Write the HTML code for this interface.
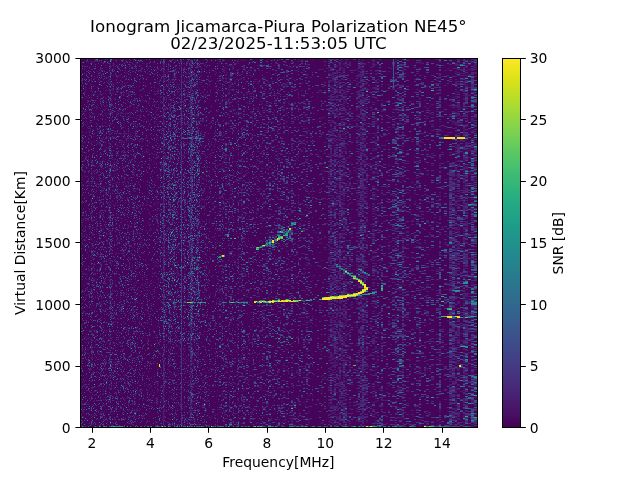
<!DOCTYPE html>
<html lang="en"><head><meta charset="utf-8"><title>Ionogram Jicamarca-Piura</title>
<style>html,body{margin:0;padding:0;background:#fff}body{width:640px;height:480px;overflow:hidden}svg{display:block}text{font-family:"DejaVu Sans","Liberation Sans",sans-serif;fill:#000}.t10{font-size:13.889px}.t12{font-size:16.667px}</style></head>
<body>
<svg width="640" height="480" viewBox="0 0 640 480">
<rect width="640" height="480" fill="#fff"/>
<g shape-rendering="crispEdges" fill="none" stroke-width="1">
<path d="M80 58h398v370h-398z" fill="#450457" stroke="none"/>
<path stroke="#481c6e" d="M123 59.5h1m37 0h1m15 0h1m13 0h1m26 0h1m19 0h1m35 0h1m3 0h2m32 0h1m17 0h2m2 0h2m2 0h1m2 0h2m2 0h4m23 0h3m20 0h2m39 0h3m18 0h3m3 0h2m6 0h6m-362 1h1m7 0h1m6 0h1m5 0h1m2 0h1m24 0h1m10 0h1m4 0h1m9 0h1m33 0h1m16 0h1m1 0h2m27 0h2m32 0h2m54 0h2m8 0h3m82 0h3m5 0h3m-377 1h1m7 0h1m8 0h1m2 0h1m4 0h1m16 0h1m34 0h1m6 0h1m12 0h1m1 0h1m8 0h1m22 0h1m15 0h1m52 0h2m5 0h1m31 0h2m9 0h2m2 0h2m25 0h3m2 0h2m16 0h2m42 0h2m27 0h3m3 0h3m-389 1h1m3 0h1m10 0h1m21 0h1m23 0h1m4 0h1m8 0h1m23 0h1m2 0h2m142 0h2m3 0h2m4 0h2m2 0h2m106 0h3m11 0h3m-364 1h1m53 0h1m8 0h1m9 0h2m6 0h1m30 0h1m11 0h3m1 0h1m36 0h2m55 0h2m9 0h2m4 0h2m13 0h2m6 0h3m46 0h3m2 0h3m26 0h2m8 0h3m6 0h3m-368 1h1m3 0h2m18 0h1m1 0h1m27 0h2m1 0h1m18 0h1m4 0h2m13 0h1m54 0h2m44 0h2m31 0h2m2 0h2m4 0h2m7 0h2m4 0h2m6 0h5m15 0h3m54 0h3m3 0h5m3 0h2m3 0h3m3 0h3m-372 1h1m4 0h1m1 0h1m24 0h1m1 0h2m6 0h1m15 0h1m17 0h1m12 0h1m22 0h1m12 0h3m24 0h3m5 0h1m8 0h1m2 0h1m7 0h1m8 0h2m2 0h1m25 0h2m10 0h2m1 0h2m4 0h2m25 0h3m4 0h2m11 0h3m9 0h2m30 0h3m16 0h5m5 0h3m6 0h3m-387 1h1m2 0h1m24 0h1m2 0h1m5 0h1m19 0h1m1 0h1m10 0h1m3 0h1m14 0h1m1 0h1m8 0h2m4 0h1m36 0h1m7 0h1m1 0h2m83 0h2m6 0h2m7 0h2m11 0h4m10 0h3m-269 1h1m17 0h1m38 0h1m24 0h1m9 0h1m1 0h1m5 0h1m17 0h1m18 0h2m8 0h1m14 0h1m22 0h2m37 0h2m7 0h4m17 0h4m24 0h2m5 0h2m5 0h2m2 0h3m54 0h5m-379 1h1m10 0h2m39 0h1m16 0h1m5 0h1m7 0h1m3 0h1m6 0h1m17 0h1m23 0h2m16 0h2m5 0h2m36 0h1m14 0h2m21 0h2m4 0h2m9 0h2m13 0h2m30 0h2m10 0h2m43 0h2m3 0h3m2 0h3m3 0h2m-373 1h1m1 0h1m15 0h1m2 0h1m39 0h1m9 0h1m3 0h1m5 0h1m14 0h1m1 0h1m7 0h1m24 0h1m8 0h1m65 0h1m23 0h2m6 0h2m2 0h2m3 0h4m13 0h2m2 0h4m96 0h3m5 0h6m-375 1h1m11 0h1m13 0h1m4 0h1m7 0h1m22 0h1m12 0h2m47 0h1m5 0h1m15 0h1m48 0h4m5 0h2m23 0h2m2 0h2m2 0h2m1 0h2m8 0h2m2 0h3m6 0h2m11 0h2m25 0h2m40 0h3m13 0h8m3 0h3m-388 1h1m2 0h1m7 0h1m11 0h1m8 0h1m16 0h1m17 0h1m12 0h1m9 0h1m4 0h1m8 0h1m24 0h1m6 0h2m30 0h2m80 0h2m5 0h2m13 0h4m2 0h2m9 0h2m11 0h2m12 0h2m51 0h2m-366 1h1m35 0h1m35 0h2m2 0h1m6 0h1m13 0h1m1 0h1m25 0h1m2 0h2m6 0h1m14 0h1m3 0h2m18 0h2m64 0h6m1 0h2m116 0h3m14 0h3m-377 1h1m24 0h1m2 0h1m18 0h1m7 0h1m20 0h1m4 0h1m9 0h2m41 0h2m6 0h1m32 0h2m51 0h2m2 0h2m2 0h2m3 0h2m19 0h4m50 0h3m20 0h2m19 0h3m8 0h6m-376 1h1m18 0h1m38 0h1m3 0h1m9 0h1m1 0h1m5 0h2m7 0h1m1 0h1m32 0h2m47 0h1m31 0h2m22 0h4m5 0h2m2 0h2m2 0h2m9 0h2m15 0h2m20 0h2m69 0h3m-379 1h1m4 0h1m15 0h1m5 0h1m10 0h1m29 0h1m14 0h1m16 0h1m1 0h2m1 0h1m3 0h1m17 0h2m1 0h1m2 0h2m19 0h2m1 0h3m54 0h2m22 0h2m2 0h4m1 0h2m15 0h4m79 0h2m16 0h14m-374 1h1m3 0h1m1 0h1m12 0h1m1 0h1m17 0h1m3 0h1m17 0h1m21 0h1m9 0h1m3 0h1m1 0h2m2 0h1m29 0h2m69 0h2m53 0h4m4 0h4m29 0h2m42 0h3m11 0h2m17 0h3m-380 1h1m65 0h1m9 0h1m2 0h1m14 0h1m36 0h1m4 0h1m29 0h2m6 0h1m6 0h2m3 0h2m6 0h2m17 0h2m16 0h4m30 0h2m38 0h2m61 0h3m-377 1h1m48 0h1m27 0h1m12 0h1m7 0h1m1 0h1m3 0h1m12 0h1m13 0h1m6 0h1m2 0h1m88 0h1m14 0h2m3 0h2m4 0h2m11 0h2m10 0h3m61 0h3m24 0h2m6 0h3m-365 1h1m27 0h1m17 0h1m4 0h1m2 0h2m4 0h1m6 0h1m1 0h1m10 0h1m4 0h1m3 0h1m22 0h1m14 0h2m1 0h2m2 0h2m9 0h3m5 0h1m25 0h1m4 0h1m38 0h2m7 0h4m15 0h2m2 0h2m11 0h2m13 0h3m19 0h2m33 0h3m3 0h2m3 0h3m-372 1h1m7 0h1m70 0h1m1 0h1m11 0h1m3 0h1m12 0h1m15 0h1m76 0h2m32 0h8m3 0h2m8 0h2m2 0h3m23 0h2m55 0h3m26 0h6m-385 1h1m15 0h1m3 0h1m14 0h1m17 0h1m17 0h1m7 0h1m16 0h1m7 0h1m25 0h1m1 0h1m4 0h1m10 0h2m18 0h2m1 0h2m12 0h1m5 0h1m50 0h4m4 0h3m17 0h2m2 0h2m13 0h2m78 0h5m3 0h2m-338 1h1m11 0h1m29 0h2m5 0h1m3 0h1m7 0h1m1 0h1m8 0h1m4 0h1m19 0h1m5 0h2m17 0h1m36 0h3m2 0h2m12 0h1m28 0h2m3 0h2m10 0h2m7 0h2m4 0h2m7 0h2m78 0h2m6 0h2m-354 1h2m2 0h1m9 0h1m31 0h1m10 0h1m14 0h1m6 0h1m1 0h1m12 0h1m13 0h2m4 0h2m30 0h2m6 0h1m35 0h2m31 0h2m20 0h2m6 0h4m29 0h2m35 0h7m14 0h5m-375 1h1m4 0h2m28 0h1m1 0h1m40 0h2m3 0h1m8 0h1m7 0h1m10 0h1m3 0h1m8 0h1m13 0h1m6 0h2m54 0h2m46 0h5m4 0h2m2 0h2m7 0h2m6 0h2m22 0h2m65 0h5m5 0h3m3 0h3m-380 1h1m17 0h1m9 0h1m31 0h1m4 0h1m8 0h1m9 0h1m14 0h1m15 0h1m6 0h1m61 0h2m5 0h1m46 0h2m7 0h4m11 0h2m2 0h2m13 0h2m20 0h2m45 0h3m-326 1h1m14 0h1m28 0h1m20 0h2m4 0h1m2 0h1m6 0h2m26 0h2m1 0h1m54 0h1m41 0h2m7 0h2m17 0h2m2 0h2m17 0h2m16 0h3m24 0h3m10 0h2m14 0h2m-352 1h1m10 0h1m4 0h1m3 0h1m4 0h1m1 0h1m31 0h1m3 0h1m21 0h1m3 0h1m12 0h1m11 0h2m38 0h1m31 0h2m1 0h2m34 0h4m2 0h2m9 0h4m13 0h2m6 0h5m15 0h3m62 0h3m8 0h3m-382 1h1m13 0h1m8 0h1m45 0h1m25 0h1m6 0h1m142 0h2m9 0h2m15 0h2m2 0h2m4 0h5m15 0h3m2 0h2m-280 1h1m12 0h1m1 0h1m25 0h1m4 0h1m8 0h1m6 0h1m2 0h1m2 0h1m2 0h2m2 0h1m21 0h1m6 0h1m1 0h2m3 0h2m6 0h1m30 0h2m6 0h1m13 0h2m15 0h2m18 0h2m6 0h2m1 0h4m6 0h2m9 0h2m2 0h6m5 0h2m15 0h3m4 0h3m14 0h3m36 0h2m6 0h5m-363 1h3m1 0h1m2 0h1m26 0h1m1 0h1m19 0h1m1 0h1m5 0h1m1 0h1m9 0h1m8 0h2m12 0h1m14 0h2m8 0h1m2 0h2m67 0h2m18 0h1m2 0h2m4 0h8m1 0h2m17 0h2m76 0h3m24 0h2m-380 1h1m6 0h1m1 0h1m2 0h1m46 0h1m4 0h1m8 0h1m4 0h1m3 0h1m11 0h1m49 0h1m48 0h2m48 0h4m7 0h2m4 0h2m9 0h4m15 0h2m78 0h2m-365 1h1m1 0h1m18 0h1m3 0h1m10 0h1m55 0h1m1 0h1m1 0h1m1 0h1m4 0h1m2 0h1m3 0h2m3 0h1m2 0h1m17 0h1m23 0h1m24 0h1m50 0h2m2 0h2m2 0h2m5 0h4m9 0h8m8 0h3m64 0h2m16 0h3m11 0h3m-390 1h1m18 0h1m8 0h1m15 0h1m4 0h1m20 0h1m8 0h1m7 0h1m5 0h1m13 0h1m36 0h1m20 0h1m18 0h1m37 0h2m16 0h2m8 0h2m2 0h1m2 0h4m13 0h2m44 0h2m33 0h2m-350 1h1m6 0h1m17 0h1m4 0h1m7 0h2m4 0h1m49 0h1m2 0h1m1 0h1m7 0h1m9 0h1m16 0h3m10 0h1m4 0h2m1 0h2m15 0h2m65 0h2m9 0h2m2 0h2m9 0h2m2 0h2m4 0h2m66 0h2m19 0h2m17 0h3m-393 1h1m6 0h1m9 0h1m38 0h1m7 0h1m26 0h1m28 0h1m38 0h2m18 0h2m7 0h2m1 0h2m53 0h2m4 0h3m19 0h2m6 0h2m95 0h8m-368 1h1m6 0h1m15 0h1m31 0h1m4 0h1m1 0h1m24 0h1m1 0h1m3 0h1m8 0h2m8 0h1m20 0h1m23 0h3m8 0h1m5 0h1m8 0h2m15 0h2m23 0h4m2 0h4m5 0h2m27 0h3m24 0h3m37 0h2m14 0h5m5 0h3m-387 1h1m26 0h1m33 0h1m25 0h1m5 0h1m2 0h1m24 0h2m37 0h1m11 0h1m8 0h1m2 0h1m44 0h2m18 0h4m2 0h3m10 0h2m7 0h2m2 0h2m8 0h3m24 0h3m50 0h3m-373 1h1m2 0h1m14 0h1m4 0h2m13 0h1m2 0h1m11 0h1m15 0h1m14 0h1m24 0h1m73 0h1m64 0h2m2 0h2m5 0h2m2 0h2m11 0h2m2 0h4m9 0h2m78 0h2m6 0h2m-347 1h1m9 0h1m8 0h1m4 0h1m25 0h2m14 0h2m4 0h1m5 0h1m12 0h1m8 0h1m6 0h2m1 0h1m20 0h1m25 0h2m8 0h1m44 0h2m2 0h2m2 0h1m2 0h4m11 0h2m2 0h2m101 0h2m-374 1h1m51 0h1m16 0h1m5 0h1m3 0h1m10 0h1m3 0h1m11 0h2m38 0h1m25 0h2m41 0h2m22 0h4m2 0h3m6 0h2m17 0h2m15 0h2m5 0h2m34 0h2m23 0h3m5 0h3m-355 1h1m5 0h1m16 0h1m15 0h1m10 0h1m18 0h1m8 0h1m6 0h1m8 0h1m22 0h1m9 0h1m27 0h2m13 0h2m11 0h1m16 0h1m4 0h2m31 0h2m17 0h2m2 0h2m97 0h3m-339 1h1m19 0h1m6 0h1m14 0h1m18 0h1m5 0h1m30 0h1m1 0h1m6 0h1m9 0h2m46 0h2m34 0h4m2 0h2m7 0h2m11 0h4m10 0h3m24 0h3m17 0h2m42 0h2m6 0h3m-336 1h1m22 0h1m19 0h1m7 0h2m36 0h1m22 0h2m10 0h1m3 0h2m26 0h2m9 0h1m26 0h4m7 0h2m17 0h2m17 0h2m9 0h3m21 0h3m38 0h3m-363 1h1m56 0h1m3 0h1m4 0h2m26 0h2m4 0h1m24 0h1m6 0h1m23 0h1m6 0h2m3 0h1m27 0h1m27 0h1m6 0h4m28 0h4m8 0h3m56 0h3m23 0h3m-365 1h1m5 0h1m5 0h1m2 0h1m77 0h1m1 0h3m39 0h1m50 0h2m11 0h2m30 0h4m11 0h2m13 0h2m4 0h2m89 0h5m3 0h2m-364 1h1m28 0h1m7 0h1m25 0h2m4 0h1m3 0h1m8 0h1m6 0h1m5 0h1m25 0h1m39 0h1m42 0h1m15 0h1m10 0h2m7 0h2m4 0h2m9 0h2m21 0h2m12 0h2m27 0h2m3 0h2m24 0h5m-377 1h1m4 0h1m31 0h1m13 0h1m28 0h1m20 0h1m20 0h1m51 0h2m24 0h2m45 0h2m2 0h2m3 0h2m15 0h2m4 0h2m2 0h2m34 0h2m53 0h3m-372 1h1m11 0h1m5 0h1m5 0h1m5 0h1m5 0h1m34 0h2m3 0h1m1 0h1m20 0h1m2 0h2m4 0h1m1 0h1m1 0h1m53 0h2m13 0h2m18 0h2m37 0h2m2 0h2m5 0h2m8 0h2m5 0h2m2 0h2m2 0h2m17 0h3m9 0h2m29 0h3m31 0h3m2 0h3m-363 1h1m16 0h1m10 0h1m8 0h1m1 0h1m19 0h1m2 0h1m2 0h1m16 0h2m45 0h2m5 0h1m1 0h2m12 0h2m22 0h4m43 0h2m4 0h2m7 0h2m4 0h2m5 0h2m2 0h2m10 0h3m17 0h3m4 0h3m34 0h3m18 0h3m-374 1h1m21 0h1m2 0h1m5 0h1m16 0h1m29 0h1m5 0h1m4 0h1m4 0h1m11 0h1m6 0h1m11 0h1m18 0h2m51 0h2m6 0h2m15 0h2m20 0h4m2 0h2m1 0h2m23 0h2m4 0h2m9 0h2m14 0h2m5 0h2m23 0h2m-350 1h1m3 0h1m23 0h3m3 0h1m3 0h1m3 0h1m13 0h2m17 0h1m6 0h1m6 0h1m2 0h1m16 0h1m1 0h1m1 0h1m34 0h1m20 0h2m10 0h1m35 0h1m33 0h2m2 0h3m6 0h2m2 0h2m9 0h2m19 0h2m53 0h3m13 0h3m2 0h3m14 0h3m-388 1h1m12 0h1m7 0h2m5 0h1m37 0h1m7 0h1m37 0h1m3 0h1m35 0h1m8 0h2m16 0h3m1 0h2m17 0h2m17 0h2m16 0h2m9 0h2m4 0h6m9 0h2m90 0h5m-373 1h1m31 0h1m5 0h2m6 0h1m21 0h1m10 0h1m27 0h1m16 0h1m19 0h1m3 0h1m8 0h1m35 0h1m2 0h1m5 0h2m25 0h2m21 0h2m5 0h2m27 0h5m94 0h3m-389 1h1m3 0h1m4 0h1m6 0h1m16 0h1m6 0h1m4 0h1m34 0h1m5 0h1m15 0h1m2 0h1m6 0h1m7 0h1m22 0h1m62 0h2m12 0h1m22 0h4m2 0h2m9 0h6m7 0h4m6 0h2m61 0h3m23 0h3m3 0h5m-359 1h1m6 0h1m40 0h1m4 0h1m15 0h1m3 0h1m33 0h1m12 0h1m44 0h1m2 0h1m8 0h2m40 0h2m6 0h2m18 0h2m6 0h2m15 0h2m23 0h3m7 0h3m38 0h3m5 0h3m-387 1h1m7 0h1m13 0h1m17 0h1m7 0h1m9 0h1m36 0h1m18 0h3m21 0h2m1 0h1m2 0h2m23 0h2m7 0h3m1 0h2m9 0h1m21 0h2m41 0h2m2 0h2m4 0h2m5 0h2m4 0h6m2 0h2m20 0h3m2 0h2m3 0h2m2 0h3m17 0h3m26 0h2m3 0h8m-379 1h1m37 0h1m2 0h1m1 0h1m1 0h1m19 0h1m8 0h2m25 0h1m1 0h2m4 0h1m39 0h1m17 0h1m9 0h2m6 0h1m35 0h2m10 0h2m6 0h2m6 0h1m2 0h2m15 0h6m2 0h2m106 0h3m-395 1h1m17 0h1m1 0h1m6 0h1m1 0h1m5 0h1m50 0h1m22 0h1m15 0h1m67 0h2m61 0h1m21 0h2m2 0h2m15 0h2m5 0h2m7 0h2m25 0h5m34 0h2m6 0h3m-330 1h1m18 0h1m5 0h1m10 0h1m5 0h1m93 0h1m13 0h2m47 0h2m4 0h2m5 0h2m4 0h4m6 0h3m96 0h3m-354 1h1m2 0h1m26 0h1m12 0h2m9 0h1m13 0h1m3 0h1m5 0h1m1 0h1m1 0h2m19 0h1m19 0h2m17 0h1m43 0h2m22 0h4m19 0h3m2 0h2m105 0h3m3 0h3m-365 1h1m38 0h1m6 0h1m7 0h1m15 0h2m3 0h1m5 0h3m7 0h1m1 0h2m2 0h1m9 0h1m5 0h1m6 0h3m21 0h1m15 0h2m15 0h2m18 0h2m24 0h2m7 0h2m6 0h2m24 0h2m15 0h3m36 0h3m5 0h2m30 0h3m-385 1h1m1 0h1m27 0h1m4 0h1m9 0h1m19 0h1m1 0h1m5 0h2m2 0h1m2 0h1m10 0h1m6 0h1m3 0h1m18 0h2m13 0h3m44 0h2m3 0h1m7 0h1m7 0h1m18 0h1m15 0h6m7 0h2m21 0h2m6 0h3m20 0h2m9 0h3m46 0h2m3 0h3m11 0h3m-390 1h1m14 0h1m5 0h1m3 0h1m7 0h1m1 0h1m10 0h1m20 0h1m4 0h1m3 0h1m6 0h1m16 0h1m9 0h1m14 0h2m38 0h1m50 0h2m29 0h4m5 0h4m9 0h2m2 0h2m4 0h2m4 0h5m75 0h5m17 0h3m-392 1h1m25 0h1m37 0h2m11 0h3m6 0h1m5 0h1m3 0h1m2 0h1m2 0h1m2 0h1m55 0h2m1 0h1m2 0h1m7 0h2m1 0h2m65 0h2m2 0h2m5 0h2m13 0h2m14 0h3m27 0h2m27 0h3m21 0h5m5 0h3m-344 1h1m17 0h1m25 0h1m4 0h1m16 0h1m1 0h1m3 0h1m35 0h1m10 0h2m1 0h2m88 0h3m4 0h2m17 0h2m8 0h3m2 0h2m13 0h3m-306 1h1m2 0h1m48 0h1m12 0h1m13 0h1m12 0h1m8 0h1m7 0h1m61 0h2m10 0h2m12 0h2m13 0h2m27 0h2m13 0h2m2 0h2m11 0h2m2 0h2m97 0h3m6 0h3m-390 1h1m33 0h1m11 0h1m2 0h1m31 0h1m8 0h1m4 0h1m2 0h1m1 0h1m27 0h1m32 0h1m19 0h1m8 0h3m18 0h1m44 0h2m11 0h2m2 0h4m28 0h3m60 0h2m6 0h2m-376 1h2m15 0h1m27 0h1m29 0h1m4 0h2m24 0h1m27 0h1m19 0h2m21 0h2m12 0h1m2 0h2m21 0h2m24 0h2m7 0h2m19 0h4m29 0h2m55 0h5m6 0h2m-373 1h1m5 0h1m37 0h1m11 0h1m8 0h1m2 0h1m3 0h1m12 0h1m70 0h1m81 0h2m2 0h4m5 0h4m11 0h4m37 0h3m-293 1h1m65 0h1m14 0h2m1 0h1m3 0h1m55 0h1m12 0h2m23 0h2m15 0h2m18 0h2m11 0h4m11 0h2m4 0h6m63 0h3m21 0h2m6 0h2m6 0h3m-385 1h1m20 0h1m47 0h1m2 0h1m7 0h1m4 0h1m6 0h1m8 0h2m6 0h1m16 0h1m13 0h1m41 0h1m34 0h2m22 0h6m9 0h2m11 0h2m64 0h2m15 0h3m11 0h2m6 0h2m6 0h6m-391 1h1m10 0h1m3 0h1m6 0h1m3 0h1m4 0h1m14 0h1m2 0h1m23 0h1m4 0h1m22 0h1m2 0h2m6 0h1m1 0h1m14 0h2m48 0h1m2 0h1m37 0h2m7 0h2m11 0h4m4 0h2m1 0h2m2 0h2m17 0h2m33 0h2m48 0h2m14 0h2m-384 1h1m9 0h1m36 0h1m14 0h1m24 0h1m6 0h1m12 0h1m1 0h1m10 0h1m48 0h2m8 0h2m12 0h1m2 0h1m2 0h1m2 0h2m3 0h1m17 0h2m14 0h2m34 0h2m2 0h4m2 0h2m2 0h5m44 0h3m12 0h3m18 0h3m3 0h2m-356 1h2m61 0h1m2 0h1m15 0h1m6 0h1m63 0h3m45 0h2m18 0h4m5 0h6m15 0h2m24 0h2m59 0h2m6 0h2m8 0h3m6 0h3m-379 1h1m2 0h1m2 0h1m27 0h1m3 0h2m18 0h1m23 0h1m9 0h1m4 0h1m8 0h1m16 0h1m1 0h2m69 0h2m7 0h2m5 0h2m20 0h2m5 0h2m8 0h2m7 0h4m13 0h2m2 0h2m2 0h3m11 0h2m48 0h2m-368 1h1m11 0h1m14 0h1m15 0h1m9 0h1m26 0h1m2 0h1m16 0h1m22 0h1m123 0h2m4 0h2m9 0h2m2 0h2m7 0h2m6 0h2m31 0h3m55 0h3m5 0h3m-357 1h1m11 0h1m1 0h1m37 0h1m4 0h1m2 0h1m2 0h1m31 0h1m35 0h1m25 0h1m6 0h2m33 0h2m27 0h2m15 0h2m8 0h2m29 0h2m56 0h2m8 0h3m-360 1h1m16 0h1m2 0h1m16 0h1m20 0h1m11 0h1m9 0h1m61 0h2m14 0h2m60 0h2m2 0h4m2 0h1m4 0h4m9 0h2m113 0h3m-392 1h1m6 0h1m14 0h1m27 0h1m6 0h1m18 0h1m1 0h1m2 0h1m3 0h1m11 0h1m41 0h1m14 0h1m31 0h1m5 0h1m53 0h2m9 0h2m8 0h2m9 0h2m2 0h2m4 0h2m5 0h2m18 0h2m22 0h3m2 0h3m36 0h3m3 0h6m-395 1h1m3 0h1m34 0h2m5 0h1m4 0h1m3 0h1m4 0h1m3 0h1m17 0h1m5 0h1m2 0h1m1 0h1m4 0h1m9 0h2m3 0h1m1 0h1m30 0h1m52 0h2m16 0h2m33 0h2m2 0h7m11 0h4m2 0h2m11 0h2m9 0h2m14 0h2m59 0h2m-377 1h1m8 0h1m6 0h1m17 0h1m9 0h1m28 0h1m1 0h2m1 0h1m23 0h1m58 0h1m4 0h2m1 0h2m24 0h2m16 0h2m3 0h2m22 0h2m2 0h2m11 0h2m7 0h2m6 0h2m45 0h3m5 0h2m18 0h2m16 0h3m3 0h2m6 0h3m-389 1h1m30 0h1m6 0h1m39 0h2m1 0h1m2 0h1m2 0h1m1 0h1m5 0h1m11 0h1m4 0h1m13 0h1m9 0h1m2 0h1m11 0h2m5 0h2m51 0h2m3 0h2m3 0h2m4 0h1m11 0h2m4 0h4m2 0h2m3 0h4m13 0h2m15 0h2m25 0h2m12 0h3m2 0h3m10 0h2m19 0h2m8 0h3m-386 1h1m7 0h2m16 0h2m11 0h1m41 0h1m27 0h1m8 0h1m27 0h1m16 0h1m8 0h2m6 0h1m28 0h2m8 0h2m25 0h2m2 0h2m131 0h3m6 0h3m-386 1h2m6 0h1m30 0h1m5 0h1m53 0h1m3 0h1m19 0h1m27 0h1m13 0h1m2 0h1m9 0h2m57 0h2m13 0h2m2 0h2m11 0h2m2 0h2m36 0h2m53 0h3m5 0h3m-377 1h1m12 0h1m18 0h1m5 0h1m5 0h1m39 0h1m14 0h1m14 0h1m13 0h2m17 0h1m6 0h1m19 0h1m44 0h2m22 0h2m2 0h7m11 0h2m4 0h2m11 0h2m4 0h5m33 0h2m8 0h2m24 0h5m-341 1h2m40 0h1m1 0h1m10 0h1m4 0h1m4 0h1m74 0h3m68 0h2m9 0h2m19 0h4m36 0h2m15 0h2m36 0h8m6 0h3m-389 1h1m14 0h1m7 0h1m14 0h2m10 0h1m18 0h1m16 0h1m5 0h1m12 0h1m30 0h2m2 0h2m10 0h1m10 0h1m7 0h1m46 0h2m29 0h2m2 0h1m6 0h2m15 0h2m13 0h2m78 0h3m-344 1h1m23 0h1m26 0h1m24 0h1m11 0h1m38 0h2m3 0h1m29 0h2m56 0h2m5 0h2m11 0h2m2 0h2m4 0h4m2 0h5m91 0h3m-383 1h1m11 0h1m32 0h1m22 0h1m4 0h1m18 0h1m2 0h1m13 0h1m13 0h1m2 0h1m8 0h1m4 0h2m36 0h2m7 0h2m53 0h2m4 0h2m3 0h2m2 0h2m13 0h6m89 0h5m3 0h5m-357 1h1m36 0h1m14 0h1m5 0h1m18 0h1m1 0h2m2 0h1m51 0h2m32 0h1m2 0h2m16 0h2m16 0h2m9 0h2m2 0h4m22 0h2m2 0h2m6 0h3m20 0h2m5 0h2m2 0h3m7 0h3m49 0h3m3 0h3m-395 1h1m22 0h1m4 0h2m9 0h2m8 0h1m31 0h1m13 0h1m6 0h1m7 0h1m4 0h1m3 0h1m55 0h2m18 0h1m23 0h2m27 0h2m9 0h6m11 0h2m2 0h2m2 0h2m48 0h3m46 0h3m-385 1h1m2 0h1m34 0h1m2 0h1m19 0h1m24 0h1m60 0h2m6 0h1m24 0h2m1 0h2m18 0h2m42 0h2m2 0h2m5 0h2m2 0h2m13 0h2m26 0h2m2 0h3m2 0h2m42 0h3m5 0h3m11 0h2m6 0h6m-392 1h1m8 0h1m17 0h1m22 0h1m6 0h1m8 0h2m11 0h1m6 0h2m1 0h2m1 0h1m6 0h1m10 0h1m27 0h1m14 0h1m35 0h1m3 0h3m49 0h2m7 0h4m6 0h2m7 0h4m69 0h3m18 0h3m2 0h3m3 0h2m-376 1h1m2 0h1m28 0h1m1 0h1m6 0h1m2 0h1m19 0h2m13 0h1m4 0h1m10 0h1m19 0h1m4 0h1m20 0h2m6 0h1m71 0h2m5 0h2m9 0h2m2 0h6m22 0h2m19 0h2m56 0h2m8 0h3m11 0h5m3 0h6m-351 1h1m1 0h1m14 0h1m12 0h1m6 0h1m7 0h1m10 0h1m8 0h1m31 0h4m11 0h1m11 0h2m56 0h2m20 0h6m3 0h6m4 0h2m11 0h4m13 0h2m50 0h3m15 0h3m13 0h3m3 0h3m-388 1h1m10 0h1m7 0h1m35 0h1m2 0h1m25 0h1m1 0h1m1 0h1m3 0h1m2 0h1m9 0h1m15 0h1m13 0h1m3 0h2m44 0h1m16 0h1m30 0h2m9 0h2m4 0h2m11 0h2m5 0h2m2 0h2m2 0h4m7 0h2m22 0h3m2 0h2m8 0h2m39 0h2m8 0h3m-344 1h1m40 0h1m1 0h1m3 0h1m1 0h2m15 0h1m5 0h1m2 0h1m6 0h2m2 0h1m10 0h1m66 0h1m39 0h4m7 0h2m2 0h2m2 0h2m17 0h2m4 0h5m18 0h2m60 0h3m3 0h2m3 0h3m-372 1h1m3 0h1m28 0h1m8 0h1m13 0h2m6 0h3m2 0h1m10 0h1m11 0h1m4 0h1m45 0h1m53 0h2m47 0h2m30 0h2m20 0h3m17 0h2m34 0h2m6 0h5m6 0h3m-392 1h1m2 0h1m16 0h1m6 0h2m3 0h1m33 0h1m12 0h1m7 0h1m4 0h1m13 0h1m32 0h1m13 0h1m17 0h1m24 0h2m5 0h1m16 0h1m30 0h2m3 0h2m13 0h4m4 0h2m97 0h5m6 0h3m-387 1h1m12 0h1m5 0h1m14 0h1m9 0h1m16 0h1m12 0h1m2 0h1m2 0h1m9 0h2m8 0h2m2 0h1m1 0h1m27 0h1m16 0h1m15 0h2m26 0h1m20 0h2m31 0h2m4 0h2m11 0h2m37 0h2m58 0h6m-347 1h1m17 0h1m35 0h1m1 0h1m4 0h1m3 0h1m1 0h1m4 0h1m7 0h1m8 0h1m17 0h1m10 0h2m3 0h2m33 0h1m68 0h4m11 0h2m2 0h4m9 0h4m27 0h3m5 0h2m8 0h2m29 0h5m3 0h2m-355 1h1m5 0h1m11 0h1m25 0h1m4 0h1m5 0h1m3 0h1m11 0h1m9 0h1m1 0h1m4 0h2m23 0h1m29 0h1m6 0h2m7 0h2m7 0h2m23 0h2m14 0h2m9 0h2m2 0h2m13 0h2m5 0h2m2 0h6m13 0h2m14 0h2m-287 1h1m2 0h1m54 0h1m6 0h1m15 0h1m4 0h1m9 0h2m21 0h1m26 0h1m5 0h1m5 0h1m25 0h2m7 0h2m17 0h2m6 0h2m4 0h2m3 0h2m2 0h2m19 0h4m34 0h5m30 0h2m-350 1h1m50 0h1m6 0h1m3 0h1m2 0h1m17 0h1m15 0h1m1 0h1m2 0h1m33 0h1m42 0h2m20 0h2m23 0h2m9 0h4m2 0h2m1 0h2m2 0h2m17 0h2m6 0h2m77 0h11m3 0h2m3 0h3m-387 1h1m14 0h1m5 0h1m22 0h1m3 0h1m30 0h1m26 0h3m5 0h1m37 0h2m16 0h2m27 0h2m23 0h4m16 0h2m9 0h2m2 0h2m13 0h2m4 0h2m22 0h2m7 0h2m32 0h3m23 0h3m3 0h2m9 0h3m-379 1h1m2 0h1m25 0h1m4 0h1m28 0h2m13 0h1m3 0h1m26 0h1m24 0h1m5 0h1m18 0h2m6 0h1m3 0h2m9 0h1m47 0h2m30 0h2m13 0h2m80 0h3m5 0h3m-352 1h1m32 0h1m11 0h1m2 0h1m24 0h1m8 0h1m70 0h2m39 0h2m20 0h2m11 0h2m6 0h3m4 0h2m13 0h2m86 0h5m6 0h3m-360 1h1m16 0h1m28 0h2m19 0h1m4 0h1m33 0h1m5 0h1m11 0h1m24 0h2m42 0h2m20 0h2m4 0h3m4 0h2m9 0h2m4 0h2m8 0h3m64 0h2m14 0h2m6 0h5m6 0h3m-395 1h1m18 0h1m7 0h1m13 0h1m40 0h1m4 0h1m4 0h1m15 0h1m7 0h1m7 0h1m11 0h3m36 0h2m12 0h3m32 0h2m31 0h2m2 0h2m13 0h4m13 0h2m2 0h2m11 0h3m24 0h2m28 0h3m3 0h2m-366 1h1m1 0h1m13 0h1m16 0h1m7 0h2m40 0h1m1 0h1m8 0h1m3 0h1m1 0h2m16 0h1m14 0h3m3 0h2m14 0h2m14 0h1m11 0h1m5 0h1m41 0h2m25 0h2m2 0h3m4 0h4m2 0h2m9 0h2m25 0h2m51 0h3m14 0h3m-395 1h1m1 0h1m8 0h1m19 0h1m5 0h1m24 0h1m15 0h2m9 0h1m18 0h2m9 0h1m7 0h1m17 0h1m13 0h1m3 0h1m19 0h1m32 0h1m6 0h1m32 0h1m2 0h2m6 0h2m9 0h2m2 0h2m6 0h3m44 0h2m42 0h2m-341 1h1m16 0h1m9 0h1m11 0h2m3 0h1m19 0h1m6 0h1m1 0h1m24 0h1m13 0h1m5 0h1m11 0h2m21 0h1m2 0h1m49 0h2m6 0h1m4 0h2m4 0h2m5 0h2m2 0h2m10 0h3m6 0h2m5 0h2m49 0h2m-345 1h1m9 0h1m2 0h2m59 0h1m3 0h1m6 0h1m5 0h1m14 0h2m32 0h1m9 0h2m30 0h2m14 0h2m36 0h6m5 0h4m15 0h2m2 0h2m4 0h3m20 0h2m5 0h2m12 0h3m30 0h6m2 0h3m8 0h3m-357 1h1m9 0h2m24 0h1m12 0h2m8 0h1m6 0h2m11 0h1m31 0h3m31 0h1m8 0h1m12 0h2m13 0h2m30 0h2m4 0h2m7 0h2m4 0h2m7 0h2m2 0h2m33 0h2m27 0h3m18 0h2m16 0h3m6 0h3m-396 1h1m2 0h1m13 0h1m2 0h1m8 0h1m15 0h1m7 0h1m2 0h1m25 0h2m12 0h1m3 0h1m14 0h1m32 0h1m3 0h1m11 0h1m53 0h2m29 0h2m2 0h2m5 0h4m15 0h4m4 0h2m18 0h2m62 0h8m-366 1h1m19 0h1m37 0h1m19 0h1m1 0h1m8 0h1m2 0h1m3 0h1m1 0h1m7 0h2m15 0h1m6 0h1m103 0h2m2 0h2m4 0h1m2 0h2m2 0h2m9 0h2m4 0h2m2 0h2m4 0h5m15 0h3m4 0h3m17 0h2m31 0h3m2 0h3m3 0h5m-353 1h1m9 0h1m7 0h1m32 0h2m7 0h1m5 0h1m2 0h2m35 0h1m10 0h1m15 0h1m5 0h2m27 0h2m9 0h2m42 0h1m27 0h2m13 0h2m33 0h3m38 0h6m-375 1h1m72 0h1m1 0h1m22 0h1m5 0h1m28 0h1m31 0h1m3 0h2m6 0h1m22 0h1m41 0h4m7 0h2m15 0h2m6 0h2m71 0h2m14 0h2m14 0h6m-395 1h1m9 0h1m36 0h1m12 0h1m14 0h1m6 0h1m6 0h1m6 0h1m12 0h1m12 0h1m12 0h1m19 0h1m24 0h1m14 0h1m25 0h2m23 0h2m4 0h2m7 0h2m4 0h2m9 0h4m2 0h2m4 0h3m2 0h2m7 0h2m9 0h2m40 0h2m3 0h3m18 0h3m-381 1h1m12 0h2m6 0h1m3 0h1m126 0h2m24 0h1m40 0h2m22 0h2m4 0h3m2 0h2m13 0h4m4 0h2m20 0h2m14 0h2m12 0h3m20 0h2m8 0h3m22 0h3m-387 1h1m36 0h1m15 0h1m20 0h1m4 0h1m7 0h1m19 0h1m36 0h3m5 0h1m10 0h1m20 0h1m28 0h2m3 0h2m14 0h2m21 0h2m13 0h2m28 0h3m57 0h3m10 0h3m-377 1h1m24 0h1m37 0h1m7 0h1m24 0h1m81 0h2m28 0h2m27 0h2m13 0h2m4 0h2m7 0h6m2 0h2m31 0h3m9 0h3m38 0h3m2 0h3m-372 1h1m6 0h1m1 0h1m10 0h1m6 0h1m9 0h1m2 0h1m34 0h1m6 0h1m20 0h1m9 0h1m23 0h2m56 0h2m43 0h2m4 0h4m1 0h2m15 0h2m4 0h2m52 0h3m17 0h3m10 0h3m3 0h2m8 0h3m3 0h3m-392 1h1m36 0h1m14 0h1m12 0h1m12 0h1m27 0h1m2 0h1m4 0h1m33 0h2m21 0h1m12 0h2m7 0h2m11 0h1m47 0h2m7 0h2m2 0h2m9 0h2m103 0h3m-386 1h1m5 0h2m9 0h1m9 0h1m2 0h2m9 0h1m4 0h2m2 0h1m1 0h1m19 0h1m21 0h1m3 0h2m1 0h1m2 0h1m1 0h1m4 0h1m1 0h1m4 0h1m14 0h1m9 0h2m16 0h2m87 0h2m4 0h5m2 0h6m7 0h2m4 0h2m20 0h2m64 0h3m8 0h2m-373 1h1m5 0h1m4 0h1m2 0h1m22 0h1m19 0h1m11 0h1m47 0h1m13 0h1m33 0h2m71 0h4m2 0h2m5 0h2m6 0h2m5 0h2m2 0h2m52 0h3m33 0h3m10 0h3m-367 1h1m8 0h1m5 0h1m34 0h1m2 0h1m4 0h1m3 0h1m16 0h1m9 0h1m1 0h1m16 0h1m11 0h1m8 0h3m19 0h1m18 0h1m14 0h2m68 0h2m2 0h4m2 0h2m18 0h2m28 0h3m30 0h3m11 0h2m-362 1h1m24 0h2m5 0h1m3 0h1m50 0h1m6 0h1m13 0h1m18 0h2m16 0h1m7 0h1m34 0h2m12 0h1m24 0h2m7 0h2m2 0h4m2 0h2m7 0h8m9 0h2m37 0h2m47 0h5m-374 1h1m38 0h1m2 0h1m1 0h1m18 0h1m2 0h1m2 0h1m2 0h1m3 0h1m28 0h1m41 0h1m1 0h2m1 0h2m12 0h2m9 0h1m8 0h1m25 0h2m11 0h2m18 0h2m21 0h6m4 0h5m29 0h3m-327 1h1m19 0h1m5 0h1m25 0h1m28 0h1m7 0h1m1 0h1m6 0h1m2 0h1m7 0h1m2 0h1m2 0h1m32 0h2m31 0h2m4 0h2m17 0h1m23 0h1m15 0h2m6 0h2m18 0h2m46 0h2m51 0h3m3 0h5m-377 1h1m4 0h1m5 0h1m25 0h1m4 0h1m14 0h1m6 0h1m7 0h1m2 0h1m1 0h1m14 0h1m73 0h2m24 0h2m4 0h4m35 0h2m4 0h2m5 0h6m13 0h2m4 0h2m84 0h8m3 0h2m-373 1h1m29 0h1m5 0h1m19 0h2m9 0h1m14 0h1m6 0h2m5 0h1m92 0h2m6 0h2m45 0h2m3 0h4m15 0h6m15 0h2m14 0h2m7 0h3m30 0h2m8 0h3m8 0h3m2 0h3m3 0h3m-358 1h1m8 0h1m47 0h1m18 0h1m4 0h1m3 0h3m6 0h1m13 0h1m56 0h2m25 0h2m18 0h2m13 0h4m9 0h2m2 0h2m4 0h2m29 0h2m15 0h2m36 0h3m2 0h3m3 0h2m-365 1h1m4 0h1m18 0h1m4 0h1m27 0h1m5 0h1m10 0h1m8 0h1m7 0h1m25 0h1m4 0h1m1 0h1m18 0h2m9 0h2m9 0h1m46 0h1m30 0h2m6 0h2m5 0h6m11 0h2m39 0h3m5 0h2m13 0h2m-360 1h1m2 0h1m4 0h1m57 0h1m1 0h1m4 0h1m8 0h1m9 0h1m2 0h1m10 0h1m4 0h1m5 0h1m15 0h1m30 0h1m7 0h1m15 0h2m3 0h3m51 0h6m4 0h3m2 0h2m27 0h3m17 0h3m26 0h3m2 0h3m45 0h3m-376 1h1m7 0h1m8 0h1m37 0h1m34 0h1m3 0h1m11 0h1m25 0h1m102 0h2m1 0h2m2 0h2m11 0h2m2 0h2m2 0h4m4 0h5m20 0h2m40 0h2m3 0h3m8 0h2m8 0h3m-382 1h1m5 0h1m12 0h1m4 0h1m13 0h1m21 0h1m7 0h1m11 0h1m1 0h1m16 0h1m4 0h2m38 0h2m54 0h2m25 0h2m21 0h2m1 0h2m8 0h2m11 0h4m94 0h3m2 0h3m-374 1h1m11 0h1m13 0h1m6 0h1m2 0h1m15 0h2m8 0h1m4 0h1m11 0h4m14 0h2m4 0h1m21 0h2m9 0h2m48 0h1m43 0h2m4 0h2m2 0h2m2 0h3m2 0h2m13 0h6m22 0h2m21 0h2m41 0h3m2 0h3m-369 1h1m5 0h1m1 0h1m61 0h1m63 0h2m32 0h1m18 0h3m2 0h2m3 0h1m23 0h1m4 0h4m5 0h2m6 0h2m3 0h4m17 0h2m10 0h5m86 0h2m6 0h3m-389 1h1m9 0h1m2 0h1m13 0h1m14 0h1m5 0h1m12 0h1m18 0h1m2 0h1m2 0h2m5 0h1m9 0h1m3 0h1m7 0h1m3 0h1m17 0h1m20 0h2m24 0h2m27 0h1m33 0h2m5 0h2m2 0h2m13 0h2m2 0h4m53 0h7m10 0h5m8 0h3m5 0h6m2 0h3m-383 1h1m15 0h1m7 0h1m2 0h1m7 0h1m28 0h1m6 0h1m6 0h2m17 0h1m27 0h1m10 0h1m15 0h1m18 0h1m2 0h1m14 0h1m10 0h1m29 0h2m17 0h2m2 0h1m17 0h4m2 0h2m28 0h3m19 0h2m15 0h3m15 0h3m5 0h3m3 0h2m-382 1h1m19 0h1m2 0h1m18 0h1m21 0h1m15 0h1m29 0h1m10 0h1m13 0h1m9 0h2m11 0h1m21 0h2m26 0h2m17 0h2m16 0h2m6 0h2m3 0h2m8 0h2m11 0h4m24 0h3m34 0h2m24 0h2m6 0h2m6 0h3m-392 1h1m16 0h1m57 0h1m4 0h1m1 0h1m3 0h1m17 0h1m34 0h1m10 0h1m26 0h1m33 0h1m42 0h2m1 0h6m4 0h2m9 0h4m2 0h2m4 0h3m6 0h2m31 0h2m33 0h8m17 0h3m-367 1h1m2 0h1m28 0h1m4 0h1m6 0h1m8 0h1m29 0h1m5 0h1m6 0h1m34 0h2m55 0h1m7 0h2m4 0h1m11 0h2m15 0h4m11 0h8m8 0h3m20 0h4m15 0h2m20 0h3m26 0h3m-376 1h1m1 0h1m13 0h1m1 0h1m31 0h2m12 0h1m6 0h1m9 0h1m74 0h1m44 0h1m9 0h2m1 0h4m18 0h4m15 0h2m9 0h2m21 0h2m16 0h3m7 0h2m5 0h3m30 0h3m11 0h5m-375 1h2m13 0h2m29 0h1m11 0h1m1 0h1m12 0h1m7 0h1m18 0h1m6 0h1m15 0h1m13 0h3m12 0h1m17 0h2m65 0h6m5 0h2m17 0h2m10 0h3m74 0h3m5 0h3m-363 1h1m7 0h1m16 0h1m43 0h1m23 0h1m23 0h2m6 0h3m27 0h1m30 0h2m21 0h2m20 0h2m11 0h2m15 0h2m8 0h2m61 0h3m15 0h6m8 0h2m-377 1h1m45 0h1m1 0h1m27 0h1m8 0h1m10 0h1m3 0h1m1 0h1m9 0h1m3 0h2m6 0h2m48 0h1m15 0h2m9 0h2m17 0h2m20 0h2m4 0h2m1 0h2m2 0h2m13 0h2m2 0h4m6 0h3m6 0h2m7 0h2m65 0h3m3 0h5m3 0h3m-383 1h1m3 0h1m30 0h1m6 0h1m26 0h1m2 0h2m5 0h1m21 0h1m30 0h1m26 0h2m4 0h3m3 0h1m6 0h2m28 0h2m29 0h2m19 0h2m7 0h2m10 0h3m2 0h2m37 0h3m46 0h3m3 0h3m-392 1h1m8 0h1m13 0h1m4 0h1m10 0h1m11 0h2m4 0h1m16 0h2m17 0h1m5 0h1m8 0h2m9 0h1m34 0h1m1 0h1m14 0h1m21 0h2m16 0h1m27 0h1m12 0h2m3 0h2m2 0h2m11 0h2m2 0h4m11 0h2m67 0h3m-358 1h1m10 0h1m8 0h1m39 0h1m11 0h1m2 0h1m7 0h1m4 0h1m10 0h1m33 0h1m19 0h1m48 0h3m16 0h2m16 0h2m2 0h2m7 0h4m13 0h2m12 0h3m22 0h2m20 0h2m8 0h2m21 0h5m14 0h6m-392 1h1m6 0h1m6 0h2m22 0h1m7 0h1m31 0h1m6 0h1m1 0h1m51 0h1m37 0h1m38 0h2m25 0h2m28 0h2m4 0h4m87 0h2m8 0h3m-382 1h1m61 0h1m29 0h1m3 0h2m5 0h2m13 0h1m41 0h2m15 0h2m71 0h2m11 0h2m7 0h6m8 0h3m74 0h3m3 0h2m8 0h3m-376 1h1m6 0h1m8 0h1m3 0h2m4 0h1m7 0h1m2 0h1m6 0h1m19 0h1m6 0h2m4 0h1m5 0h1m1 0h1m6 0h2m18 0h1m14 0h2m20 0h1m47 0h2m8 0h6m19 0h2m6 0h2m4 0h1m4 0h2m30 0h2m39 0h3m-328 1h1m17 0h1m2 0h1m3 0h1m3 0h1m29 0h1m16 0h1m7 0h1m14 0h3m3 0h1m1 0h2m9 0h1m32 0h1m37 0h1m77 0h2m84 0h3m10 0h3m11 0h3m-383 1h1m4 0h1m30 0h1m5 0h1m20 0h1m8 0h1m5 0h1m7 0h1m50 0h1m8 0h1m1 0h3m17 0h1m81 0h2m15 0h4m10 0h3m41 0h3m20 0h2m16 0h3m-375 1h1m38 0h1m32 0h1m5 0h1m5 0h1m11 0h1m2 0h1m14 0h1m30 0h2m6 0h1m13 0h1m7 0h2m21 0h2m43 0h2m13 0h2m4 0h2m15 0h2m7 0h2m18 0h2m37 0h2m29 0h3m-381 1h1m67 0h1m25 0h1m32 0h1m14 0h1m11 0h2m78 0h1m8 0h2m2 0h2m3 0h2m23 0h2m83 0h3m11 0h5m-380 1h1m5 0h1m1 0h1m12 0h2m28 0h1m20 0h1m3 0h1m3 0h1m17 0h1m14 0h1m4 0h1m2 0h1m8 0h1m17 0h1m9 0h4m91 0h2m6 0h2m21 0h3m64 0h2m-359 1h1m5 0h1m4 0h1m9 0h1m11 0h1m6 0h1m12 0h1m36 0h1m18 0h1m14 0h1m58 0h1m28 0h2m5 0h2m25 0h4m24 0h2m8 0h2m27 0h2m14 0h3m12 0h3m28 0h3m-368 1h1m3 0h2m5 0h1m1 0h1m9 0h1m25 0h1m1 0h1m12 0h1m7 0h1m1 0h1m5 0h1m16 0h1m1 0h1m2 0h1m7 0h2m24 0h1m21 0h2m31 0h2m4 0h2m52 0h4m15 0h2m2 0h2m9 0h2m4 0h3m13 0h3m9 0h3m12 0h3m26 0h2m6 0h5m-386 1h1m38 0h1m39 0h1m1 0h1m4 0h1m9 0h1m12 0h2m15 0h1m45 0h2m83 0h2m2 0h2m13 0h2m4 0h2m60 0h3m7 0h3m26 0h3m-369 1h1m9 0h1m22 0h1m24 0h1m7 0h1m3 0h2m10 0h1m6 0h2m4 0h1m2 0h1m2 0h1m16 0h1m35 0h1m11 0h1m33 0h2m25 0h2m2 0h2m4 0h2m3 0h2m15 0h4m2 0h2m6 0h5m27 0h2m43 0h3m11 0h5m-377 1h1m1 0h1m22 0h1m10 0h1m35 0h1m22 0h1m1 0h1m41 0h2m6 0h1m6 0h1m37 0h2m14 0h2m2 0h2m25 0h2m4 0h2m32 0h2m39 0h3m2 0h3m36 0h2m8 0h3m-311 1h1m13 0h1m25 0h1m1 0h1m1 0h1m10 0h2m15 0h1m41 0h1m29 0h2m25 0h2m2 0h2m9 0h2m13 0h4m4 0h2m24 0h3m41 0h3m18 0h3m3 0h2m-377 1h1m8 0h1m2 0h1m11 0h1m15 0h1m2 0h1m5 0h1m25 0h2m3 0h1m15 0h1m5 0h1m1 0h1m1 0h1m37 0h1m97 0h4m38 0h3m74 0h3m22 0h3m-392 1h1m7 0h1m37 0h1m7 0h1m30 0h1m4 0h1m17 0h1m31 0h2m1 0h1m10 0h2m12 0h3m21 0h1m13 0h2m50 0h6m2 0h2m5 0h2m2 0h2m33 0h2m42 0h3m8 0h8m3 0h5m-385 1h1m8 0h1m3 0h1m3 0h2m1 0h1m5 0h1m53 0h1m4 0h2m18 0h1m1 0h1m8 0h1m5 0h1m12 0h1m9 0h1m17 0h2m2 0h2m84 0h5m2 0h2m13 0h2m2 0h2m2 0h2m18 0h2m4 0h3m9 0h2m15 0h3m7 0h3m21 0h2m6 0h5m-383 1h1m5 0h1m4 0h1m6 0h1m47 0h1m5 0h1m16 0h2m14 0h2m8 0h2m4 0h1m27 0h2m44 0h3m18 0h2m2 0h1m39 0h2m25 0h3m13 0h4m47 0h2m14 0h2m6 0h2m9 0h3m-358 1h2m6 0h1m18 0h1m16 0h1m3 0h1m1 0h1m7 0h1m47 0h2m21 0h1m22 0h1m56 0h2m42 0h3m8 0h3m63 0h3m22 0h3m-394 1h1m6 0h1m7 0h1m9 0h1m2 0h1m22 0h1m1 0h1m5 0h1m14 0h1m17 0h1m1 0h1m13 0h1m5 0h1m7 0h1m43 0h1m4 0h2m35 0h2m10 0h2m25 0h2m2 0h2m24 0h2m4 0h2m4 0h3m31 0h3m7 0h3m33 0h3m2 0h3m3 0h2m-376 1h1m13 0h1m43 0h1m5 0h2m5 0h2m1 0h1m16 0h1m8 0h2m6 0h1m31 0h1m23 0h1m61 0h2m21 0h1m6 0h2m9 0h2m6 0h2m13 0h2m21 0h2m2 0h3m20 0h2m26 0h3m-378 1h1m16 0h1m9 0h1m19 0h1m11 0h1m22 0h2m25 0h2m13 0h1m21 0h1m10 0h2m19 0h2m16 0h2m9 0h2m5 0h2m8 0h2m26 0h2m3 0h2m2 0h2m11 0h2m46 0h2m13 0h2m42 0h2m-372 1h1m13 0h1m3 0h1m20 0h1m28 0h1m13 0h1m6 0h1m1 0h1m4 0h1m7 0h2m30 0h1m45 0h2m55 0h2m4 0h1m4 0h2m4 0h2m15 0h2m4 0h3m34 0h2m33 0h3m8 0h2m6 0h2m6 0h3m-387 1h1m16 0h1m7 0h1m11 0h1m39 0h1m12 0h1m41 0h2m4 0h2m42 0h2m1 0h3m55 0h2m7 0h4m19 0h2m2 0h2m31 0h3m47 0h6m10 0h6m3 0h3m-393 1h1m38 0h2m3 0h1m21 0h1m3 0h1m9 0h2m2 0h1m4 0h1m3 0h1m7 0h1m5 0h1m8 0h1m3 0h1m1 0h1m30 0h2m33 0h2m11 0h1m38 0h2m2 0h2m9 0h4m15 0h2m6 0h2m20 0h2m12 0h2m43 0h2m8 0h3m-356 1h1m5 0h1m6 0h1m22 0h1m22 0h1m12 0h1m14 0h1m20 0h2m28 0h3m29 0h3m22 0h4m14 0h2m5 0h2m15 0h2m27 0h2m23 0h2m9 0h3m25 0h2m-345 1h1m5 0h1m22 0h2m7 0h1m31 0h1m7 0h1m4 0h1m5 0h1m4 0h1m62 0h1m7 0h1m12 0h2m4 0h2m22 0h2m27 0h2m9 0h2m17 0h4m109 0h3m-383 1h1m14 0h1m9 0h2m2 0h1m10 0h1m6 0h1m18 0h1m2 0h1m3 0h1m7 0h1m8 0h1m2 0h1m13 0h2m42 0h1m22 0h1m28 0h2m23 0h2m7 0h2m2 0h6m24 0h2m22 0h2m61 0h3m11 0h2m-383 1h1m2 0h1m8 0h1m21 0h1m2 0h1m3 0h1m17 0h1m31 0h1m8 0h1m2 0h1m12 0h1m18 0h1m11 0h1m18 0h1m10 0h3m9 0h1m58 0h2m7 0h2m4 0h4m7 0h2m4 0h4m6 0h3m17 0h3m54 0h3m3 0h2m6 0h2m-361 1h1m29 0h1m21 0h1m19 0h1m13 0h2m5 0h1m43 0h1m6 0h1m79 0h2m6 0h5m17 0h4m4 0h2m4 0h3m15 0h2m19 0h3m49 0h2m-384 1h1m12 0h1m2 0h1m3 0h1m12 0h1m26 0h1m22 0h1m15 0h1m1 0h1m2 0h1m2 0h1m1 0h3m24 0h1m1 0h2m12 0h1m7 0h1m3 0h1m31 0h1m10 0h1m2 0h2m28 0h1m10 0h2m5 0h2m8 0h2m21 0h3m13 0h2m5 0h2m19 0h3m5 0h2m18 0h3m10 0h3m3 0h5m3 0h6m-370 1h1m9 0h1m8 0h2m63 0h1m2 0h1m42 0h1m24 0h1m2 0h1m17 0h2m27 0h1m6 0h2m9 0h2m7 0h2m17 0h6m93 0h3m5 0h3m-386 1h1m2 0h1m10 0h1m15 0h1m3 0h2m25 0h1m11 0h1m7 0h2m3 0h1m10 0h1m16 0h1m14 0h1m3 0h1m5 0h1m20 0h1m6 0h1m58 0h2m16 0h2m15 0h2m4 0h2m13 0h4m34 0h2m2 0h3m35 0h8m3 0h2m-373 1h2m44 0h2m2 0h1m7 0h1m5 0h1m11 0h1m2 0h1m26 0h1m2 0h1m4 0h1m8 0h1m35 0h2m38 0h2m43 0h2m9 0h2m4 0h2m11 0h2m37 0h2m53 0h3m8 0h2m-373 1h1m38 0h1m32 0h1m34 0h1m5 0h1m13 0h2m33 0h2m24 0h1m47 0h2m8 0h5m17 0h4m2 0h2m20 0h2m2 0h3m21 0h3m38 0h3m-376 1h1m17 0h1m21 0h1m7 0h1m1 0h1m20 0h1m14 0h1m2 0h1m4 0h1m2 0h1m8 0h2m7 0h1m42 0h1m19 0h1m42 0h3m22 0h2m13 0h2m11 0h2m71 0h3m5 0h2m16 0h3m-369 1h1m14 0h1m15 0h1m3 0h1m37 0h1m9 0h1m9 0h1m20 0h1m36 0h1m16 0h1m8 0h1m61 0h4m28 0h2m13 0h2m9 0h2m12 0h2m51 0h2m3 0h3m-353 1h1m27 0h1m24 0h1m5 0h2m6 0h1m13 0h1m46 0h1m26 0h1m11 0h1m46 0h2m2 0h2m30 0h2m19 0h2m9 0h3m7 0h2m25 0h2m24 0h2m8 0h3m6 0h3m-386 1h1m13 0h1m4 0h1m13 0h1m6 0h2m39 0h1m12 0h1m6 0h1m26 0h2m111 0h4m7 0h2m52 0h2m56 0h2m6 0h2m-370 1h1m8 0h1m16 0h1m17 0h1m12 0h1m13 0h1m1 0h1m1 0h1m5 0h1m17 0h1m14 0h1m11 0h1m7 0h3m33 0h1m20 0h2m8 0h2m38 0h2m3 0h2m2 0h4m7 0h2m4 0h2m4 0h2m2 0h3m17 0h3m-286 1h1m14 0h1m4 0h1m37 0h3m3 0h1m30 0h1m66 0h1m8 0h1m38 0h2m13 0h4m3 0h2m21 0h2m36 0h2m48 0h3m2 0h3m3 0h2m-368 1h1m12 0h1m10 0h2m4 0h1m2 0h1m4 0h1m18 0h1m27 0h1m8 0h1m2 0h1m2 0h1m7 0h1m35 0h1m7 0h1m19 0h2m17 0h1m12 0h4m23 0h4m2 0h2m32 0h2m29 0h3m47 0h3m13 0h3m-386 1h1m32 0h1m16 0h1m6 0h1m20 0h1m3 0h1m7 0h1m18 0h2m13 0h1m4 0h1m27 0h2m28 0h2m61 0h2m2 0h2m1 0h4m2 0h2m55 0h4m20 0h3m23 0h3m2 0h3m-372 1h1m2 0h1m8 0h1m37 0h1m35 0h1m52 0h1m1 0h1m4 0h2m2 0h1m121 0h2m21 0h3m53 0h5m11 0h2m6 0h5m-367 1h1m57 0h2m2 0h2m1 0h1m3 0h2m19 0h2m2 0h1m1 0h1m6 0h1m4 0h1m49 0h1m14 0h1m14 0h2m52 0h2m13 0h2m4 0h2m6 0h3m27 0h2m15 0h2m23 0h3m2 0h3m19 0h3m-386 1h1m11 0h2m50 0h1m9 0h1m1 0h1m19 0h1m5 0h2m18 0h1m90 0h2m36 0h2m4 0h2m9 0h2m2 0h2m10 0h3m27 0h2m51 0h2m8 0h3m-377 1h1m37 0h1m4 0h1m29 0h1m3 0h1m3 0h1m2 0h1m17 0h1m3 0h1m3 0h1m47 0h1m53 0h2m23 0h2m6 0h2m5 0h4m2 0h2m9 0h4m8 0h3m17 0h3m7 0h2m20 0h2m26 0h8m3 0h2m6 0h6m-395 1h1m16 0h1m6 0h1m14 0h1m11 0h1m22 0h1m41 0h1m11 0h1m3 0h1m28 0h2m17 0h3m12 0h1m30 0h2m18 0h2m6 0h2m1 0h2m8 0h2m30 0h2m9 0h3m54 0h3m13 0h3m-378 1h1m69 0h1m2 0h1m27 0h1m2 0h1m53 0h1m17 0h2m40 0h2m18 0h4m2 0h2m13 0h2m5 0h2m2 0h6m6 0h3m41 0h3m44 0h2m-349 1h1m11 0h1m35 0h1m12 0h1m12 0h1m4 0h3m6 0h1m17 0h2m6 0h2m2 0h2m2 0h1m9 0h1m3 0h1m13 0h2m7 0h2m8 0h1m53 0h4m2 0h2m13 0h2m4 0h2m36 0h2m46 0h3m2 0h3m3 0h2m-348 1h2m57 0h2m10 0h1m1 0h3m7 0h1m36 0h2m6 0h1m2 0h2m6 0h1m31 0h1m17 0h2m20 0h4m7 0h2m4 0h2m11 0h2m2 0h6m11 0h2m7 0h2m49 0h2m-347 1h1m3 0h1m1 0h1m5 0h1m22 0h1m5 0h1m21 0h1m5 0h2m8 0h1m16 0h1m5 0h1m1 0h1m38 0h1m34 0h2m56 0h2m6 0h1m2 0h4m19 0h2m6 0h5m18 0h2m5 0h2m51 0h5m-335 1h1m3 0h1m4 0h1m27 0h1m3 0h1m3 0h2m27 0h1m34 0h2m69 0h1m2 0h2m28 0h3m4 0h2m9 0h2m2 0h2m2 0h2m83 0h3m5 0h3m5 0h3m-384 1h1m60 0h1m17 0h1m5 0h1m17 0h1m9 0h1m8 0h1m12 0h2m39 0h2m6 0h1m30 0h2m5 0h2m2 0h2m18 0h2m13 0h2m2 0h2m7 0h4m2 0h4m27 0h4m3 0h2m59 0h2m-358 1h1m9 0h1m45 0h1m28 0h1m13 0h1m16 0h1m5 0h1m8 0h1m54 0h1m38 0h2m9 0h4m9 0h2m4 0h2m24 0h2m26 0h3m30 0h3m3 0h2m6 0h5m-377 1h1m1 0h1m6 0h1m5 0h1m9 0h1m1 0h1m9 0h1m13 0h1m17 0h1m1 0h1m12 0h1m1 0h1m12 0h1m8 0h1m24 0h1m118 0h2m17 0h6m24 0h3m31 0h3m-321 1h1m6 0h1m19 0h1m17 0h1m28 0h1m10 0h1m28 0h1m29 0h1m25 0h2m11 0h2m15 0h2m18 0h2m19 0h2m5 0h2m2 0h2m10 0h3m36 0h3m35 0h3m11 0h5m-385 1h1m8 0h1m30 0h1m40 0h1m5 0h1m5 0h1m13 0h1m42 0h1m31 0h1m3 0h2m34 0h1m22 0h2m9 0h2m34 0h2m15 0h3m41 0h3m24 0h2m-377 1h1m42 0h2m14 0h1m15 0h2m4 0h1m2 0h1m1 0h1m2 0h1m13 0h1m37 0h1m26 0h1m6 0h2m82 0h2m82 0h3m18 0h3m2 0h3m-378 1h1m14 0h1m66 0h1m15 0h1m3 0h1m9 0h1m2 0h1m2 0h1m8 0h1m8 0h1m3 0h1m15 0h1m9 0h1m11 0h2m66 0h2m4 0h2m2 0h3m17 0h4m10 0h5m44 0h3m28 0h5m-345 1h1m24 0h1m16 0h2m11 0h1m6 0h1m1 0h2m12 0h1m6 0h1m20 0h1m86 0h1m24 0h2m7 0h2m17 0h2m12 0h3m80 0h2m3 0h3m8 0h3m-379 1h1m16 0h1m51 0h2m4 0h1m13 0h1m23 0h1m29 0h1m4 0h2m21 0h2m1 0h2m34 0h1m33 0h4m19 0h2m8 0h3m17 0h3m60 0h2m14 0h3m-391 1h1m3 0h1m12 0h1m9 0h2m6 0h1m8 0h1m9 0h1m16 0h1m8 0h1m7 0h2m1 0h1m17 0h1m52 0h1m2 0h1m3 0h1m28 0h2m5 0h1m14 0h2m34 0h2m2 0h6m15 0h2m15 0h2m31 0h2m33 0h8m8 0h3m-366 1h1m20 0h1m2 0h1m15 0h1m20 0h1m4 0h1m3 0h1m5 0h1m10 0h2m8 0h1m4 0h1m7 0h2m48 0h1m31 0h2m17 0h2m4 0h2m15 0h2m5 0h2m15 0h4m2 0h2m24 0h3m9 0h2m49 0h2m11 0h6m-388 1h1m4 0h1m9 0h1m35 0h1m6 0h1m19 0h1m9 0h1m17 0h1m11 0h1m17 0h1m22 0h1m11 0h2m27 0h2m11 0h2m27 0h6m5 0h6m13 0h2m2 0h6m27 0h2m22 0h2m44 0h3m-362 1h1m21 0h1m4 0h1m11 0h1m17 0h1m20 0h1m5 0h1m15 0h1m79 0h2m8 0h2m14 0h1m15 0h2m2 0h4m24 0h2m13 0h2m54 0h3m29 0h2m6 0h3m-386 1h1m4 0h1m25 0h1m2 0h2m4 0h1m1 0h1m32 0h1m32 0h1m25 0h1m29 0h1m1 0h2m38 0h2m34 0h4m2 0h2m5 0h2m13 0h2m37 0h2m50 0h8m17 0h3m-391 1h1m21 0h1m25 0h1m22 0h1m2 0h1m25 0h1m5 0h1m5 0h1m18 0h1m34 0h1m13 0h3m2 0h1m14 0h2m44 0h4m5 0h2m2 0h2m17 0h4m4 0h5m80 0h3m5 0h3m6 0h3m-372 1h1m9 0h1m10 0h1m33 0h1m3 0h1m18 0h1m6 0h2m3 0h1m2 0h1m2 0h1m5 0h1m104 0h1m17 0h2m2 0h2m83 0h2m8 0h2m34 0h3m-379 1h1m19 0h1m8 0h1m26 0h1m12 0h1m4 0h1m2 0h1m23 0h1m1 0h1m15 0h1m9 0h1m5 0h1m2 0h1m10 0h1m15 0h2m70 0h2m4 0h7m4 0h4m9 0h2m4 0h4m89 0h8m-363 1h2m9 0h1m1 0h1m20 0h1m18 0h1m9 0h1m9 0h1m3 0h1m8 0h1m3 0h4m12 0h1m67 0h1m3 0h2m3 0h2m6 0h2m3 0h2m32 0h8m1 0h2m2 0h4m17 0h2m6 0h3m17 0h3m4 0h5m45 0h6m16 0h3m-368 1h1m14 0h1m1 0h1m18 0h1m7 0h1m7 0h1m5 0h1m8 0h1m8 0h2m9 0h2m3 0h2m5 0h1m18 0h1m68 0h1m34 0h6m2 0h2m1 0h4m15 0h2m12 0h3m74 0h3m3 0h5m-371 1h1m4 0h1m14 0h1m1 0h1m3 0h1m30 0h1m10 0h1m6 0h1m3 0h2m1 0h1m18 0h1m3 0h1m2 0h1m6 0h1m60 0h1m23 0h2m41 0h2m7 0h2m2 0h2m2 0h2m5 0h2m2 0h2m40 0h2m10 0h2m10 0h3m20 0h3m19 0h3m-390 1h1m17 0h1m5 0h1m1 0h1m1 0h1m3 0h1m8 0h1m7 0h1m10 0h1m34 0h2m3 0h1m8 0h1m10 0h1m14 0h2m51 0h3m57 0h2m2 0h2m20 0h2m12 0h3m15 0h2m7 0h3m2 0h2m-284 1h1m2 0h1m31 0h1m2 0h1m2 0h2m24 0h1m1 0h1m27 0h2m94 0h2m11 0h2m4 0h2m3 0h2m17 0h2m37 0h5m7 0h2m15 0h3m28 0h3m-358 1h2m7 0h1m26 0h1m8 0h1m1 0h1m13 0h1m18 0h1m6 0h1m40 0h2m11 0h2m17 0h3m12 0h1m58 0h3m2 0h2m6 0h2m101 0h3m8 0h5m3 0h3m-388 1h1m4 0h1m40 0h1m4 0h1m5 0h1m33 0h1m5 0h1m4 0h1m5 0h1m10 0h2m11 0h1m8 0h1m9 0h2m32 0h1m11 0h2m6 0h2m28 0h1m8 0h2m4 0h2m7 0h2m77 0h2m23 0h3m5 0h3m-370 1h2m20 0h1m20 0h1m18 0h1m11 0h1m5 0h1m17 0h1m3 0h1m24 0h1m4 0h1m2 0h2m16 0h2m3 0h1m5 0h2m4 0h2m9 0h1m36 0h2m18 0h2m9 0h2m2 0h2m2 0h2m48 0h2m22 0h5m5 0h3m10 0h8m13 0h3m6 0h3m-365 1h1m1 0h1m1 0h1m3 0h1m28 0h1m17 0h1m12 0h1m2 0h1m7 0h1m4 0h1m30 0h1m1 0h1m71 0h4m25 0h2m2 0h2m7 0h2m15 0h2m37 0h3m34 0h3m24 0h2m-382 1h2m7 0h1m20 0h1m25 0h1m28 0h1m1 0h1m6 0h1m7 0h1m4 0h1m8 0h1m6 0h1m8 0h1m22 0h1m6 0h1m2 0h1m4 0h1m20 0h1m5 0h1m24 0h1m26 0h2m5 0h2m4 0h2m4 0h2m61 0h2m10 0h3m45 0h3m-383 1h1m12 0h1m13 0h1m28 0h1m5 0h1m12 0h1m20 0h3m5 0h1m5 0h1m13 0h3m27 0h2m82 0h7m6 0h4m15 0h2m36 0h2m15 0h2m18 0h2m8 0h3m3 0h2m-373 1h1m13 0h1m6 0h1m4 0h1m12 0h1m6 0h1m14 0h1m8 0h1m8 0h1m6 0h1m1 0h1m3 0h1m6 0h1m8 0h1m29 0h2m13 0h1m5 0h2m12 0h2m29 0h1m41 0h4m7 0h2m2 0h2m2 0h2m13 0h4m34 0h2m32 0h3m29 0h3m-378 1h1m9 0h1m8 0h1m4 0h1m6 0h1m12 0h1m5 0h1m19 0h1m10 0h1m4 0h1m8 0h1m26 0h1m6 0h1m9 0h1m13 0h2m21 0h2m6 0h1m52 0h4m9 0h2m15 0h2m10 0h3m15 0h2m7 0h3m63 0h3m-376 1h1m18 0h1m22 0h1m28 0h1m24 0h1m6 0h1m1 0h1m6 0h1m3 0h1m25 0h2m72 0h2m18 0h2m6 0h2m34 0h3m27 0h2m2 0h3m2 0h3m12 0h3m10 0h2m22 0h5m-386 1h1m12 0h1m31 0h1m7 0h1m7 0h1m9 0h1m11 0h1m26 0h1m5 0h1m6 0h1m40 0h2m8 0h3m12 0h1m5 0h1m50 0h2m28 0h2m2 0h2m15 0h2m74 0h2m6 0h8m-386 1h1m9 0h1m12 0h1m11 0h1m10 0h1m3 0h1m1 0h1m18 0h1m22 0h1m4 0h2m4 0h2m3 0h1m9 0h1m15 0h2m2 0h2m45 0h2m17 0h2m67 0h2m2 0h2m11 0h2m18 0h2m12 0h3m7 0h3m31 0h2m6 0h2m6 0h3m-373 1h1m7 0h2m5 0h1m14 0h1m14 0h1m26 0h1m17 0h1m9 0h1m6 0h1m9 0h1m49 0h1m29 0h1m14 0h2m30 0h2m11 0h4m4 0h2m58 0h3m2 0h3m2 0h3m13 0h3m10 0h3m3 0h3m-392 1h2m8 0h1m27 0h1m8 0h2m26 0h1m5 0h1m8 0h1m8 0h2m2 0h1m3 0h2m5 0h1m22 0h2m9 0h2m7 0h3m38 0h1m51 0h2m5 0h2m21 0h6m24 0h3m76 0h3m-390 1h1m26 0h1m14 0h1m13 0h1m19 0h1m8 0h1m1 0h1m13 0h1m4 0h1m25 0h1m16 0h1m16 0h2m87 0h4m2 0h2m13 0h2m10 0h5m37 0h2m8 0h2m26 0h3m8 0h2m9 0h3m-393 1h1m35 0h2m41 0h1m6 0h3m12 0h1m4 0h2m41 0h1m12 0h2m69 0h2m9 0h2m4 0h4m1 0h4m2 0h2m9 0h2m2 0h2m54 0h3m38 0h3m8 0h3m-380 1h1m21 0h1m20 0h1m26 0h1m21 0h1m72 0h1m64 0h1m14 0h2m1 0h4m23 0h2m7 0h2m34 0h3m15 0h2m26 0h3m-360 1h1m2 0h1m5 0h1m2 0h1m17 0h1m4 0h1m3 0h1m7 0h1m14 0h1m12 0h1m7 0h1m13 0h1m21 0h2m31 0h1m13 0h2m1 0h2m7 0h2m3 0h2m36 0h1m6 0h4m7 0h2m15 0h2m12 0h7m37 0h2m28 0h3m10 0h3m3 0h2m-369 1h2m17 0h1m2 0h1m3 0h2m39 0h1m3 0h2m4 0h1m9 0h1m6 0h1m2 0h1m8 0h2m12 0h1m17 0h2m2 0h1m4 0h2m29 0h1m8 0h2m27 0h1m15 0h4m11 0h2m6 0h2m9 0h6m7 0h2m20 0h2m7 0h3m40 0h3m11 0h5m-379 1h1m17 0h1m15 0h1m4 0h1m6 0h1m27 0h2m14 0h2m9 0h1m9 0h1m33 0h2m2 0h1m21 0h2m36 0h1m31 0h2m4 0h3m10 0h2m11 0h2m28 0h3m21 0h3m33 0h3m19 0h3m-386 1h1m7 0h1m10 0h1m2 0h1m3 0h1m15 0h1m15 0h1m14 0h1m58 0h1m53 0h1m3 0h2m56 0h2m2 0h4m13 0h2m2 0h2m6 0h3m2 0h2m23 0h2m10 0h2m55 0h3m-393 1h1m38 0h1m47 0h1m2 0h1m3 0h1m35 0h1m26 0h1m49 0h1m30 0h2m7 0h2m4 0h2m9 0h2m9 0h10m50 0h3m33 0h3m16 0h6m-395 1h1m9 0h1m2 0h1m3 0h1m6 0h1m3 0h1m2 0h1m46 0h1m27 0h1m9 0h1m30 0h1m35 0h1m20 0h2m15 0h3m22 0h2m6 0h2m5 0h2m15 0h2m35 0h2m72 0h3m-372 1h1m5 0h1m3 0h1m3 0h1m5 0h1m22 0h2m3 0h1m5 0h1m12 0h2m2 0h1m11 0h1m1 0h1m6 0h1m30 0h2m59 0h2m31 0h2m11 0h4m3 0h2m2 0h4m11 0h4m19 0h2m16 0h3m53 0h2m-334 1h1m4 0h1m4 0h1m1 0h1m27 0h1m26 0h1m30 0h1m19 0h1m20 0h1m20 0h2m1 0h2m40 0h2m4 0h2m3 0h2m2 0h2m21 0h2m34 0h2m45 0h3m-369 1h2m25 0h1m37 0h1m15 0h1m7 0h1m2 0h1m14 0h1m24 0h1m5 0h1m6 0h1m13 0h1m40 0h2m47 0h2m4 0h1m4 0h2m15 0h2m10 0h3m6 0h2m66 0h6m10 0h3m-374 1h1m16 0h1m17 0h1m38 0h1m1 0h1m9 0h1m9 0h1m1 0h1m31 0h1m4 0h1m8 0h1m11 0h2m10 0h1m42 0h1m24 0h2m7 0h2m17 0h2m49 0h2m13 0h2m39 0h6m-371 1h1m27 0h1m8 0h1m1 0h1m20 0h1m3 0h1m8 0h1m1 0h3m12 0h1m2 0h1m52 0h2m15 0h2m12 0h1m2 0h1m5 0h2m13 0h2m5 0h2m18 0h8m3 0h2m4 0h2m25 0h3m31 0h3m7 0h3m7 0h3m34 0h2m-314 1h1m12 0h1m5 0h1m10 0h1m2 0h1m5 0h1m6 0h1m19 0h1m1 0h2m7 0h1m10 0h2m22 0h2m10 0h2m51 0h2m6 0h2m3 0h2m15 0h4m2 0h2m13 0h2m14 0h4m5 0h2m62 0h6m-389 1h1m36 0h1m12 0h1m13 0h1m8 0h1m6 0h1m40 0h1m15 0h1m9 0h1m8 0h1m90 0h2m2 0h2m5 0h2m4 0h2m11 0h2m11 0h2m72 0h3m8 0h3m5 0h3m-361 1h2m20 0h1m30 0h1m74 0h1m10 0h1m43 0h1m12 0h4m12 0h2m4 0h2m2 0h2m2 0h2m1 0h2m2 0h4m11 0h2m4 0h4m18 0h2m11 0h3m61 0h2m-364 1h1m22 0h1m3 0h1m32 0h1m1 0h1m7 0h1m12 0h1m2 0h1m3 0h1m22 0h1m4 0h2m6 0h1m2 0h2m1 0h1m4 0h1m17 0h1m3 0h2m37 0h6m25 0h2m4 0h2m5 0h4m13 0h4m15 0h2m9 0h2m3 0h2m58 0h2m-353 1h1m7 0h1m1 0h1m12 0h1m11 0h1m1 0h1m21 0h1m6 0h1m4 0h1m3 0h1m11 0h1m18 0h1m7 0h1m113 0h2m5 0h4m2 0h2m11 0h4m35 0h2m30 0h2m24 0h5m3 0h2m-383 1h1m9 0h1m22 0h1m33 0h1m13 0h1m51 0h1m21 0h1m12 0h2m39 0h2m22 0h2m19 0h2m5 0h2m13 0h2m32 0h3m7 0h2m2 0h3m22 0h3m15 0h3m5 0h3m3 0h2m6 0h3m-383 1h1m2 0h1m6 0h1m30 0h1m30 0h2m3 0h1m21 0h1m31 0h1m2 0h2m11 0h1m20 0h1m9 0h2m9 0h1m24 0h1m24 0h6m2 0h3m4 0h4m13 0h6m7 0h2m18 0h2m50 0h2m8 0h3m-374 1h1m5 0h1m17 0h1m4 0h1m74 0h1m24 0h1m92 0h2m20 0h2m2 0h2m2 0h1m19 0h6m85 0h3m3 0h2m-372 1h1m26 0h1m27 0h1m2 0h1m2 0h1m1 0h1m9 0h1m7 0h1m24 0h1m38 0h2m7 0h2m11 0h1m57 0h2m20 0h6m7 0h2m6 0h3m2 0h2m2 0h4m58 0h2m26 0h3m10 0h3m-348 1h1m3 0h1m16 0h1m3 0h1m1 0h1m10 0h1m21 0h1m3 0h1m11 0h1m3 0h1m9 0h1m4 0h1m13 0h1m12 0h1m16 0h1m31 0h2m46 0h6m71 0h3m-318 1h1m7 0h1m60 0h1m2 0h1m7 0h1m9 0h2m14 0h1m7 0h1m3 0h2m12 0h1m35 0h2m35 0h2m22 0h4m11 0h2m2 0h2m17 0h2m22 0h3m60 0h2m-357 1h1m2 0h1m13 0h1m22 0h1m17 0h1m3 0h1m1 0h1m3 0h1m21 0h2m50 0h1m11 0h2m12 0h3m44 0h2m11 0h2m13 0h4m2 0h2m5 0h2m6 0h2m4 0h2m30 0h2m12 0h3m30 0h3m11 0h5m-383 1h1m37 0h1m7 0h1m10 0h2m26 0h1m8 0h3m47 0h1m18 0h1m3 0h1m15 0h1m41 0h2m22 0h2m7 0h2m15 0h4m31 0h2m19 0h3m44 0h5m-376 1h1m8 0h1m25 0h1m19 0h1m42 0h1m2 0h1m43 0h1m30 0h1m63 0h2m9 0h2m11 0h2m12 0h2m9 0h2m77 0h3m2 0h3m-359 1h1m2 0h1m22 0h2m26 0h1m22 0h1m9 0h1m11 0h1m6 0h1m16 0h1m5 0h1m23 0h1m67 0h6m3 0h2m2 0h2m38 0h3m4 0h2m24 0h3m30 0h6m2 0h3m5 0h3m6 0h3m-367 1h1m13 0h1m13 0h2m23 0h1m10 0h1m2 0h1m44 0h1m20 0h2m40 0h1m20 0h2m20 0h2m2 0h2m24 0h6m11 0h2m42 0h2m31 0h3m2 0h3m5 0h3m-382 1h1m2 0h1m9 0h1m83 0h1m57 0h1m20 0h1m5 0h1m17 0h2m17 0h3m20 0h2m9 0h2m8 0h2m9 0h2m13 0h2m22 0h3m17 0h2m36 0h3m14 0h3m-386 1h1m9 0h1m21 0h1m17 0h1m11 0h1m9 0h1m16 0h1m11 0h1m52 0h1m45 0h2m37 0h2m4 0h2m1 0h2m4 0h2m11 0h2m46 0h3m30 0h2m8 0h3m3 0h5m5 0h3m6 0h3m-382 1h1m10 0h1m13 0h1m13 0h1m3 0h1m24 0h2m56 0h1m19 0h1m88 0h4m26 0h6m2 0h2m9 0h4m19 0h2m43 0h2m8 0h3m3 0h2m-373 1h1m22 0h1m20 0h1m52 0h2m6 0h1m32 0h2m11 0h2m8 0h1m11 0h1m23 0h2m43 0h7m6 0h2m15 0h2m4 0h2m5 0h2m35 0h2m41 0h6m-377 1h1m16 0h1m12 0h1m17 0h1m1 0h1m26 0h1m20 0h1m6 0h1m5 0h1m4 0h2m2 0h1m12 0h2m16 0h1m19 0h2m10 0h2m57 0h2m2 0h4m2 0h3m4 0h4m50 0h3m2 0h2m13 0h2m23 0h3m10 0h3m-368 1h1m7 0h1m9 0h1m28 0h1m6 0h1m18 0h1m122 0h1m45 0h2m2 0h1m2 0h2m2 0h2m13 0h2m4 0h2m4 0h3m20 0h2m29 0h3m26 0h2m6 0h2m-382 1h1m2 0h1m9 0h1m13 0h1m19 0h1m29 0h1m9 0h1m33 0h1m32 0h1m42 0h1m17 0h1m29 0h2m13 0h2m13 0h2m4 0h4m4 0h3m64 0h5m8 0h3m16 0h3m-389 1h1m3 0h1m1 0h1m1 0h1m15 0h1m2 0h1m4 0h1m37 0h1m19 0h2m6 0h1m6 0h1m3 0h1m12 0h1m4 0h2m5 0h2m3 0h1m43 0h1m61 0h2m7 0h2m4 0h2m11 0h4m15 0h2m30 0h2m8 0h2m36 0h3m-373 1h1m15 0h1m2 0h1m40 0h1m15 0h1m10 0h1m2 0h1m12 0h1m4 0h1m1 0h1m9 0h1m7 0h1m22 0h1m13 0h2m51 0h1m32 0h5m2 0h2m11 0h2m4 0h2m6 0h3m6 0h2m14 0h2m3 0h2m15 0h2m15 0h3m32 0h3m-384 1h2m5 0h1m30 0h1m8 0h1m2 0h1m7 0h1m38 0h1m4 0h1m11 0h1m4 0h1m27 0h1m14 0h1m55 0h2m18 0h2m2 0h2m5 0h2m2 0h2m21 0h2m4 0h3m74 0h3m5 0h3m5 0h3m-386 1h1m27 0h2m20 0h1m31 0h1m25 0h1m4 0h1m33 0h1m11 0h1m86 0h2m9 0h2m4 0h2m13 0h2m40 0h2m10 0h2m25 0h3m11 0h10m-377 1h1m5 0h1m5 0h1m2 0h1m43 0h1m23 0h1m2 0h1m6 0h1m8 0h1m7 0h1m30 0h1m104 0h4m3 0h4m17 0h4m6 0h3m77 0h3m2 0h3m5 0h3m-364 1h1m9 0h1m13 0h1m6 0h1m1 0h1m21 0h1m19 0h1m7 0h1m19 0h1m11 0h2m17 0h1m44 0h2m45 0h2m2 0h4m1 0h2m2 0h2m15 0h2m4 0h2m4 0h3m31 0h3m7 0h3m15 0h2m19 0h2m-351 1h1m3 0h1m2 0h2m5 0h1m54 0h1m14 0h1m6 0h2m23 0h1m31 0h2m24 0h1m10 0h2m15 0h2m22 0h4m2 0h1m4 0h2m11 0h2m6 0h2m53 0h2m36 0h3m3 0h5m-373 1h1m14 0h1m6 0h2m12 0h1m31 0h1m2 0h1m5 0h1m3 0h1m15 0h1m5 0h1m133 0h4m7 0h2m45 0h2m44 0h3m5 0h3m18 0h3m-373 1h1m5 0h1m19 0h1m8 0h2m2 0h2m21 0h1m6 0h1m25 0h2m4 0h1m28 0h2m7 0h2m17 0h1m12 0h3m2 0h1m5 0h1m50 0h2m4 0h2m7 0h2m2 0h2m7 0h4m2 0h2m17 0h2m21 0h2m18 0h2m26 0h3m2 0h3m-368 1h1m16 0h1m20 0h1m6 0h1m26 0h1m9 0h1m13 0h1m79 0h1m14 0h2m18 0h2m31 0h3m2 0h2m6 0h2m9 0h2m4 0h2m7 0h2m37 0h2m36 0h3m-364 1h1m5 0h1m3 0h1m5 0h1m2 0h1m4 0h1m26 0h1m5 0h1m17 0h1m22 0h2m1 0h1m2 0h1m69 0h1m3 0h3m8 0h1m51 0h2m2 0h2m37 0h2m22 0h3m14 0h3m20 0h5m8 0h5m-351 1h1m5 0h1m11 0h1m5 0h1m25 0h1m7 0h1m15 0h2m2 0h1m7 0h1m7 0h1m55 0h1m28 0h1m48 0h2m5 0h2m17 0h2m2 0h4m7 0h2m2 0h2m68 0h3m11 0h2m6 0h3m-392 1h1m4 0h2m33 0h1m9 0h1m1 0h1m4 0h1m7 0h1m15 0h1m19 0h1m1 0h1m7 0h1m3 0h1m45 0h2m23 0h1m17 0h2m46 0h2m2 0h1m4 0h6m11 0h4m2 0h2m4 0h3m11 0h2m2 0h5m49 0h3m10 0h3m3 0h5m-384 1h1m6 0h1m9 0h1m7 0h1m88 0h1m22 0h2m2 0h2m9 0h1m23 0h2m15 0h1m30 0h2m18 0h2m6 0h2m13 0h2m13 0h2m97 0h3m-384 1h1m79 0h1m3 0h1m1 0h1m9 0h1m17 0h1m22 0h1m14 0h1m32 0h2m35 0h2m18 0h4m4 0h5m21 0h2m2 0h4m27 0h2m7 0h2m33 0h2m-357 1h1m31 0h1m17 0h1m23 0h1m5 0h1m25 0h1m2 0h1m12 0h1m7 0h1m2 0h1m19 0h1m30 0h1m59 0h4m9 0h4m11 0h2m23 0h2m7 0h2m29 0h3m33 0h3m3 0h2m3 0h3m-383 1h1m23 0h2m16 0h1m5 0h1m23 0h1m2 0h1m16 0h1m10 0h1m4 0h1m9 0h1m21 0h1m39 0h1m61 0h2m9 0h2m32 0h2m67 0h3m16 0h2m-367 1h1m10 0h1m50 0h1m3 0h1m16 0h1m8 0h1m6 0h1m32 0h2m25 0h2m46 0h3m4 0h1m17 0h4m4 0h1m6 0h2m23 0h2m9 0h2m9 0h3m7 0h2m35 0h2m8 0h11m-354 1h1m10 0h1m28 0h1m11 0h1m21 0h1m9 0h1m41 0h1m97 0h2m9 0h2m19 0h2m4 0h2m2 0h3m20 0h2m-302 1h1m9 0h1m4 0h1m52 0h1m9 0h1m4 0h1m11 0h1m50 0h1m26 0h3m4 0h2m47 0h2m4 0h4m4 0h3m2 0h2m19 0h4m29 0h2m3 0h2m48 0h3m-364 1h1m8 0h1m2 0h1m1 0h1m17 0h1m10 0h1m1 0h1m5 0h1m17 0h1m2 0h1m7 0h1m19 0h1m25 0h1m4 0h1m40 0h2m21 0h2m1 0h4m35 0h4m2 0h2m5 0h2m2 0h2m11 0h2m2 0h2m35 0h5m32 0h3m5 0h3m8 0h2m-342 1h1m15 0h1m9 0h1m9 0h1m16 0h1m16 0h1m26 0h2m7 0h1m79 0h2m29 0h6m1 0h4m17 0h6m15 0h2m12 0h2m27 0h2m37 0h2m-365 1h1m4 0h1m6 0h1m51 0h1m5 0h1m9 0h1m7 0h1m2 0h1m8 0h1m27 0h1m9 0h1m38 0h1m8 0h2m31 0h2m9 0h4m2 0h2m5 0h2m6 0h2m3 0h2m8 0h2m4 0h3m22 0h2m37 0h3m10 0h8m6 0h2m6 0h3m-392 1h1m12 0h1m5 0h1m7 0h1m11 0h1m42 0h1m8 0h1m1 0h1m10 0h1m4 0h1m2 0h1m44 0h2m15 0h1m6 0h2m3 0h1m24 0h1m34 0h4m2 0h2m2 0h1m6 0h4m4 0h3m2 0h4m15 0h2m18 0h2m10 0h2m8 0h2m5 0h3m20 0h3m-364 1h1m2 0h1m17 0h1m25 0h1m1 0h1m2 0h1m12 0h1m16 0h1m17 0h2m2 0h1m4 0h1m8 0h1m27 0h2m9 0h3m5 0h1m14 0h1m43 0h1m32 0h2m2 0h2m5 0h2m6 0h2m15 0h2m33 0h3m36 0h5m-368 1h1m17 0h1m3 0h1m46 0h1m34 0h1m37 0h2m32 0h1m2 0h1m58 0h4m2 0h2m5 0h4m9 0h2m2 0h2m13 0h2m25 0h2m35 0h2m14 0h2m8 0h3m-352 1h1m11 0h1m2 0h1m13 0h1m1 0h1m1 0h1m1 0h1m4 0h1m6 0h1m7 0h1m9 0h3m6 0h1m55 0h2m5 0h3m27 0h2m45 0h4m9 0h2m17 0h2m2 0h2m89 0h3m11 0h3m-361 1h1m11 0h1m11 0h1m29 0h1m2 0h1m16 0h1m2 0h1m21 0h2m38 0h1m16 0h2m4 0h2m57 0h4m1 0h6m11 0h2m2 0h2m64 0h3m12 0h3m19 0h5m-383 1h1m6 0h1m22 0h1m17 0h1m23 0h1m6 0h1m6 0h1m15 0h1m2 0h2m1 0h1m4 0h1m2 0h1m15 0h1m12 0h2m5 0h1m37 0h2m28 0h1m2 0h2m22 0h6m7 0h6m9 0h2m2 0h4m63 0h3m15 0h3m5 0h6m-380 1h1m8 0h1m29 0h2m7 0h1m17 0h1m14 0h1m7 0h1m11 0h1m15 0h1m22 0h4m33 0h2m24 0h2m24 0h1m19 0h4m5 0h4m13 0h12m85 0h2m-338 1h1m7 0h1m8 0h1m2 0h1m47 0h1m5 0h1m13 0h1m13 0h1m26 0h1m49 0h1m6 0h1m24 0h2m2 0h2m2 0h1m10 0h2m7 0h2m12 0h5m18 0h2m5 0h4m38 0h3m2 0h6m2 0h3m5 0h3m-386 1h1m32 0h1m8 0h1m8 0h1m8 0h1m15 0h1m4 0h1m26 0h1m13 0h1m11 0h1m52 0h2m12 0h2m13 0h1m39 0h3m2 0h2m17 0h2m2 0h2m46 0h2m8 0h5m26 0h5m-370 1h2m7 0h1m8 0h1m17 0h1m36 0h2m2 0h2m6 0h1m8 0h1m31 0h1m21 0h1m95 0h2m3 0h2m34 0h2m18 0h2m17 0h2m33 0h6m2 0h3m3 0h2m6 0h6m-376 1h1m8 0h1m23 0h1m28 0h1m5 0h1m21 0h1m40 0h1m19 0h1m15 0h1m5 0h1m16 0h2m3 0h2m34 0h2m7 0h2m2 0h2m13 0h4m6 0h5m44 0h2m3 0h2m3 0h2m8 0h2m16 0h3m3 0h2m-372 1h1m3 0h1m59 0h1m5 0h1m6 0h1m19 0h1m8 0h1m25 0h2m18 0h1m19 0h1m70 0h2m3 0h2m21 0h2m36 0h2m61 0h3m3 0h3m-364 1h1m2 0h1m8 0h1m6 0h1m14 0h1m16 0h1m43 0h1m3 0h1m29 0h2m37 0h2m52 0h4m3 0h2m17 0h2m64 0h2m23 0h3m5 0h3m11 0h3m-373 1h1m14 0h2m13 0h1m7 0h1m20 0h1m16 0h1m11 0h2m117 0h2m20 0h2m13 0h2m4 0h2m3 0h4m15 0h2m22 0h3m7 0h2m5 0h5m42 0h5m-376 1h1m12 0h1m4 0h1m13 0h1m29 0h1m2 0h1m6 0h1m5 0h1m2 0h1m16 0h2m45 0h1m19 0h2m24 0h2m28 0h2m15 0h2m2 0h2m7 0h2m13 0h2m10 0h2m3 0h2m25 0h2m25 0h2m18 0h3m3 0h2m8 0h3m3 0h3m-384 1h1m16 0h1m1 0h1m9 0h2m2 0h1m1 0h1m16 0h1m4 0h1m16 0h1m7 0h1m17 0h1m3 0h1m4 0h1m22 0h1m6 0h1m6 0h2m33 0h1m2 0h1m31 0h2m14 0h2m4 0h2m8 0h1m4 0h4m17 0h2m9 0h2m29 0h3m-312 1h1m31 0h1m33 0h1m5 0h1m20 0h1m51 0h1m9 0h1m15 0h1m25 0h2m40 0h2m1 0h2m4 0h2m48 0h2m55 0h3m2 0h3m-374 1h1m9 0h1m24 0h1m2 0h1m35 0h1m7 0h1m3 0h1m6 0h1m1 0h1m7 0h1m17 0h1m17 0h2m11 0h1m3 0h1m16 0h1m14 0h1m57 0h2m2 0h2m1 0h2m2 0h2m11 0h2m2 0h2m2 0h2m31 0h2m32 0h3m-333 1h1m8 0h1m12 0h1m18 0h1m19 0h1m22 0h1m4 0h1m3 0h1m3 0h1m61 0h2m29 0h2m5 0h1m33 0h2m2 0h2m5 0h2m8 0h3m4 0h2m69 0h3m15 0h3m3 0h2m6 0h2m6 0h3m-371 1h1m11 0h1m16 0h1m1 0h1m4 0h1m7 0h1m6 0h1m10 0h2m7 0h1m4 0h1m11 0h1m12 0h1m4 0h1m23 0h1m12 0h2m4 0h1m15 0h1m69 0h3m19 0h2m2 0h2m15 0h2m48 0h3m10 0h3m2 0h3m3 0h2m6 0h5m-383 1h1m2 0h1m9 0h1m4 0h1m20 0h2m9 0h1m35 0h1m12 0h1m7 0h1m39 0h1m48 0h2m15 0h1m44 0h2m15 0h2m93 0h2m6 0h2m6 0h3m-392 1h1m26 0h1m42 0h1m5 0h1m68 0h1m11 0h2m89 0h2m7 0h2m2 0h4m13 0h2m4 0h2m9 0h2m18 0h2m50 0h8m8 0h6m3 0h3m-395 1h1m63 0h1m16 0h2m1 0h1m3 0h1m9 0h1m2 0h1m4 0h1m5 0h2m11 0h1m30 0h1m20 0h1m2 0h1m43 0h2m26 0h2m3 0h2m2 0h2m4 0h2m5 0h2m30 0h2m62 0h3m10 0h3m-379 1h1m35 0h1m8 0h2m5 0h1m8 0h1m12 0h1m17 0h1m10 0h1m3 0h1m37 0h2m10 0h2m58 0h2m31 0h2m31 0h3m11 0h2m51 0h2m14 0h2m6 0h2m-376 1h1m21 0h1m9 0h1m24 0h1m1 0h1m27 0h1m13 0h1m1 0h1m19 0h2m3 0h1m14 0h1m32 0h1m25 0h2m43 0h2m1 0h2m8 0h4m9 0h2m85 0h6m2 0h3m14 0h3m-379 1h1m10 0h1m1 0h1m11 0h1m1 0h1m24 0h1m39 0h2m68 0h2m36 0h1m29 0h2m6 0h2m1 0h2m2 0h2m21 0h2m9 0h2m9 0h2m7 0h2m3 0h2m12 0h3m30 0h3m5 0h3m3 0h5m6 0h3m-316 1h1m2 0h1m25 0h1m21 0h2m77 0h2m19 0h1m9 0h2m15 0h4m19 0h2m107 0h3m-392 1h1m8 0h1m1 0h1m1 0h1m2 0h1m9 0h2m4 0h1m2 0h1m37 0h1m7 0h1m4 0h1m21 0h1m2 0h1m7 0h1m21 0h1m12 0h1m22 0h3m16 0h2m25 0h1m24 0h2m2 0h4m3 0h2m2 0h2m11 0h2m6 0h2m87 0h2m-375 1h1m9 0h1m12 0h2m2 0h1m10 0h1m10 0h1m17 0h1m7 0h1m5 0h1m26 0h2m5 0h1m24 0h1m10 0h1m3 0h1m5 0h2m27 0h2m3 0h1m52 0h2m2 0h2m2 0h1m17 0h2m14 0h3m11 0h2m9 0h2m53 0h3m8 0h5m-351 1h1m8 0h1m39 0h1m20 0h1m3 0h1m68 0h2m66 0h4m28 0h2m37 0h5m35 0h2m8 0h3m3 0h5m-373 1h2m5 0h1m37 0h1m4 0h1m4 0h1m21 0h1m6 0h1m2 0h1m6 0h1m1 0h1m21 0h1m11 0h1m10 0h1m14 0h2m18 0h2m47 0h1m15 0h2m4 0h2m2 0h3m4 0h4m15 0h2m9 0h2m2 0h2m25 0h3m15 0h2m18 0h3m16 0h5m-374 1h2m1 0h1m5 0h1m2 0h1m50 0h1m5 0h1m38 0h2m3 0h1m16 0h1m13 0h1m2 0h1m29 0h1m11 0h2m4 0h2m8 0h2m31 0h4m5 0h4m13 0h2m39 0h3m4 0h3m20 0h2m5 0h3m16 0h2m3 0h3m-347 1h1m20 0h1m32 0h2m2 0h1m3 0h1m54 0h1m102 0h2m7 0h2m13 0h2m2 0h4m18 0h2m64 0h5m-354 1h1m6 0h1m10 0h1m5 0h1m8 0h1m3 0h1m10 0h1m24 0h1m13 0h1m38 0h1m94 0h2m13 0h2m4 0h2m15 0h4m6 0h3m6 0h2m16 0h3m61 0h2m-370 1h1m4 0h1m2 0h1m4 0h1m10 0h1m43 0h2m12 0h1m17 0h1m45 0h1m17 0h1m6 0h2m73 0h2m2 0h2m15 0h2m2 0h2m20 0h2m12 0h2m45 0h3m-353 1h1m16 0h1m32 0h1m2 0h1m7 0h1m2 0h2m3 0h1m5 0h1m15 0h1m4 0h1m45 0h2m19 0h1m17 0h1m7 0h1m19 0h2m29 0h2m17 0h2m2 0h2m28 0h3m54 0h6m-364 1h1m24 0h2m61 0h1m10 0h1m25 0h1m2 0h2m2 0h2m25 0h2m13 0h1m35 0h2m9 0h1m17 0h2m13 0h2m25 0h3m27 0h2m22 0h3m20 0h3m-346 1h1m10 0h1m46 0h1m4 0h1m2 0h1m1 0h1m5 0h2m9 0h1m76 0h1m32 0h2m27 0h2m11 0h2m6 0h2m96 0h3m13 0h3m6 0h3m-392 1h1m40 0h1m13 0h1m14 0h1m7 0h2m5 0h1m19 0h2m33 0h2m3 0h2m21 0h1m2 0h1m41 0h1m35 0h2m3 0h2m2 0h2m11 0h2m4 0h2m11 0h2m18 0h2m12 0h2m44 0h2m6 0h2m-374 1h1m8 0h1m2 0h1m3 0h1m2 0h1m12 0h2m20 0h1m3 0h1m10 0h1m7 0h1m5 0h1m15 0h1m31 0h1m39 0h1m15 0h2m26 0h4m18 0h2m2 0h2m2 0h2m86 0h2m18 0h3m16 0h2m-371 1h1m2 0h1m1 0h1m9 0h2m31 0h1m20 0h2m8 0h1m3 0h1m17 0h1m27 0h1m5 0h1m87 0h2m9 0h2m6 0h2m1 0h8m30 0h2m2 0h7m14 0h2m51 0h2m6 0h2m6 0h3m-369 1h1m29 0h1m24 0h1m2 0h1m26 0h1m1 0h1m4 0h1m9 0h1m1 0h1m8 0h1m10 0h1m51 0h2m56 0h4m17 0h2m13 0h2m42 0h2m18 0h2m14 0h2m6 0h2m6 0h3m-386 1h1m12 0h1m6 0h1m20 0h1m20 0h1m2 0h2m17 0h1m7 0h2m33 0h1m21 0h1m60 0h1m4 0h2m34 0h4m13 0h2m2 0h6m6 0h3m77 0h5m14 0h3m-393 1h2m1 0h1m39 0h1m9 0h1m27 0h1m5 0h1m6 0h2m4 0h1m8 0h3m2 0h1m33 0h1m4 0h2m5 0h1m20 0h1m30 0h1m27 0h1m6 0h4m4 0h2m20 0h6m38 0h2m2 0h3m10 0h2m28 0h3m3 0h2m-369 1h1m2 0h1m12 0h1m11 0h1m15 0h1m5 0h1m52 0h1m2 0h1m1 0h1m5 0h2m70 0h1m13 0h1m16 0h1m30 0h7m114 0h3m5 0h3m-358 1h1m1 0h1m34 0h1m16 0h1m11 0h1m2 0h1m4 0h1m34 0h2m7 0h1m99 0h2m2 0h2m4 0h1m2 0h2m6 0h2m39 0h2m10 0h2m51 0h2m6 0h5m6 0h3m-391 1h1m17 0h1m20 0h1m71 0h1m3 0h1m44 0h2m9 0h2m35 0h2m12 0h2m20 0h6m5 0h2m2 0h2m11 0h2m10 0h2m7 0h4m9 0h3m21 0h3m-337 1h1m11 0h1m21 0h1m11 0h1m27 0h1m11 0h1m15 0h1m8 0h1m1 0h1m8 0h1m4 0h1m7 0h1m30 0h1m13 0h3m67 0h2m2 0h2m1 0h2m2 0h4m19 0h2m29 0h2m58 0h3m-378 1h1m32 0h1m4 0h1m16 0h1m1 0h1m18 0h1m11 0h1m6 0h1m12 0h1m4 0h1m45 0h1m8 0h2m78 0h11m2 0h2m4 0h2m5 0h2m2 0h2m2 0h2m33 0h3m50 0h8m11 0h6m-362 1h1m13 0h1m4 0h1m28 0h2m15 0h2m2 0h1m5 0h1m3 0h1m3 0h1m6 0h2m10 0h1m1 0h2m44 0h1m77 0h2m27 0h3m27 0h2m12 0h3m33 0h3m-373 1h1m6 0h1m4 0h1m2 0h1m13 0h1m16 0h2m33 0h2m26 0h2m3 0h1m41 0h1m9 0h1m3 0h1m12 0h1m32 0h1m31 0h2m2 0h5m23 0h4m6 0h3m13 0h2m21 0h3m51 0h3m-386 1h1m9 0h1m8 0h2m1 0h1m5 0h1m1 0h1m5 0h1m5 0h2m37 0h1m27 0h1m2 0h1m10 0h1m33 0h2m5 0h2m35 0h2m6 0h2m15 0h2m33 0h4m9 0h2m30 0h2m7 0h5m24 0h3m18 0h2m3 0h3m10 0h3m-358 1h1m31 0h1m20 0h1m27 0h1m13 0h1m13 0h2m70 0h2m12 0h1m26 0h4m9 0h2m15 0h2m11 0h2m25 0h2m20 0h2m13 0h2m14 0h5m-377 1h1m11 0h1m5 0h2m7 0h1m2 0h1m29 0h1m3 0h1m21 0h1m11 0h1m19 0h1m31 0h3m96 0h2m7 0h2m2 0h6m9 0h4m11 0h2m49 0h3m23 0h3m13 0h3m-390 1h1m4 0h1m4 0h1m3 0h1m68 0h1m4 0h1m4 0h1m9 0h1m29 0h1m10 0h2m23 0h2m34 0h2m40 0h4m2 0h4m3 0h2m21 0h2m6 0h3m20 0h4m3 0h2m2 0h3m2 0h3m35 0h11m14 0h3m-396 1h1m6 0h1m32 0h1m7 0h1m5 0h1m6 0h2m30 0h1m8 0h1m6 0h2m12 0h1m16 0h1m16 0h1m24 0h2m18 0h2m43 0h2m9 0h2m2 0h2m17 0h2m13 0h2m23 0h2m48 0h3m2 0h3m3 0h8m-388 1h1m25 0h1m24 0h1m2 0h1m5 0h1m5 0h1m14 0h2m11 0h1m28 0h1m4 0h1m17 0h1m41 0h1m9 0h2m11 0h2m34 0h2m4 0h2m7 0h4m11 0h6m48 0h2m10 0h3m10 0h2m16 0h3m3 0h2m-382 1h1m18 0h1m14 0h1m10 0h1m12 0h1m21 0h2m16 0h1m2 0h1m1 0h1m98 0h1m17 0h2m23 0h2m6 0h2m7 0h2m9 0h2m4 0h2m2 0h2m7 0h2m22 0h3m47 0h3m3 0h2m6 0h2m3 0h3m-385 1h1m3 0h1m19 0h1m1 0h1m23 0h1m36 0h2m12 0h1m30 0h1m35 0h2m15 0h1m17 0h4m13 0h2m28 0h2m7 0h2m13 0h2m40 0h2m45 0h3m5 0h3m5 0h3m-382 1h1m11 0h1m10 0h1m20 0h1m39 0h1m3 0h1m9 0h1m5 0h2m32 0h1m18 0h2m5 0h2m19 0h1m6 0h2m23 0h2m25 0h2m4 0h2m1 0h2m19 0h2m2 0h2m24 0h2m27 0h2m31 0h3m2 0h3m3 0h2m-362 1h1m38 0h1m39 0h1m4 0h1m2 0h3m29 0h1m60 0h2m6 0h2m13 0h2m22 0h6m5 0h2m13 0h4m6 0h2m7 0h2m2 0h2m55 0h3m-347 1h1m8 0h1m59 0h1m1 0h1m31 0h1m19 0h1m16 0h1m58 0h2m35 0h2m8 0h1m23 0h2m2 0h2m13 0h2m48 0h3m-332 1h1m4 0h1m4 0h1m3 0h1m55 0h1m25 0h1m29 0h1m4 0h1m3 0h1m19 0h2m22 0h2m25 0h2m12 0h2m14 0h1m23 0h2m11 0h2m47 0h2m13 0h2m16 0h3m3 0h2m9 0h3m-374 1h1m9 0h1m14 0h1m61 0h1m42 0h1m7 0h1m27 0h2m61 0h2m4 0h1m10 0h2m11 0h2m11 0h2m9 0h2m14 0h2m2 0h3m-317 1h1m4 0h1m35 0h1m16 0h1m25 0h2m19 0h1m11 0h1m55 0h1m33 0h2m35 0h2m5 0h2m15 0h2m33 0h2m14 0h3m5 0h2m5 0h3m23 0h3m2 0h3m3 0h2m6 0h3m-385 1h1m13 0h1m7 0h1m18 0h1m2 0h1m22 0h1m6 0h1m25 0h3m12 0h1m27 0h1m23 0h1m2 0h1m31 0h3m51 0h2m2 0h2m11 0h4m33 0h3m34 0h3m10 0h3m-366 1h1m36 0h1m36 0h1m2 0h1m11 0h1m134 0h2m10 0h2m17 0h2m21 0h2m53 0h2m50 0h3"/>
<path stroke="#472c7a" d="M105 59.5h1m67 0h1m7 0h1m35 0h1m5 0h1m36 0h2m32 0h2m2 0h1m29 0h2m2 0h2m19 0h3m2 0h2m19 0h2m21 0h2m35 0h2m-346 1h1m65 0h1m7 0h1m1 0h1m9 0h1m9 0h2m29 0h1m51 0h1m26 0h2m36 0h2m56 0h2m7 0h3m-312 1h1m52 0h1m29 0h1m6 0h1m8 0h1m22 0h2m41 0h1m22 0h1m15 0h2m21 0h2m2 0h2m28 0h2m-278 1h1m46 0h1m6 0h1m13 0h1m2 0h1m24 0h1m2 0h1m4 0h1m98 0h1m52 0h1m21 0h2m6 0h2m32 0h2m12 0h5m-331 1h1m12 0h1m5 0h1m27 0h1m4 0h1m4 0h1m1 0h1m18 0h1m17 0h1m6 0h1m2 0h1m5 0h2m13 0h1m53 0h1m67 0h2m4 0h2m13 0h2m30 0h3m-274 1h1m3 0h1m20 0h1m34 0h1m4 0h1m61 0h1m29 0h2m28 0h2m37 0h2m11 0h2m37 0h5m32 0h3m-357 1h1m30 0h1m2 0h1m13 0h1m4 0h1m39 0h1m51 0h1m1 0h1m32 0h1m71 0h2m13 0h2m7 0h2m2 0h2m38 0h2m37 0h3m-359 1h1m29 0h1m13 0h1m4 0h1m4 0h1m17 0h1m5 0h1m28 0h1m13 0h1m64 0h1m6 0h2m16 0h2m3 0h2m3 0h2m89 0h2m66 0h3m-379 1h1m20 0h1m20 0h1m3 0h1m5 0h1m42 0h1m4 0h1m6 0h2m80 0h2m48 0h2m4 0h2m22 0h2m10 0h2m42 0h2m58 0h3m-375 1h1m10 0h1m5 0h1m9 0h1m4 0h1m26 0h1m1 0h1m15 0h1m1 0h1m2 0h1m5 0h1m31 0h1m6 0h1m39 0h2m37 0h2m20 0h2m7 0h2m78 0h2m34 0h2m14 0h3m-390 1h1m6 0h1m49 0h1m5 0h1m7 0h1m2 0h1m32 0h1m9 0h1m36 0h1m15 0h2m63 0h2m136 0h3m14 0h3m-375 1h1m19 0h1m16 0h1m16 0h1m3 0h1m2 0h1m8 0h1m15 0h1m59 0h1m1 0h2m78 0h2m6 0h1m4 0h2m6 0h2m17 0h2m-285 1h1m25 0h1m18 0h2m10 0h1m23 0h2m3 0h2m71 0h2m35 0h2m4 0h2m33 0h2m55 0h2m33 0h3m-320 1h1m18 0h1m26 0h1m35 0h1m10 0h2m4 0h2m1 0h1m22 0h1m5 0h2m6 0h1m10 0h1m36 0h2m13 0h2m35 0h1m12 0h2m7 0h4m38 0h2m61 0h3m3 0h3m-375 1h1m3 0h1m71 0h1m12 0h1m145 0h2m30 0h2m9 0h2m25 0h2m30 0h3m16 0h2m6 0h2m-344 1h1m8 0h1m18 0h1m7 0h1m6 0h2m19 0h1m5 0h1m2 0h1m37 0h1m5 0h1m2 0h1m46 0h1m23 0h1m15 0h2m32 0h2m17 0h2m56 0h2m30 0h3m-393 1h1m42 0h1m14 0h1m17 0h1m5 0h1m17 0h1m8 0h1m30 0h1m10 0h1m6 0h2m71 0h1m28 0h4m2 0h2m13 0h2m35 0h5m15 0h2m10 0h3m13 0h2m-355 1h1m22 0h1m8 0h1m26 0h1m10 0h1m9 0h1m11 0h1m4 0h1m3 0h1m12 0h1m1 0h1m75 0h2m44 0h2m2 0h3m2 0h2m38 0h2m19 0h4m46 0h3m-349 1h1m1 0h1m8 0h1m19 0h1m9 0h1m20 0h1m5 0h2m5 0h1m13 0h1m110 0h2m26 0h2m7 0h4m19 0h2m24 0h3m41 0h3m-345 1h1m5 0h1m60 0h1m22 0h1m9 0h1m24 0h2m9 0h2m45 0h1m54 0h2m22 0h2m58 0h3m5 0h2m-323 1h1m12 0h1m8 0h2m7 0h1m8 0h1m37 0h1m9 0h1m5 0h1m31 0h1m35 0h1m15 0h2m53 0h2m24 0h2m99 0h2m6 0h3m-392 1h1m25 0h1m7 0h1m3 0h1m42 0h1m2 0h1m41 0h1m2 0h1m10 0h1m36 0h1m100 0h4m11 0h2m-255 1h1m40 0h1m17 0h1m2 0h1m1 0h1m38 0h2m2 0h1m33 0h2m7 0h2m60 0h2m26 0h4m29 0h2m34 0h3m31 0h3m-386 1h1m24 0h1m1 0h1m12 0h1m11 0h1m8 0h1m19 0h1m22 0h1m4 0h2m35 0h2m8 0h1m29 0h1m55 0h2m2 0h2m6 0h2m3 0h4m13 0h2m17 0h2m42 0h3m-342 1h1m4 0h1m15 0h1m4 0h1m15 0h1m69 0h1m50 0h1m4 0h2m25 0h1m13 0h2m52 0h2m2 0h2m70 0h3m23 0h2m11 0h3m-284 1h1m1 0h1m6 0h1m1 0h1m6 0h1m68 0h2m13 0h2m2 0h1m76 0h2m17 0h2m53 0h3m-358 1h1m1 0h1m22 0h1m4 0h1m15 0h1m43 0h1m9 0h1m42 0h1m4 0h1m7 0h1m22 0h2m19 0h2m56 0h2m21 0h2m4 0h2m7 0h2m20 0h3m12 0h2m55 0h3m-344 1h1m8 0h1m34 0h1m1 0h1m83 0h2m60 0h2m12 0h2m11 0h2m55 0h3m56 0h3m3 0h3m-389 1h1m11 0h1m56 0h1m8 0h1m14 0h1m2 0h1m15 0h1m85 0h2m75 0h2m26 0h2m34 0h2m3 0h2m3 0h7m24 0h3m3 0h6m-364 1h1m6 0h1m50 0h1m18 0h1m51 0h1m11 0h2m52 0h2m22 0h2m43 0h2m92 0h6m-392 1h1m25 0h1m5 0h1m3 0h1m41 0h2m3 0h1m11 0h1m7 0h1m10 0h1m18 0h1m9 0h1m3 0h1m3 0h1m15 0h1m19 0h2m22 0h2m64 0h2m40 0h2m33 0h2m-301 1h1m42 0h1m1 0h1m31 0h1m20 0h1m66 0h1m13 0h2m20 0h4m15 0h2m4 0h2m18 0h2m31 0h2m50 0h3m-348 1h1m2 0h1m1 0h1m22 0h1m5 0h1m27 0h1m1 0h1m5 0h1m10 0h1m30 0h1m21 0h2m21 0h2m49 0h4m34 0h3m88 0h5m-384 1h1m10 0h1m13 0h1m12 0h1m7 0h1m2 0h1m28 0h2m7 0h1m2 0h1m3 0h1m36 0h1m7 0h1m22 0h2m50 0h1m13 0h1m8 0h3m90 0h2m58 0h3m-372 1h1m20 0h1m29 0h1m13 0h1m3 0h1m12 0h1m29 0h1m32 0h2m10 0h1m2 0h1m12 0h2m82 0h2m99 0h5m-375 1h1m6 0h1m10 0h1m11 0h1m8 0h1m30 0h1m27 0h1m3 0h1m9 0h1m11 0h1m35 0h1m2 0h1m75 0h2m24 0h2m2 0h2m17 0h2m74 0h3m5 0h3m-347 1h1m1 0h1m5 0h1m49 0h1m2 0h1m25 0h1m92 0h2m36 0h4m17 0h2m19 0h2m12 0h2m-311 1h1m83 0h1m10 0h1m4 0h3m2 0h1m5 0h1m27 0h2m23 0h2m31 0h2m6 0h2m19 0h1m19 0h2m7 0h2m2 0h2m13 0h2m42 0h2m10 0h3m-328 1h1m11 0h1m5 0h2m9 0h1m7 0h1m20 0h1m10 0h1m2 0h2m1 0h1m2 0h1m8 0h1m2 0h1m9 0h1m8 0h1m20 0h1m8 0h2m22 0h2m18 0h1m81 0h2m17 0h2m62 0h2m16 0h3m-341 1h1m57 0h1m3 0h1m10 0h1m81 0h1m81 0h2m61 0h2m18 0h2m-350 1h1m8 0h1m10 0h1m13 0h1m5 0h1m2 0h1m14 0h1m13 0h2m1 0h1m33 0h1m21 0h1m10 0h1m18 0h1m79 0h2m2 0h2m1 0h2m4 0h2m17 0h2m2 0h2m27 0h2m3 0h2m40 0h3m18 0h3m-381 1h2m46 0h1m56 0h1m35 0h1m92 0h1m17 0h2m19 0h4m101 0h3m-378 1h1m18 0h1m22 0h1m28 0h1m1 0h1m17 0h2m6 0h1m5 0h1m29 0h2m47 0h1m3 0h2m23 0h2m53 0h4m2 0h2m2 0h2m32 0h2m5 0h2m8 0h2m31 0h3m-368 1h1m4 0h1m9 0h1m31 0h1m18 0h1m6 0h1m12 0h1m4 0h1m2 0h1m1 0h1m20 0h1m16 0h1m47 0h2m9 0h1m2 0h2m77 0h2m75 0h2m14 0h2m17 0h3m-368 1h1m1 0h1m36 0h1m14 0h1m4 0h1m1 0h1m4 0h1m1 0h1m13 0h1m27 0h2m50 0h1m3 0h2m6 0h2m3 0h1m75 0h2m99 0h3m-376 1h1m8 0h1m1 0h1m7 0h1m20 0h1m1 0h1m33 0h2m11 0h1m6 0h1m1 0h1m98 0h2m17 0h2m29 0h4m59 0h2m35 0h2m11 0h3m8 0h2m-359 1h1m2 0h1m5 0h1m21 0h1m11 0h1m4 0h1m15 0h1m1 0h1m21 0h1m71 0h2m9 0h1m58 0h2m43 0h2m53 0h3m10 0h3m-361 1h1m12 0h1m5 0h1m43 0h1m8 0h1m20 0h2m9 0h1m33 0h1m2 0h1m35 0h1m12 0h2m20 0h2m29 0h2m24 0h2m77 0h2m24 0h3m-371 1h1m64 0h1m18 0h1m16 0h1m7 0h1m74 0h2m20 0h2m3 0h2m3 0h2m28 0h2m13 0h2m37 0h2m7 0h3m30 0h2m11 0h3m-359 1h1m40 0h1m32 0h1m2 0h1m2 0h1m4 0h1m22 0h1m2 0h1m45 0h1m58 0h1m23 0h2m5 0h2m57 0h2m-321 1h1m19 0h1m48 0h1m4 0h1m11 0h1m5 0h1m5 0h1m51 0h1m14 0h2m18 0h1m30 0h2m44 0h2m15 0h2m2 0h2m76 0h3m-358 1h1m11 0h1m2 0h1m13 0h1m18 0h1m43 0h1m6 0h1m1 0h1m72 0h2m9 0h1m3 0h2m48 0h2m4 0h2m5 0h4m15 0h2m21 0h3m13 0h3m4 0h3m17 0h3m-345 1h1m58 0h1m5 0h1m11 0h1m10 0h1m8 0h1m9 0h1m18 0h1m6 0h1m50 0h1m2 0h1m58 0h2m89 0h3m15 0h5m19 0h8m-342 1h1m41 0h1m9 0h1m8 0h1m17 0h1m43 0h1m6 0h1m17 0h1m54 0h2m58 0h3m2 0h2m32 0h3m-341 1h1m11 0h1m2 0h2m1 0h1m6 0h1m1 0h1m4 0h1m2 0h1m35 0h1m3 0h1m11 0h1m7 0h3m1 0h1m6 0h2m33 0h2m96 0h4m3 0h4m17 0h6m63 0h2m24 0h5m-362 1h1m13 0h1m43 0h1m34 0h1m2 0h1m41 0h1m9 0h2m4 0h1m1 0h2m4 0h2m10 0h2m32 0h2m54 0h4m73 0h2m8 0h3m22 0h3m-393 1h1m5 0h1m15 0h1m30 0h1m42 0h1m2 0h1m7 0h2m4 0h1m95 0h1m40 0h2m26 0h2m38 0h2m15 0h2m3 0h2m29 0h2m6 0h2m9 0h3m-387 1h1m21 0h1m9 0h1m37 0h1m12 0h1m7 0h1m2 0h1m5 0h1m52 0h2m89 0h4m3 0h2m29 0h3m6 0h2m5 0h2m51 0h3m30 0h3m-365 1h1m1 0h1m40 0h1m1 0h1m4 0h1m11 0h1m30 0h1m75 0h2m5 0h1m9 0h1m2 0h2m3 0h2m64 0h3m15 0h2m14 0h3m22 0h3m-351 1h1m10 0h1m41 0h1m43 0h1m3 0h1m5 0h1m58 0h1m2 0h1m66 0h2m24 0h2m4 0h2m9 0h2m11 0h2m27 0h2m13 0h2m36 0h3m5 0h3m-374 1h1m2 0h1m7 0h1m17 0h1m4 0h1m39 0h1m12 0h1m20 0h2m108 0h1m28 0h2m2 0h2m34 0h2m56 0h2m-343 1h1m14 0h1m68 0h1m8 0h1m3 0h1m5 0h1m15 0h1m27 0h1m6 0h1m30 0h2m77 0h4m11 0h2m20 0h3m4 0h3m40 0h3m5 0h3m14 0h3m-391 1h1m56 0h1m10 0h1m4 0h1m1 0h1m37 0h1m11 0h1m40 0h1m25 0h2m11 0h2m8 0h2m69 0h3m77 0h3m2 0h3m5 0h3m-378 1h1m14 0h1m40 0h1m17 0h1m13 0h1m2 0h1m16 0h1m47 0h2m11 0h1m2 0h1m8 0h1m27 0h2m42 0h2m36 0h2m74 0h3m-364 1h1m38 0h1m13 0h1m31 0h1m4 0h1m3 0h1m5 0h1m12 0h1m23 0h1m4 0h1m24 0h3m25 0h2m6 0h2m7 0h2m14 0h2m36 0h2m35 0h3m2 0h2m8 0h2m-319 1h1m39 0h1m42 0h1m1 0h1m15 0h1m1 0h1m24 0h2m27 0h2m21 0h3m42 0h2m14 0h3m8 0h2m11 0h4m4 0h2m44 0h3m41 0h3m-380 1h1m20 0h1m30 0h1m27 0h1m17 0h1m7 0h1m48 0h1m15 0h2m12 0h1m61 0h2m7 0h4m13 0h2m66 0h2m15 0h3m13 0h3m3 0h5m-380 1h1m13 0h2m5 0h1m18 0h1m6 0h1m8 0h1m3 0h1m6 0h1m1 0h1m6 0h1m58 0h1m28 0h1m30 0h2m32 0h2m15 0h2m17 0h3m2 0h4m69 0h3m5 0h2m3 0h3m-325 1h1m31 0h1m26 0h1m8 0h1m5 0h1m37 0h2m47 0h2m9 0h2m28 0h2m8 0h2m52 0h2m29 0h2m-333 1h1m10 0h1m63 0h1m4 0h1m12 0h1m10 0h2m5 0h1m10 0h1m25 0h1m66 0h2m34 0h2m19 0h2m-204 1h1m2 0h1m1 0h1m17 0h1m8 0h2m49 0h1m30 0h2m14 0h1m9 0h1m84 0h3m48 0h2m3 0h2m16 0h3m5 0h3m6 0h3m-387 1h1m20 0h1m1 0h1m14 0h1m9 0h1m30 0h1m1 0h1m4 0h1m4 0h1m33 0h1m26 0h1m22 0h1m66 0h4m3 0h2m36 0h2m60 0h2m-359 1h1m15 0h1m10 0h1m25 0h1m18 0h1m37 0h1m4 0h1m3 0h1m31 0h1m3 0h1m3 0h1m41 0h2m3 0h1m14 0h2m14 0h2m7 0h2m9 0h2m95 0h3m-340 1h1m67 0h1m2 0h1m10 0h1m14 0h2m23 0h1m1 0h1m42 0h2m15 0h2m27 0h1m9 0h2m36 0h2m2 0h2m83 0h3m13 0h3m-374 1h1m14 0h1m13 0h1m2 0h1m8 0h1m27 0h1m33 0h1m10 0h1m40 0h1m28 0h2m52 0h2m11 0h2m36 0h3m2 0h2m29 0h2m8 0h2m34 0h3m6 0h3m-384 1h1m30 0h1m5 0h1m4 0h1m14 0h1m12 0h1m6 0h1m30 0h1m17 0h2m22 0h2m1 0h2m4 0h1m144 0h2m3 0h2m59 0h2m3 0h3m-389 1h1m6 0h2m44 0h1m17 0h1m3 0h1m15 0h1m3 0h1m3 0h1m34 0h1m26 0h2m7 0h1m1 0h2m7 0h3m35 0h2m96 0h3m53 0h5m3 0h2m-359 1h1m12 0h1m11 0h1m6 0h1m24 0h1m11 0h1m16 0h4m1 0h2m23 0h1m20 0h2m74 0h2m15 0h2m1 0h2m21 0h2m13 0h2m76 0h2m-347 1h1m46 0h1m67 0h2m2 0h1m6 0h1m34 0h1m88 0h2m10 0h3m-293 1h1m14 0h1m3 0h1m3 0h2m30 0h1m56 0h1m17 0h2m1 0h1m30 0h2m32 0h3m43 0h2m2 0h2m30 0h4m11 0h2m16 0h2m5 0h2m51 0h2m-355 1h1m14 0h1m38 0h1m24 0h1m32 0h1m4 0h2m54 0h2m53 0h4m2 0h2m24 0h2m47 0h3m46 0h3m-382 1h1m44 0h1m7 0h1m57 0h1m22 0h1m6 0h1m154 0h2m40 0h2m34 0h2m3 0h3m-372 1h1m2 0h1m7 0h2m8 0h1m29 0h1m4 0h1m8 0h1m11 0h1m6 0h1m5 0h1m9 0h1m3 0h1m3 0h1m37 0h1m34 0h2m4 0h2m19 0h2m9 0h2m16 0h2m13 0h2m27 0h3m20 0h2m-292 1h1m3 0h1m11 0h1m2 0h1m24 0h1m34 0h1m5 0h1m10 0h1m13 0h1m55 0h1m90 0h2m8 0h3m20 0h2m-300 1h1m12 0h1m4 0h1m12 0h1m41 0h1m21 0h1m4 0h1m55 0h1m49 0h2m34 0h2m2 0h4m13 0h4m2 0h2m7 0h2m39 0h3m41 0h3m5 0h3m-375 1h1m5 0h1m18 0h1m41 0h1m2 0h1m13 0h2m3 0h1m94 0h1m10 0h2m43 0h2m1 0h2m17 0h2m37 0h2m17 0h3m52 0h6m-360 1h1m9 0h2m4 0h1m21 0h2m2 0h1m3 0h1m7 0h1m8 0h2m1 0h1m10 0h1m11 0h1m18 0h2m109 0h2m61 0h3m63 0h9m-391 1h1m17 0h1m39 0h2m19 0h1m87 0h2m1 0h1m17 0h1m9 0h2m8 0h2m50 0h2m-182 1h1m4 0h1m22 0h1m12 0h1m12 0h1m10 0h1m30 0h1m76 0h2m26 0h2m13 0h2m74 0h2m6 0h2m6 0h3m-393 1h1m26 0h2m42 0h1m22 0h1m45 0h1m27 0h1m41 0h2m131 0h2m23 0h3m5 0h3m3 0h2m9 0h3m-376 1h1m3 0h1m40 0h1m16 0h1m17 0h1m37 0h2m15 0h1m68 0h1m28 0h2m3 0h2m17 0h2m15 0h2m6 0h3m9 0h2m-308 1h1m23 0h1m16 0h1m2 0h1m3 0h1m36 0h1m5 0h1m17 0h1m12 0h1m112 0h2m100 0h3m28 0h3m11 0h3m-386 1h1m8 0h1m5 0h1m20 0h1m2 0h1m26 0h1m7 0h1m8 0h1m27 0h1m19 0h2m54 0h2m4 0h2m23 0h2m26 0h2m3 0h2m15 0h2m97 0h8m11 0h3m-377 1h1m5 0h1m2 0h2m36 0h1m31 0h1m10 0h4m2 0h2m14 0h2m32 0h2m50 0h1m158 0h3m-367 1h1m6 0h1m33 0h1m2 0h1m25 0h1m1 0h1m14 0h2m4 0h1m3 0h1m11 0h2m6 0h1m13 0h1m16 0h1m21 0h2m21 0h2m1 0h2m19 0h2m12 0h2m19 0h2m108 0h2m-346 1h1m67 0h1m8 0h1m1 0h1m5 0h1m20 0h1m7 0h2m50 0h1m3 0h2m32 0h2m47 0h2m26 0h3m46 0h3m-334 1h1m7 0h1m5 0h1m2 0h1m13 0h1m41 0h1m21 0h1m5 0h1m63 0h2m59 0h2m22 0h2m30 0h3m39 0h2m3 0h2m16 0h3m-375 1h1m25 0h1m15 0h1m35 0h2m1 0h3m4 0h1m6 0h1m3 0h1m15 0h1m13 0h1m17 0h1m24 0h2m7 0h2m9 0h1m50 0h2m4 0h2m2 0h5m15 0h2m66 0h3m34 0h2m-379 1h1m55 0h1m13 0h2m4 0h1m35 0h1m6 0h1m16 0h2m136 0h2m-239 1h1m46 0h1m5 0h1m6 0h1m6 0h1m2 0h1m38 0h1m26 0h1m15 0h2m11 0h1m54 0h2m15 0h2m4 0h2m4 0h3m6 0h2m14 0h2m25 0h2m13 0h2m-355 1h1m28 0h1m11 0h1m3 0h2m59 0h1m48 0h1m64 0h2m26 0h2m30 0h2m29 0h2m-315 1h1m23 0h1m20 0h1m33 0h1m21 0h1m18 0h1m89 0h2m2 0h1m31 0h2m2 0h2m26 0h2m-281 1h1m8 0h1m11 0h1m37 0h1m18 0h1m1 0h1m29 0h1m20 0h1m17 0h1m26 0h3m68 0h2m2 0h2m59 0h2m19 0h3m28 0h2m-362 1h1m4 0h1m21 0h1m49 0h1m6 0h1m18 0h1m10 0h1m25 0h1m61 0h2m45 0h2m1 0h2m34 0h2m25 0h2m48 0h3m-311 1h1m15 0h1m2 0h1m9 0h1m7 0h1m1 0h1m8 0h1m19 0h4m6 0h1m13 0h1m22 0h1m26 0h2m36 0h2m34 0h2m15 0h2m18 0h2m17 0h3m12 0h3m7 0h3m8 0h3m-292 1h1m4 0h1m12 0h1m37 0h2m4 0h2m11 0h1m41 0h1m53 0h2m24 0h2m2 0h2m17 0h3m79 0h3m-385 1h1m10 0h1m6 0h1m9 0h1m10 0h1m18 0h1m26 0h1m3 0h1m42 0h1m64 0h1m49 0h2m9 0h2m25 0h2m2 0h3m2 0h2m60 0h2m8 0h6m-373 1h1m8 0h1m3 0h1m6 0h1m8 0h1m5 0h1m11 0h1m7 0h1m11 0h1m13 0h1m32 0h1m18 0h1m6 0h1m7 0h2m9 0h1m88 0h2m2 0h2m3 0h6m107 0h3m-373 1h1m28 0h1m13 0h1m21 0h1m27 0h2m25 0h2m1 0h1m1 0h1m20 0h1m8 0h1m8 0h2m5 0h1m37 0h2m31 0h2m17 0h2m25 0h2m67 0h5m11 0h2m-376 1h1m4 0h1m16 0h1m5 0h1m12 0h1m36 0h1m11 0h1m9 0h1m15 0h1m40 0h1m23 0h1m43 0h2m20 0h2m28 0h4m-246 1h1m9 0h1m36 0h1m27 0h1m7 0h1m5 0h1m6 0h2m28 0h1m25 0h1m101 0h2m91 0h2m-382 1h1m11 0h1m9 0h1m57 0h1m11 0h1m19 0h1m79 0h2m53 0h2m6 0h3m17 0h2m4 0h2m40 0h3m17 0h3m2 0h3m15 0h3m-355 1h1m16 0h1m17 0h1m8 0h1m22 0h1m9 0h1m6 0h1m14 0h1m1 0h1m75 0h1m18 0h1m7 0h2m21 0h2m2 0h2m9 0h2m38 0h2m18 0h3m47 0h3m19 0h3m-390 1h1m3 0h1m2 0h1m5 0h1m35 0h2m19 0h1m35 0h2m56 0h1m79 0h2m9 0h2m23 0h2m9 0h2m25 0h2m48 0h3m10 0h3m-308 1h1m17 0h1m6 0h1m4 0h1m18 0h1m23 0h1m37 0h1m5 0h1m52 0h2m7 0h2m36 0h2m84 0h2m-374 1h1m16 0h1m1 0h1m21 0h1m3 0h2m5 0h1m14 0h1m25 0h1m6 0h1m5 0h1m6 0h1m40 0h1m60 0h2m13 0h1m17 0h2m6 0h2m17 0h2m13 0h2m16 0h3m47 0h6m2 0h3m-361 1h1m28 0h1m39 0h1m14 0h1m10 0h1m32 0h1m15 0h2m113 0h2m19 0h2m16 0h2m3 0h4m43 0h3m11 0h5m-383 1h1m1 0h1m34 0h1m14 0h1m31 0h1m11 0h1m99 0h2m47 0h2m7 0h2m-259 1h1m22 0h1m18 0h1m5 0h1m107 0h1m13 0h1m69 0h2m15 0h2m17 0h2m89 0h3m13 0h3m3 0h3m-378 1h1m24 0h1m6 0h1m55 0h1m17 0h2m18 0h1m19 0h1m25 0h1m6 0h3m3 0h2m51 0h2m2 0h1m21 0h4m8 0h5m29 0h3m54 0h2m-377 1h1m10 0h1m3 0h1m14 0h2m4 0h1m38 0h1m4 0h1m5 0h1m6 0h1m8 0h1m5 0h1m52 0h1m30 0h3m22 0h1m30 0h2m1 0h2m95 0h3m10 0h8m6 0h2m6 0h3m-382 1h1m48 0h1m28 0h1m10 0h1m9 0h1m2 0h1m4 0h1m29 0h1m7 0h1m5 0h2m12 0h2m7 0h2m15 0h2m1 0h2m51 0h2m19 0h4m13 0h2m11 0h2m79 0h3m-375 1h1m24 0h1m11 0h1m34 0h1m6 0h1m1 0h2m6 0h1m1 0h1m3 0h1m1 0h1m1 0h1m11 0h1m16 0h1m5 0h1m32 0h2m12 0h1m5 0h2m5 0h1m34 0h2m119 0h3m5 0h3m3 0h2m-384 1h1m28 0h1m6 0h1m1 0h1m3 0h1m4 0h1m9 0h1m90 0h1m16 0h3m13 0h1m69 0h4m3 0h4m73 0h3m44 0h2m-374 1h1m9 0h1m4 0h1m6 0h1m16 0h1m1 0h1m2 0h1m29 0h1m3 0h1m8 0h1m23 0h2m44 0h1m5 0h2m30 0h2m24 0h1m32 0h2m2 0h2m68 0h2m-325 1h1m26 0h1m15 0h1m12 0h1m15 0h1m12 0h1m24 0h1m22 0h1m22 0h1m55 0h2m11 0h1m17 0h2m21 0h2m31 0h2m17 0h2m33 0h8m17 0h3m-367 1h1m5 0h1m46 0h1m6 0h1m8 0h1m11 0h1m4 0h1m137 0h2m24 0h4m85 0h3m5 0h3m5 0h3m-382 1h1m26 0h1m11 0h1m2 0h1m34 0h1m5 0h1m11 0h1m6 0h1m2 0h1m13 0h1m71 0h1m30 0h2m24 0h2m3 0h2m19 0h2m10 0h3m6 0h5m33 0h2m20 0h3m11 0h5m-352 1h2m17 0h1m25 0h1m10 0h1m2 0h1m1 0h1m49 0h2m17 0h1m9 0h1m28 0h1m56 0h2m3 0h4m2 0h2m17 0h2m36 0h2m15 0h2m15 0h3m-337 1h1m5 0h1m38 0h1m16 0h1m3 0h1m25 0h1m14 0h1m29 0h2m4 0h1m22 0h1m29 0h1m13 0h1m8 0h1m73 0h2m52 0h3m-328 1h1m43 0h1m6 0h1m15 0h1m12 0h1m37 0h1m7 0h2m13 0h1m64 0h2m2 0h2m11 0h2m70 0h2m28 0h3m13 0h3m-372 1h1m4 0h1m10 0h2m81 0h1m23 0h2m111 0h2m9 0h2m13 0h2m21 0h2m26 0h2m49 0h3m-362 1h1m6 0h1m26 0h1m34 0h1m10 0h1m3 0h1m2 0h1m2 0h2m3 0h1m7 0h1m29 0h2m23 0h1m18 0h2m30 0h2m18 0h2m7 0h2m8 0h2m73 0h2m39 0h3m-383 1h1m2 0h1m6 0h1m9 0h2m53 0h1m2 0h1m13 0h1m13 0h1m10 0h2m5 0h1m31 0h2m113 0h2m14 0h3m59 0h2m27 0h2m3 0h3m-353 1h1m10 0h1m32 0h2m11 0h1m13 0h2m8 0h1m23 0h1m13 0h2m2 0h1m21 0h2m3 0h1m67 0h2m43 0h2m61 0h3m2 0h3m19 0h3m-383 1h1m38 0h1m46 0h1m19 0h1m32 0h2m6 0h1m21 0h2m1 0h2m107 0h3m8 0h3m4 0h2m60 0h3m-333 1h1m10 0h1m47 0h1m7 0h1m32 0h1m71 0h2m64 0h4m91 0h2m-341 1h2m37 0h1m1 0h1m4 0h2m2 0h1m14 0h1m8 0h1m30 0h2m15 0h1m2 0h1m20 0h1m75 0h1m63 0h2m53 0h3m14 0h3m-360 1h1m9 0h1m12 0h1m65 0h1m12 0h2m1 0h1m109 0h2m26 0h2m87 0h3m16 0h3m-357 1h1m2 0h1m45 0h1m5 0h1m10 0h1m20 0h1m14 0h1m46 0h2m21 0h2m10 0h1m73 0h3m99 0h3m-376 1h2m4 0h1m19 0h2m28 0h1m5 0h1m10 0h1m9 0h1m14 0h1m2 0h2m3 0h1m2 0h1m17 0h1m3 0h1m13 0h2m101 0h2m11 0h2m17 0h2m9 0h5m5 0h2m48 0h3m-355 1h1m21 0h1m2 0h1m37 0h1m2 0h1m14 0h1m7 0h1m1 0h1m47 0h2m16 0h2m71 0h2m15 0h2m32 0h2m-297 1h1m4 0h1m36 0h1m45 0h1m4 0h1m53 0h1m76 0h2m20 0h2m5 0h2m23 0h2m-285 1h1m3 0h1m15 0h1m6 0h1m1 0h1m6 0h1m40 0h1m13 0h1m4 0h1m6 0h1m2 0h1m3 0h2m16 0h1m122 0h2m5 0h2m47 0h2m12 0h2m27 0h3m15 0h3m-363 1h1m25 0h1m38 0h1m5 0h1m2 0h1m23 0h1m10 0h1m13 0h2m10 0h1m18 0h2m5 0h2m11 0h2m1 0h2m33 0h2m31 0h2m28 0h2m11 0h4m23 0h2m33 0h2m3 0h3m16 0h5m3 0h3m-383 1h1m17 0h1m10 0h1m11 0h1m4 0h1m24 0h1m5 0h1m8 0h1m12 0h1m3 0h1m139 0h4m1 0h2m25 0h2m31 0h3m29 0h3m5 0h2m16 0h3m-346 1h1m31 0h1m2 0h2m9 0h1m9 0h1m7 0h1m1 0h2m9 0h1m9 0h1m22 0h1m7 0h1m5 0h1m93 0h2m28 0h2m40 0h2m49 0h2m14 0h3m-360 1h1m53 0h1m9 0h1m20 0h1m2 0h2m76 0h1m5 0h2m40 0h2m9 0h2m21 0h2m2 0h2m9 0h2m23 0h2m15 0h2m15 0h3m24 0h5m-375 1h1m12 0h2m12 0h1m13 0h1m28 0h1m6 0h1m16 0h1m4 0h1m3 0h1m5 0h2m5 0h1m36 0h2m30 0h2m14 0h2m64 0h2m4 0h2m24 0h3m24 0h2m36 0h3m5 0h3m-385 1h1m7 0h1m45 0h1m19 0h1m11 0h1m4 0h1m16 0h1m27 0h2m27 0h1m11 0h2m79 0h2m2 0h2m13 0h2m87 0h6m19 0h3m-388 1h1m19 0h1m71 0h1m5 0h1m2 0h1m30 0h1m19 0h1m29 0h1m11 0h2m4 0h2m43 0h2m20 0h2m41 0h3m47 0h6m8 0h2m-373 1h1m7 0h2m2 0h1m11 0h2m1 0h1m39 0h1m13 0h1m10 0h1m11 0h1m2 0h1m4 0h1m52 0h2m32 0h2m35 0h2m17 0h2m46 0h2m2 0h5m35 0h2m22 0h2m-360 1h1m13 0h1m9 0h1m12 0h1m30 0h1m10 0h2m10 0h2m11 0h1m15 0h2m81 0h2m35 0h2m15 0h2m28 0h3m4 0h3m19 0h3m2 0h3m20 0h3m-370 1h1m78 0h1m26 0h1m1 0h1m41 0h1m10 0h2m96 0h4m64 0h2m38 0h6m-372 1h1m48 0h1m1 0h1m14 0h1m42 0h1m4 0h1m27 0h2m5 0h1m48 0h2m5 0h1m9 0h1m35 0h2m2 0h7m21 0h2m103 0h3m-392 1h1m3 0h1m16 0h1m66 0h1m27 0h1m70 0h2m3 0h1m31 0h2m33 0h2m17 0h2m28 0h2m19 0h3m7 0h3m25 0h3m-369 1h1m18 0h1m7 0h1m2 0h1m7 0h1m48 0h1m10 0h1m50 0h1m12 0h1m84 0h6m3 0h4m19 0h2m13 0h2m4 0h5m26 0h2m33 0h3m3 0h2m-364 1h1m9 0h1m27 0h1m32 0h1m19 0h2m4 0h1m58 0h1m33 0h3m12 0h1m35 0h2m45 0h2m14 0h2m3 0h2m15 0h2m44 0h3m3 0h3m-370 1h1m4 0h1m3 0h1m1 0h1m51 0h1m4 0h1m21 0h1m20 0h1m37 0h1m8 0h1m49 0h1m17 0h2m7 0h2m4 0h2m17 0h2m86 0h3m5 0h3m-378 1h2m20 0h1m9 0h1m15 0h2m21 0h1m4 0h3m4 0h1m15 0h1m5 0h1m3 0h1m2 0h1m17 0h1m27 0h2m30 0h2m19 0h2m10 0h2m9 0h2m81 0h2m10 0h2m5 0h3m15 0h2m11 0h5m14 0h3m-387 1h1m24 0h1m43 0h1m12 0h1m15 0h1m47 0h1m46 0h1m55 0h2m22 0h2m4 0h2m95 0h2m-384 1h1m3 0h1m26 0h1m3 0h1m68 0h1m4 0h1m31 0h1m39 0h1m5 0h1m11 0h1m60 0h2m2 0h2m13 0h2m85 0h2m-322 1h1m35 0h1m4 0h1m21 0h1m18 0h1m95 0h1m2 0h2m31 0h2m63 0h3m7 0h3m30 0h6m-359 1h1m8 0h1m14 0h1m13 0h1m13 0h1m8 0h1m14 0h1m3 0h1m3 0h2m12 0h1m4 0h1m28 0h1m67 0h2m32 0h2m4 0h2m7 0h2m6 0h3m-219 1h1m33 0h2m2 0h1m15 0h1m19 0h1m4 0h1m4 0h1m3 0h2m15 0h1m34 0h1m46 0h2m19 0h2m15 0h2m24 0h2m9 0h3m14 0h3m-322 1h1m11 0h1m14 0h1m9 0h1m15 0h1m26 0h1m6 0h1m12 0h1m31 0h1m27 0h2m46 0h1m18 0h2m8 0h2m9 0h2m15 0h2m8 0h3m15 0h2m57 0h6m2 0h3m3 0h2m-383 1h1m18 0h1m47 0h1m12 0h2m21 0h1m4 0h2m4 0h1m52 0h1m89 0h2m21 0h4m13 0h2m71 0h3m10 0h3m-383 1h1m10 0h1m33 0h1m27 0h1m32 0h1m4 0h1m5 0h2m19 0h1m38 0h1m2 0h1m12 0h2m6 0h2m72 0h2m19 0h2m9 0h3m49 0h3m13 0h3m-344 1h1m8 0h1m39 0h1m12 0h1m3 0h1m5 0h1m31 0h1m84 0h2m121 0h3m15 0h3m-339 1h1m1 0h1m11 0h1m39 0h1m7 0h1m9 0h1m8 0h1m12 0h1m1 0h1m65 0h2m40 0h2m11 0h2m13 0h2m6 0h3m4 0h2m35 0h2m53 0h3m16 0h3m-377 1h1m70 0h1m2 0h3m7 0h1m2 0h1m34 0h2m51 0h2m22 0h2m32 0h2m2 0h2m28 0h2m11 0h2m16 0h2m27 0h2m5 0h3m7 0h3m13 0h3m5 0h3m-358 1h1m22 0h1m3 0h1m28 0h1m14 0h1m8 0h1m2 0h1m22 0h1m1 0h3m8 0h1m47 0h1m8 0h2m13 0h2m10 0h2m6 0h1m19 0h4m15 0h2m2 0h2m26 0h3m76 0h3m-378 1h1m4 0h1m29 0h1m31 0h2m16 0h1m6 0h1m5 0h1m34 0h1m53 0h2m13 0h1m65 0h2m29 0h2m2 0h3m17 0h2m28 0h3m13 0h3m-368 1h1m32 0h1m3 0h1m26 0h1m9 0h1m47 0h1m46 0h2m18 0h2m41 0h2m24 0h6m35 0h3m12 0h2m33 0h3m19 0h3m-382 1h1m10 0h1m36 0h1m25 0h1m3 0h1m14 0h1m4 0h1m13 0h1m31 0h1m29 0h2m15 0h2m56 0h2m8 0h2m5 0h2m12 0h3m36 0h3m35 0h6m-369 1h1m2 0h1m2 0h1m1 0h1m68 0h1m12 0h1m1 0h1m4 0h1m6 0h1m13 0h2m35 0h1m36 0h2m28 0h2m26 0h2m1 0h2m4 0h2m13 0h2m19 0h2m46 0h2m8 0h2m8 0h3m5 0h3m14 0h3m-396 1h1m2 0h1m54 0h1m11 0h1m16 0h1m12 0h1m26 0h1m9 0h1m5 0h1m8 0h1m98 0h4m36 0h3m22 0h2m15 0h2m41 0h3m3 0h2m-362 1h1m6 0h1m24 0h1m27 0h1m32 0h1m72 0h2m15 0h2m42 0h2m24 0h2m56 0h2m15 0h3m31 0h3m6 0h3m-349 1h1m4 0h1m27 0h1m2 0h1m7 0h1m7 0h1m2 0h1m14 0h1m69 0h1m43 0h1m17 0h2m4 0h2m1 0h2m31 0h3m77 0h3m8 0h2m-384 1h1m30 0h1m15 0h1m4 0h1m7 0h1m22 0h1m16 0h2m14 0h1m45 0h2m89 0h2m7 0h2m19 0h2m38 0h2m57 0h5m-359 1h2m10 0h1m25 0h1m22 0h1m19 0h1m1 0h1m16 0h1m5 0h1m25 0h1m26 0h1m5 0h1m13 0h1m83 0h3m20 0h2m7 0h2m8 0h2m28 0h3m5 0h5m8 0h3m6 0h3m-370 1h1m52 0h1m2 0h1m1 0h1m1 0h1m1 0h1m71 0h1m66 0h2m7 0h2m41 0h2m62 0h2m48 0h3m-356 1h1m32 0h1m29 0h1m58 0h2m53 0h1m31 0h2m2 0h2m20 0h2m37 0h2m5 0h2m10 0h2m23 0h2m16 0h3m11 0h6m-360 1h2m38 0h1m14 0h1m37 0h1m4 0h1m120 0h2m3 0h2m54 0h2m40 0h2m11 0h3m-373 1h1m8 0h2m41 0h2m27 0h2m4 0h2m21 0h2m11 0h1m23 0h1m56 0h2m6 0h2m38 0h2m83 0h2m18 0h2m11 0h3m5 0h3m-371 1h1m90 0h1m5 0h4m39 0h1m12 0h1m40 0h2m74 0h2m31 0h2m60 0h3m-367 1h1m31 0h1m23 0h1m22 0h2m7 0h1m2 0h1m6 0h1m5 0h1m80 0h2m54 0h2m13 0h2m28 0h2m74 0h2m-356 1h1m23 0h1m3 0h2m36 0h1m3 0h1m5 0h1m15 0h1m39 0h1m102 0h2m64 0h2m15 0h2m50 0h6m-384 1h1m14 0h1m3 0h1m13 0h1m15 0h1m4 0h1m16 0h1m24 0h1m103 0h1m23 0h2m5 0h2m10 0h2m1 0h2m8 0h2m9 0h4m2 0h2m34 0h4m8 0h2m5 0h3m-307 1h1m30 0h1m13 0h1m3 0h1m1 0h1m21 0h1m1 0h1m36 0h1m3 0h1m100 0h2m17 0h3m10 0h2m36 0h5m10 0h2m28 0h3m5 0h3m-362 1h1m55 0h1m25 0h1m9 0h1m4 0h1m41 0h1m25 0h2m7 0h2m62 0h2m1 0h2m21 0h2m33 0h2m53 0h3m-366 1h1m30 0h1m4 0h1m3 0h1m33 0h1m20 0h1m15 0h2m128 0h2m43 0h2m4 0h2m41 0h2m23 0h6m-291 1h1m9 0h1m16 0h1m65 0h2m9 0h1m65 0h2m7 0h2m13 0h2m103 0h5m-376 1h1m34 0h1m29 0h1m5 0h1m20 0h1m5 0h1m52 0h2m94 0h2m31 0h3m69 0h5m6 0h2m-361 1h1m12 0h1m2 0h1m3 0h1m1 0h1m4 0h1m7 0h1m31 0h1m9 0h1m16 0h1m51 0h1m93 0h2m1 0h2m19 0h2m21 0h3m11 0h2m53 0h3m8 0h2m-367 1h1m3 0h2m29 0h1m14 0h1m14 0h1m25 0h1m7 0h1m21 0h2m3 0h1m5 0h2m1 0h1m29 0h2m26 0h2m3 0h2m14 0h1m17 0h2m2 0h2m2 0h1m23 0h2m28 0h3m26 0h3m15 0h2m14 0h2m8 0h3m-345 1h2m7 0h1m28 0h3m9 0h1m10 0h1m3 0h1m1 0h3m101 0h2m49 0h2m2 0h2m26 0h2m70 0h3m5 0h3m11 0h3m-384 1h1m8 0h1m24 0h1m56 0h1m6 0h2m3 0h1m38 0h1m21 0h2m15 0h1m8 0h1m49 0h4m2 0h2m50 0h2m7 0h2m5 0h2m46 0h5m6 0h5m6 0h3m-363 1h1m3 0h1m2 0h1m47 0h1m11 0h1m47 0h1m19 0h1m78 0h2m8 0h1m23 0h2m28 0h3m11 0h3m2 0h3m43 0h3m11 0h3m-373 1h1m7 0h1m22 0h1m27 0h1m2 0h1m20 0h1m6 0h2m13 0h1m34 0h1m6 0h1m17 0h2m10 0h2m6 0h2m42 0h2m2 0h2m3 0h2m17 0h2m37 0h2m15 0h2m49 0h6m-370 1h1m6 0h1m6 0h1m44 0h1m2 0h1m3 0h1m19 0h1m83 0h1m3 0h2m16 0h1m5 0h2m5 0h2m33 0h6m9 0h8m6 0h2m7 0h2m55 0h3m18 0h3m3 0h2m9 0h3m-386 1h1m12 0h1m5 0h2m33 0h1m5 0h1m1 0h1m4 0h1m10 0h1m26 0h1m25 0h1m10 0h1m19 0h1m2 0h1m41 0h1m22 0h1m10 0h2m5 0h2m36 0h2m50 0h2m18 0h3m3 0h2m8 0h3m-384 1h1m12 0h1m5 0h1m11 0h1m39 0h1m36 0h1m5 0h1m8 0h1m70 0h2m50 0h2m2 0h2m20 0h2m71 0h2m34 0h3m-368 1h1m8 0h2m18 0h1m23 0h1m2 0h1m6 0h1m19 0h1m5 0h1m28 0h1m98 0h2m83 0h2m45 0h3m22 0h3m-367 1h1m5 0h1m20 0h1m27 0h1m2 0h2m14 0h1m3 0h1m4 0h1m44 0h1m55 0h2m66 0h2m88 0h3m10 0h3m3 0h3m-383 1h1m8 0h2m5 0h1m30 0h2m8 0h1m32 0h1m2 0h1m5 0h1m5 0h1m35 0h1m9 0h1m43 0h2m95 0h3m88 0h3m-376 1h1m15 0h1m14 0h1m22 0h1m3 0h1m8 0h1m9 0h1m2 0h1m2 0h1m5 0h2m33 0h2m38 0h1m9 0h2m40 0h2m13 0h4m3 0h2m10 0h2m22 0h2m47 0h2m23 0h3m3 0h2m8 0h3m-343 1h1m10 0h1m2 0h1m17 0h1m6 0h1m19 0h2m10 0h1m22 0h2m15 0h1m22 0h1m59 0h2m20 0h2m15 0h4m64 0h3m2 0h3m-335 1h1m32 0h1m4 0h1m8 0h1m54 0h1m128 0h8m76 0h2m41 0h3m14 0h3m-391 1h1m1 0h1m3 0h1m1 0h1m10 0h1m30 0h1m26 0h2m4 0h1m10 0h1m25 0h1m39 0h2m55 0h2m17 0h2m23 0h2m13 0h2m19 0h3m53 0h2m-356 1h1m5 0h1m5 0h1m26 0h1m27 0h1m10 0h1m58 0h1m66 0h2m39 0h4m38 0h3m36 0h3m-320 1h1m1 0h2m2 0h1m94 0h1m72 0h1m63 0h2m15 0h2m5 0h2m4 0h2m11 0h2m4 0h2m56 0h5m11 0h2m6 0h2m-343 1h1m38 0h1m8 0h1m6 0h1m12 0h1m32 0h1m57 0h2m53 0h2m5 0h2m32 0h2m57 0h3m-338 1h1m61 0h1m4 0h1m2 0h1m16 0h1m15 0h1m33 0h1m15 0h2m18 0h1m59 0h2m7 0h2m6 0h2m7 0h2m19 0h2m69 0h3m10 0h3m-386 1h1m1 0h1m9 0h1m2 0h1m54 0h1m5 0h1m4 0h1m3 0h1m13 0h1m23 0h1m15 0h1m7 0h1m4 0h2m5 0h1m43 0h1m74 0h2m15 0h2m2 0h2m56 0h2m8 0h6m5 0h3m-378 1h1m4 0h1m4 0h1m10 0h1m7 0h1m21 0h1m40 0h1m3 0h1m3 0h1m4 0h2m37 0h1m47 0h1m126 0h2m5 0h3m-284 1h1m4 0h1m28 0h1m8 0h1m5 0h1m12 0h1m52 0h1m10 0h1m41 0h1m35 0h2m3 0h4m15 0h2m79 0h2m11 0h3m5 0h3m-361 1h1m4 0h1m3 0h1m10 0h1m1 0h1m6 0h1m31 0h1m1 0h1m4 0h1m10 0h2m15 0h1m7 0h1m34 0h1m21 0h3m2 0h1m22 0h2m3 0h2m10 0h2m26 0h2m22 0h2m19 0h7m14 0h2m45 0h3m8 0h3m-344 1h1m22 0h1m19 0h1m11 0h1m6 0h1m56 0h1m30 0h2m65 0h2m1 0h2m15 0h2m4 0h2m2 0h2m89 0h3m-371 1h1m36 0h1m8 0h1m45 0h1m3 0h1m6 0h1m4 0h1m25 0h1m45 0h2m34 0h1m28 0h2m3 0h2m85 0h3m34 0h2m-383 1h1m11 0h1m9 0h1m37 0h1m4 0h1m32 0h1m16 0h1m20 0h1m13 0h1m9 0h1m38 0h2m66 0h2m9 0h2m17 0h2m11 0h5m39 0h3m-346 1h2m14 0h2m40 0h1m11 0h1m5 0h1m11 0h1m22 0h1m75 0h1m5 0h2m3 0h2m45 0h3m23 0h2m48 0h2m55 0h6m-383 1h1m17 0h1m7 0h1m9 0h1m19 0h1m18 0h1m11 0h1m15 0h1m2 0h1m65 0h2m42 0h2m16 0h2m58 0h2m7 0h2m12 0h3m49 0h2m-362 1h1m6 0h1m7 0h1m17 0h1m10 0h1m33 0h1m2 0h1m2 0h1m19 0h1m38 0h2m14 0h1m6 0h2m51 0h2m57 0h2m-294 1h1m6 0h1m7 0h2m74 0h1m11 0h1m25 0h1m9 0h1m33 0h1m23 0h2m55 0h2m2 0h4m109 0h3m-375 1h1m52 0h1m47 0h1m1 0h1m44 0h1m5 0h1m34 0h1m10 0h1m19 0h2m20 0h2m63 0h2m12 0h2m33 0h3m5 0h3m19 0h3m-388 1h1m2 0h1m49 0h1m10 0h1m36 0h2m7 0h1m43 0h2m8 0h1m14 0h1m29 0h1m31 0h2m107 0h2m8 0h3m19 0h3m-303 1h1m9 0h1m14 0h1m31 0h1m107 0h3m6 0h2m13 0h2m26 0h2m62 0h5m-327 1h1m3 0h1m5 0h1m16 0h1m10 0h1m16 0h1m4 0h1m17 0h1m20 0h1m50 0h1m12 0h1m14 0h2m20 0h2m26 0h6m57 0h3m15 0h2m-356 1h1m14 0h1m18 0h1m61 0h1m8 0h1m1 0h2m1 0h1m20 0h1m61 0h2m13 0h1m12 0h2m67 0h2m75 0h3m-368 1h1m11 0h1m37 0h1m25 0h1m1 0h1m18 0h1m19 0h2m13 0h3m2 0h1m21 0h2m1 0h1m7 0h2m73 0h2m2 0h2m7 0h2m48 0h2m55 0h3m-373 1h1m27 0h1m11 0h1m11 0h1m1 0h1m7 0h1m19 0h1m3 0h1m12 0h1m10 0h1m24 0h1m1 0h2m20 0h1m4 0h2m9 0h2m107 0h2m48 0h5m18 0h2m8 0h3m-363 1h1m6 0h1m13 0h1m6 0h1m35 0h2m6 0h1m1 0h1m17 0h1m13 0h1m2 0h1m23 0h2m17 0h1m29 0h1m58 0h2m9 0h4m11 0h2m14 0h3m31 0h3m30 0h2m11 0h3m8 0h2m-373 1h1m4 0h1m5 0h1m22 0h1m36 0h2m16 0h1m14 0h1m5 0h2m53 0h2m80 0h2m2 0h2m47 0h5m-300 1h1m19 0h1m29 0h1m23 0h1m2 0h1m15 0h1m3 0h1m30 0h2m64 0h2m50 0h2m94 0h2m11 0h3m8 0h5m-380 1h2m10 0h1m19 0h1m5 0h1m9 0h1m9 0h1m4 0h2m11 0h1m4 0h1m11 0h1m3 0h1m3 0h1m35 0h2m3 0h2m48 0h1m2 0h2m51 0h2m37 0h2m39 0h3m33 0h3m-366 1h1m7 0h1m2 0h1m19 0h1m18 0h1m24 0h1m3 0h1m10 0h1m1 0h1m8 0h1m2 0h1m60 0h2m27 0h2m6 0h2m37 0h2m2 0h2m68 0h2m-315 1h1m33 0h1m28 0h1m7 0h2m26 0h1m23 0h1m44 0h1m15 0h2m12 0h2m2 0h1m5 0h2m123 0h2m-343 1h1m13 0h1m3 0h1m1 0h1m5 0h1m17 0h1m24 0h1m10 0h2m8 0h1m2 0h1m1 0h1m2 0h1m7 0h1m78 0h1m89 0h2m12 0h3m17 0h3m31 0h3m28 0h3m-348 1h1m45 0h2m3 0h1m53 0h1m7 0h2m36 0h2m12 0h3m14 0h2m60 0h2m97 0h2m17 0h3m-330 1h1m14 0h1m3 0h1m1 0h1m31 0h1m37 0h1m67 0h2m26 0h2m61 0h2m5 0h2m23 0h2m13 0h3m5 0h3m13 0h3m-380 1h1m32 0h1m38 0h1m30 0h1m6 0h1m27 0h3m71 0h2m23 0h2m2 0h6m5 0h2m47 0h3m49 0h3m2 0h3m13 0h3m-367 1h1m1 0h1m31 0h1m25 0h1m12 0h1m6 0h1m61 0h2m85 0h2m11 0h2m129 0h3m-389 1h1m31 0h1m5 0h1m3 0h1m1 0h1m29 0h2m16 0h1m5 0h1m29 0h1m19 0h1m12 0h1m101 0h2m7 0h2m33 0h2m71 0h3m-389 1h1m9 0h1m3 0h1m2 0h1m42 0h1m8 0h1m20 0h1m1 0h1m6 0h1m34 0h1m1 0h1m4 0h1m15 0h2m34 0h2m55 0h2m24 0h4m2 0h2m43 0h2m8 0h2m47 0h3m-360 1h1m34 0h1m18 0h1m8 0h1m14 0h1m40 0h2m17 0h1m46 0h2m36 0h2m22 0h2m95 0h2m-364 1h1m48 0h1m23 0h2m6 0h1m13 0h1m53 0h1m2 0h1m4 0h2m5 0h2m24 0h2m58 0h2m32 0h2m84 0h2m6 0h3m-378 1h1m3 0h2m51 0h1m19 0h1m2 0h1m13 0h1m3 0h1m2 0h1m2 0h1m36 0h1m21 0h1m102 0h2m2 0h2m20 0h2m62 0h3m-292 1h1m2 0h1m23 0h1m32 0h1m17 0h1m36 0h2m23 0h2m19 0h2m13 0h2m10 0h2m44 0h7m45 0h3m11 0h2m-384 1h1m19 0h1m27 0h1m2 0h1m38 0h1m12 0h1m154 0h2m15 0h4m44 0h2m3 0h2m3 0h2m3 0h2m15 0h5m3 0h3m10 0h3m-355 1h1m1 0h1m18 0h1m10 0h1m25 0h1m10 0h1m44 0h2m11 0h1m108 0h2m6 0h2m85 0h5m24 0h3m-377 1h1m2 0h1m10 0h1m10 0h1m13 0h1m10 0h1m10 0h1m27 0h2m3 0h1m53 0h2m2 0h2m18 0h2m54 0h2m1 0h2m36 0h2m2 0h2m15 0h2m14 0h5m22 0h2m10 0h3m-343 1h1m4 0h1m2 0h1m4 0h1m40 0h1m5 0h1m6 0h1m23 0h1m4 0h1m37 0h2m46 0h2m65 0h2m17 0h2m60 0h3m-346 1h1m7 0h1m9 0h1m8 0h1m19 0h1m32 0h1m17 0h1m2 0h1m6 0h1m30 0h1m105 0h2m4 0h2m2 0h1m2 0h2m21 0h2m91 0h8m-380 1h2m20 0h1m2 0h1m3 0h1m17 0h1m9 0h1m26 0h2m25 0h1m139 0h2m3 0h2m19 0h2m13 0h2m70 0h3m-367 1h1m18 0h1m1 0h1m26 0h1m8 0h1m7 0h1m12 0h1m9 0h1m17 0h2m5 0h1m8 0h1m34 0h1m62 0h1m37 0h4m15 0h2m2 0h2m20 0h2m12 0h2m17 0h3m23 0h2m3 0h3m10 0h3m-377 1h1m4 0h1m21 0h1m33 0h2m10 0h1m23 0h1m1 0h2m15 0h1m2 0h1m1 0h2m45 0h1m8 0h1m91 0h2m64 0h3m42 0h3m-378 1h1m15 0h1m18 0h1m12 0h1m34 0h1m10 0h1m4 0h1m6 0h2m28 0h1m79 0h1m36 0h2m24 0h2m25 0h4m33 0h2m24 0h3m-377 1h1m31 0h1m53 0h1m34 0h2m74 0h1m17 0h2m26 0h2m30 0h2m29 0h2m7 0h3m27 0h3m-328 1h1m18 0h1m6 0h1m71 0h1m17 0h1m4 0h1m19 0h2m12 0h2m44 0h1m136 0h3m-334 1h1m15 0h1m16 0h1m14 0h1m30 0h1m31 0h1m56 0h2m6 0h2m14 0h2m18 0h2m15 0h2m15 0h2m6 0h5m2 0h2m14 0h2m32 0h2m-266 1h1m15 0h1m16 0h1m37 0h1m16 0h1m58 0h1m79 0h3m68 0h5m-380 1h1m10 0h1m4 0h1m30 0h1m3 0h1m11 0h1m31 0h1m12 0h1m2 0h2m22 0h1m95 0h2m18 0h2m25 0h2m20 0h2m26 0h3m38 0h3m3 0h2m3 0h3m-374 1h1m46 0h2m17 0h1m3 0h1m13 0h1m8 0h1m24 0h1m13 0h1m76 0h2m22 0h2m7 0h4m23 0h2m53 0h3m-339 1h1m23 0h1m2 0h1m12 0h1m9 0h1m27 0h1m6 0h1m19 0h1m1 0h2m25 0h2m91 0h1m77 0h2m37 0h2m8 0h2m8 0h6m5 0h3m-381 1h1m30 0h1m74 0h1m1 0h1m13 0h1m33 0h1m64 0h2m31 0h7m34 0h2m70 0h3m5 0h3m3 0h5m-303 1h1m3 0h1m1 0h1m6 0h1m2 0h1m12 0h2m25 0h1m49 0h1m27 0h2m35 0h2m1 0h4m81 0h2m29 0h2m3 0h3m-331 1h1m4 0h1m19 0h1m32 0h1m15 0h1m7 0h1m121 0h2m1 0h2m31 0h3m27 0h2m48 0h3m-326 1h1m6 0h1m26 0h1m7 0h1m7 0h1m1 0h1m40 0h1m113 0h2m22 0h2m90 0h3m-331 1h1m3 0h1m46 0h1m21 0h1m16 0h1m68 0h2m75 0h2m33 0h2m5 0h2m64 0h3m-362 1h1m16 0h1m54 0h1m3 0h1m4 0h1m59 0h2m11 0h2m26 0h3m36 0h2m7 0h2m47 0h2m7 0h2m12 0h3m17 0h3m5 0h5m27 0h3m-370 1h1m1 0h1m9 0h1m1 0h1m34 0h1m10 0h1m16 0h1m9 0h1m3 0h2m24 0h1m79 0h2m55 0h2m92 0h3m8 0h5m-379 1h1m4 0h1m1 0h1m6 0h1m22 0h1m1 0h1m4 0h1m2 0h1m3 0h1m27 0h1m2 0h1m16 0h2m1 0h1m1 0h1m40 0h2m24 0h2m7 0h2m9 0h1m5 0h2m44 0h4m5 0h2m17 0h4m45 0h2m41 0h3m-345 1h1m6 0h1m1 0h1m60 0h1m3 0h1m6 0h1m27 0h2m77 0h1m35 0h2m22 0h2m15 0h2m18 0h2m58 0h2m8 0h3m-386 1h1m8 0h1m10 0h1m25 0h1m5 0h1m24 0h1m10 0h1m27 0h1m76 0h2m11 0h1m108 0h5m53 0h2m6 0h5m-368 1h1m49 0h1m19 0h1m17 0h1m4 0h1m15 0h1m20 0h2m48 0h3m47 0h2m51 0h3m16 0h2m32 0h3m16 0h2m14 0h3m-365 1h1m7 0h1m1 0h1m43 0h1m28 0h1m31 0h1m7 0h1m33 0h2m1 0h2m35 0h2m22 0h4m5 0h2m8 0h2m11 0h2m28 0h3m2 0h2m3 0h2m48 0h3m2 0h3m5 0h3m6 0h3m-382 1h1m7 0h1m62 0h1m2 0h1m6 0h1m2 0h1m3 0h1m6 0h2m7 0h1m52 0h1m30 0h2m20 0h1m28 0h2m3 0h2m8 0h2m53 0h2m43 0h3m-336 1h1m4 0h1m7 0h1m23 0h1m9 0h2m3 0h1m12 0h1m13 0h1m36 0h1m30 0h2m6 0h1m5 0h1m5 0h2m8 0h1m2 0h2m3 0h2m29 0h2m4 0h1m2 0h2m23 0h2m24 0h3m44 0h2m11 0h3m16 0h3m-386 1h1m13 0h1m7 0h2m69 0h1m9 0h1m36 0h1m3 0h2m20 0h2m1 0h2m58 0h2m9 0h2m30 0h4m31 0h2m34 0h3m5 0h2m8 0h6m-369 1h1m31 0h1m44 0h1m17 0h1m1 0h2m5 0h1m2 0h1m24 0h1m24 0h2m9 0h2m3 0h1m18 0h2m54 0h2m26 0h2m17 0h2m12 0h2m5 0h2m5 0h2m-320 1h1m5 0h2m22 0h1m26 0h1m10 0h1m16 0h1m4 0h2m8 0h1m5 0h1m32 0h2m33 0h1m14 0h1m7 0h1m14 0h2m3 0h4m20 0h2m28 0h2m8 0h3m22 0h2m53 0h3m10 0h6m-376 1h1m11 0h1m26 0h1m13 0h1m15 0h1m3 0h1m11 0h1m12 0h1m91 0h3m10 0h1m59 0h2m15 0h2m42 0h2m5 0h8m29 0h2m-380 1h1m2 0h1m11 0h1m9 0h1m12 0h1m3 0h1m14 0h1m20 0h1m20 0h1m5 0h1m10 0h1m48 0h2m51 0h2m90 0h2m42 0h2m8 0h3m5 0h3m3 0h2m-364 1h1m7 0h1m70 0h2m41 0h1m4 0h1m23 0h1m45 0h1m37 0h2m3 0h2m6 0h2m9 0h4m8 0h3m6 0h2m56 0h2m-350 1h1m13 0h1m3 0h1m27 0h1m6 0h1m19 0h1m8 0h1m7 0h1m63 0h1m6 0h1m68 0h1m8 0h2m9 0h2m15 0h2m37 0h2m3 0h2m5 0h2m49 0h3m-300 1h1m30 0h1m43 0h1m93 0h2m36 0h2m11 0h3m20 0h3m12 0h3m44 0h3m3 0h3m-377 1h1m19 0h1m1 0h1m12 0h1m7 0h1m10 0h1m11 0h1m10 0h1m3 0h1m8 0h1m34 0h2m19 0h2m24 0h2m17 0h2m41 0h2m9 0h4m13 0h2m38 0h2m-319 1h1m6 0h1m1 0h1m44 0h1m39 0h1m1 0h1m6 0h1m48 0h1m4 0h1m25 0h1m8 0h1m56 0h2m24 0h4m93 0h3m14 0h3m-395 1h1m2 0h1m5 0h1m10 0h1m32 0h1m11 0h1m35 0h1m27 0h1m10 0h1m23 0h2m17 0h1m60 0h2m8 0h2m43 0h2m-278 1h1m2 0h1m14 0h1m44 0h1m12 0h1m6 0h1m1 0h1m7 0h1m140 0h4m61 0h2m49 0h2m17 0h3m-395 1h1m71 0h1m8 0h1m17 0h1m8 0h1m14 0h1m85 0h2m46 0h2m17 0h2m17 0h2m16 0h2m22 0h2m31 0h3m-363 1h1m6 0h1m81 0h1m2 0h1m5 0h1m28 0h2m67 0h1m52 0h2m19 0h2m-279 1h1m6 0h1m4 0h1m12 0h1m42 0h1m9 0h1m17 0h1m15 0h1m3 0h1m14 0h1m6 0h1m8 0h1m21 0h2m45 0h2m31 0h2m22 0h2m12 0h3m44 0h2m15 0h5m-354 1h1m3 0h1m6 0h1m45 0h1m31 0h1m4 0h1m8 0h1m24 0h1m82 0h1m35 0h4m76 0h2m33 0h6m-308 1h1m43 0h1m6 0h1m12 0h1m31 0h2m4 0h1m13 0h2m56 0h1m36 0h2m-271 1h1m40 0h2m36 0h1m12 0h1m12 0h1m14 0h1m11 0h1m21 0h2m94 0h2m2 0h2m2 0h2m21 0h2m77 0h3m11 0h5m-362 1h1m34 0h1m32 0h1m6 0h1m22 0h1m10 0h1m120 0h2m11 0h2m9 0h2m15 0h2m4 0h3m38 0h2m21 0h5m11 0h2m-377 1h1m7 0h1m31 0h1m23 0h2m27 0h1m10 0h1m3 0h1m1 0h1m24 0h1m21 0h1m2 0h1m3 0h1m3 0h1m49 0h2m41 0h2m13 0h2m91 0h3m-369 1h1m40 0h3m3 0h1m5 0h1m19 0h1m18 0h1m6 0h1m32 0h1m8 0h1m5 0h1m52 0h2m79 0h3m64 0h2m11 0h3m-358 1h2m17 0h1m19 0h1m5 0h1m41 0h1m10 0h1m19 0h1m26 0h3m1 0h2m91 0h2m36 0h2m-274 1h1m28 0h1m28 0h1m19 0h1m6 0h1m58 0h1m30 0h1m62 0h2m17 0h2m52 0h3m38 0h3m-379 1h1m22 0h1m50 0h1m4 0h1m3 0h1m16 0h1m8 0h1m34 0h2m2 0h1m11 0h1m17 0h1m20 0h1m77 0h2m2 0h2m31 0h2m27 0h2m23 0h6m-353 1h1m1 0h1m4 0h1m5 0h1m1 0h1m12 0h1m3 0h1m4 0h1m23 0h1m4 0h1m16 0h1m11 0h1m27 0h2m39 0h2m23 0h2m41 0h2m13 0h2m11 0h2m99 0h2m9 0h3m-376 1h1m6 0h2m1 0h1m6 0h2m5 0h1m10 0h1m38 0h1m15 0h3m4 0h1m79 0h2m26 0h2m31 0h2m4 0h2m108 0h2m-363 1h1m3 0h1m4 0h1m8 0h1m26 0h1m11 0h1m11 0h1m12 0h1m4 0h1m15 0h1m35 0h1m72 0h4m52 0h2m2 0h2m29 0h2m10 0h2m3 0h2m15 0h3m-340 1h1m6 0h1m27 0h1m4 0h1m14 0h1m13 0h1m5 0h1m52 0h1m2 0h2m56 0h2m58 0h2m107 0h3m10 0h3m-387 1h1m22 0h1m12 0h1m11 0h1m33 0h1m4 0h1m4 0h1m7 0h1m6 0h1m48 0h1m1 0h3m26 0h1m30 0h4m83 0h2m56 0h3m24 0h3m-377 1h1m11 0h2m11 0h1m8 0h1m49 0h1m8 0h1m7 0h1m24 0h1m15 0h2m98 0h2m10 0h2m9 0h2m33 0h2m17 0h5m-324 1h1m7 0h1m13 0h1m11 0h2m16 0h1m1 0h1m29 0h1m28 0h1m26 0h2m38 0h1m25 0h2m23 0h2m30 0h2m26 0h2m5 0h2m22 0h2m23 0h3m2 0h3m11 0h5m-368 1h1m4 0h1m15 0h1m2 0h1m12 0h1m19 0h1m24 0h1m7 0h1m11 0h2m14 0h1m3 0h1m42 0h1m6 0h2m4 0h2m37 0h2m11 0h2m11 0h2m4 0h2m2 0h3m6 0h4m36 0h2m20 0h2m15 0h3m21 0h3m-307 1h1m16 0h1m2 0h1m12 0h1m13 0h1m53 0h1m2 0h1m3 0h2m7 0h2m6 0h2m20 0h2m29 0h2m-240 1h1m46 0h1m20 0h1m11 0h1m7 0h1m1 0h2m3 0h1m14 0h1m18 0h2m4 0h1m12 0h1m38 0h1m10 0h2m27 0h2m51 0h2m26 0h2m38 0h3m11 0h2m-372 1h1m2 0h1m1 0h1m1 0h1m11 0h1m14 0h1m2 0h1m7 0h1m18 0h1m23 0h1m5 0h1m75 0h2m31 0h3m4 0h2m5 0h2m48 0h4m31 0h2m22 0h2m31 0h3m8 0h2m-379 1h1m5 0h1m18 0h1m51 0h2m36 0h1m19 0h1m2 0h1m35 0h2m26 0h1m50 0h2m40 0h2m38 0h3m-299 1h1m37 0h1m14 0h1m2 0h1m19 0h1m75 0h1m20 0h1m7 0h2m24 0h2m11 0h2m15 0h2m80 0h3m5 0h3m2 0h3m14 0h3m-394 1h1m7 0h1m8 0h1m4 0h1m6 0h2m83 0h1m13 0h1m30 0h1m11 0h2m19 0h2m59 0h2m1 0h2m31 0h3m69 0h3m2 0h6m5 0h3m-362 1h1m9 0h1m15 0h1m26 0h1m26 0h1m26 0h1m10 0h2m22 0h2m8 0h1m6 0h2m59 0h1m38 0h4m33 0h2m3 0h2m35 0h2m-351 1h1m19 0h1m17 0h1m8 0h1m13 0h1m11 0h1m59 0h1m5 0h1m2 0h1m56 0h2m2 0h1m9 0h5m16 0h2m2 0h2m4 0h2m13 0h2m55 0h3m10 0h2m31 0h5m-345 1h1m9 0h1m25 0h1m14 0h1m17 0h1m9 0h1m9 0h1m27 0h1m7 0h1m7 0h1m31 0h1m30 0h2m48 0h2m4 0h2m99 0h3m-376 1h1m13 0h1m13 0h1m7 0h1m34 0h1m4 0h1m1 0h1m10 0h1m61 0h3m29 0h3m44 0h2m2 0h2m2 0h2m-228 1h1m2 0h1m2 0h1m53 0h1m16 0h1m6 0h1m1 0h1m11 0h2m10 0h1m50 0h1m11 0h1m5 0h2m21 0h2m20 0h2m17 0h2m2 0h2m39 0h3m21 0h3m38 0h3m14 0h3m-393 1h1m26 0h1m7 0h1m14 0h1m28 0h1m8 0h1m17 0h1m23 0h1m2 0h1m27 0h1m2 0h1m20 0h2m30 0h2m31 0h2m22 0h2m15 0h2m18 0h2m5 0h2m2 0h3m10 0h2m18 0h2m-330 1h1m25 0h1m27 0h1m7 0h1m13 0h1m9 0h1m4 0h2m2 0h1m123 0h2m30 0h4m89 0h2m11 0h6m-358 1h1m7 0h1m2 0h1m1 0h1m7 0h1m6 0h1m45 0h2m38 0h2m45 0h1m13 0h2m37 0h2m4 0h3m2 0h2m45 0h2m21 0h3m5 0h2m15 0h3m13 0h3m-371 1h3m1 0h1m74 0h1m7 0h1m6 0h1m10 0h1m38 0h1m9 0h1m67 0h2m26 0h2m7 0h2m19 0h4m4 0h3m27 0h2m27 0h3m-351 1h1m22 0h1m6 0h1m17 0h1m7 0h1m4 0h1m18 0h1m17 0h1m36 0h1m11 0h2m33 0h1m3 0h2m25 0h2m36 0h2m2 0h1m19 0h6m40 0h2m33 0h2m-357 1h1m2 0h1m13 0h1m9 0h1m17 0h1m18 0h1m2 0h1m10 0h1m33 0h1m57 0h2m16 0h2m92 0h2m4 0h3m-255 1h1m12 0h1m3 0h1m26 0h1m12 0h1m2 0h1m2 0h1m8 0h1m32 0h2m61 0h1m4 0h1m34 0h2m109 0h2m8 0h3m19 0h3m-389 1h1m3 0h1m47 0h1m43 0h1m24 0h1m134 0h4m13 0h2m4 0h2m13 0h4m66 0h3m5 0h3m-360 1h1m2 0h1m19 0h1m33 0h1m5 0h1m15 0h1m12 0h1m11 0h1m103 0h2m29 0h2m4 0h2m15 0h2m2 0h2m76 0h3m5 0h3m-369 1h1m9 0h1m8 0h1m24 0h1m8 0h1m7 0h1m4 0h1m5 0h1m35 0h1m28 0h1m10 0h2m21 0h2m21 0h1m12 0h1m27 0h1m40 0h2m33 0h2m3 0h2m45 0h3m-363 1h1m79 0h1m11 0h1m8 0h1m7 0h1m12 0h1m10 0h1m2 0h2m7 0h2m38 0h1m13 0h1m71 0h2m10 0h3m77 0h3m10 0h3m-378 1h2m36 0h1m6 0h1m18 0h1m8 0h1m41 0h2m20 0h1m55 0h2m45 0h2m2 0h2m5 0h2m19 0h2m33 0h2m50 0h3m11 0h2m-384 1h1m24 0h1m9 0h1m45 0h1m18 0h1m15 0h1m3 0h1m20 0h1m65 0h1m41 0h2m11 0h2m120 0h3m3 0h3m-372 1h1m13 0h1m17 0h1m3 0h1m10 0h1m40 0h1m31 0h1m6 0h1m3 0h1m8 0h1m9 0h1m59 0h1m19 0h2m13 0h2m26 0h2m37 0h5m20 0h2m11 0h3m2 0h3m5 0h3m-374 1h1m14 0h1m21 0h1m3 0h1m7 0h1m29 0h1m7 0h1m10 0h1m14 0h1m61 0h2m1 0h2m9 0h2m49 0h2m5 0h4m81 0h3m26 0h5m8 0h3m-361 1h1m16 0h1m43 0h1m25 0h2m30 0h1m4 0h2m6 0h3m29 0h1m23 0h1m33 0h2m41 0h2m6 0h3m9 0h2m60 0h3m-355 1h1m16 0h1m4 0h1m1 0h1m22 0h1m4 0h1m18 0h1m10 0h1m2 0h1m33 0h3m16 0h2m27 0h2m67 0h2m6 0h2m7 0h2m19 0h2m23 0h2m13 0h2m15 0h3m-350 1h1m31 0h1m13 0h1m26 0h1m18 0h1m2 0h1m11 0h1m5 0h2m77 0h2m49 0h2m26 0h2m40 0h2m48 0h3m-350 1h1m33 0h1m10 0h1m12 0h1m16 0h1m7 0h1m15 0h1m36 0h1m75 0h2m26 0h2m11 0h2m2 0h4m15 0h2m77 0h3m-373 1h1m5 0h1m3 0h1m11 0h1m11 0h1m6 0h1m29 0h1m19 0h1m8 0h1m1 0h1m3 0h2m7 0h1m16 0h1m15 0h1m2 0h1m4 0h2m8 0h1m17 0h1m16 0h2m37 0h2m28 0h6m83 0h3m13 0h3m-387 1h1m11 0h1m16 0h1m7 0h1m46 0h1m15 0h1m11 0h2m11 0h1m131 0h1m51 0h2m3 0h2m34 0h3m-306 1h1m34 0h1m4 0h1m7 0h1m13 0h1m133 0h2m23 0h2m2 0h3m10 0h2m81 0h3m11 0h2m-340 1h1m2 0h1m27 0h2m29 0h1m44 0h1m106 0h2m2 0h4m17 0h2m22 0h2m36 0h3m-346 1h1m1 0h1m1 0h1m42 0h1m33 0h1m16 0h2m7 0h1m65 0h1m11 0h1m25 0h2m19 0h2m5 0h2m32 0h8m85 0h3m11 0h2m9 0h3m-381 1h1m5 0h2m20 0h1m44 0h1m11 0h1m8 0h1m3 0h1m7 0h2m17 0h1m17 0h2m31 0h3m3 0h2m73 0h3m4 0h4m15 0h4m33 0h3m20 0h2m16 0h3m-359 1h1m18 0h1m30 0h1m12 0h1m20 0h1m13 0h1m25 0h2m12 0h2m2 0h2m4 0h1m4 0h2m49 0h1m4 0h2m24 0h2m5 0h2m15 0h2m4 0h2m46 0h2m41 0h3m-376 1h1m75 0h3m3 0h1m23 0h2m40 0h1m16 0h1m33 0h2m6 0h2m12 0h3m22 0h2m2 0h2m59 0h2m50 0h2m-339 1h1m10 0h1m1 0h1m30 0h1m27 0h1m40 0h1m6 0h2m1 0h1m8 0h1m20 0h2m23 0h1m35 0h2m36 0h2m2 0h2m2 0h2m23 0h2m52 0h3m11 0h2m-382 1h1m22 0h1m2 0h1m26 0h1m3 0h1m86 0h1m26 0h2m82 0h1m6 0h2m13 0h4m17 0h2m91 0h3m-363 1h1m8 0h1m13 0h1m1 0h1m6 0h1m28 0h1m5 0h1m8 0h1m2 0h1m3 0h2m7 0h1m32 0h2m21 0h1m69 0h2m9 0h2m71 0h3m20 0h2m19 0h3m11 0h3m-394 1h1m14 0h1m12 0h1m24 0h1m12 0h1m7 0h1m6 0h1m1 0h1m22 0h1m40 0h2m10 0h1m23 0h2m9 0h1m52 0h2m26 0h2m2 0h2m4 0h2m2 0h3m49 0h2m42 0h3m-373 1h1m35 0h1m22 0h1m23 0h1m8 0h1m21 0h2m29 0h2m5 0h2m42 0h2m43 0h2m42 0h3m18 0h2m10 0h3m10 0h2m32 0h2m6 0h3m-374 1h1m57 0h1m12 0h2m17 0h1m6 0h1m38 0h1m6 0h2m24 0h2m28 0h2m4 0h3m31 0h2m10 0h2m17 0h2m30 0h2m45 0h3m3 0h5m3 0h5m-368 1h1m25 0h1m54 0h1m9 0h1m5 0h1m6 0h1m12 0h1m6 0h1m118 0h4m13 0h2m4 0h2m22 0h2m37 0h2m34 0h3m-377 1h1m52 0h1m18 0h1m17 0h1m2 0h1m11 0h1m18 0h1m13 0h1m15 0h1m14 0h2m27 0h2m2 0h1m87 0h5m-304 1h1m9 0h1m9 0h1m13 0h1m11 0h1m13 0h1m20 0h1m8 0h1m8 0h1m8 0h2m35 0h1m13 0h1m56 0h1m2 0h2m29 0h4m3 0h2m17 0h2m6 0h2m4 0h3m11 0h2m64 0h5m-366 1h1m17 0h1m13 0h1m15 0h1m20 0h1m4 0h1m24 0h1m7 0h1m15 0h1m115 0h2m7 0h2m17 0h4m19 0h2m14 0h2m22 0h3m15 0h2m24 0h3m-362 1h1m21 0h1m4 0h1m29 0h1m4 0h1m16 0h1m8 0h1m30 0h2m67 0h2m14 0h2m27 0h2m2 0h2m17 0h2m31 0h2m-301 1h1m6 0h1m10 0h2m2 0h1m43 0h1m14 0h1m15 0h1m16 0h1m6 0h1m31 0h1m10 0h2m7 0h2m37 0h2m33 0h2m94 0h2m-334 1h1m13 0h1m8 0h1m45 0h1m4 0h1m4 0h1m14 0h1m28 0h2m37 0h2m68 0h2m2 0h2m17 0h2m28 0h5m2 0h3m19 0h3m28 0h3m-373 1h1m27 0h1m5 0h1m11 0h1m3 0h1m8 0h1m5 0h1m1 0h1m37 0h1m35 0h2m13 0h1m10 0h1m18 0h1m65 0h2m7 0h2m4 0h2m7 0h4m62 0h2m39 0h3m6 0h3m-362 1h1m17 0h1m23 0h1m5 0h1m3 0h2m5 0h1m14 0h1m12 0h2m74 0h2m5 0h1m44 0h2m4 0h2m5 0h4m48 0h2m22 0h2m31 0h3m5 0h3m2 0h3m3 0h3m-385 1h1m3 0h1m1 0h1m64 0h1m2 0h1m17 0h2m59 0h1m13 0h1m6 0h2m26 0h2m46 0h2m31 0h3m51 0h3m28 0h3m8 0h3m3 0h3m-386 1h1m16 0h1m8 0h1m14 0h1m30 0h1m10 0h1m3 0h1m17 0h1m131 0h2m9 0h2m42 0h3m6 0h3m14 0h2m28 0h2m14 0h2m-333 1h1m36 0h1m2 0h1m3 0h1m38 0h2m8 0h1m7 0h2m3 0h2m45 0h3m1 0h2m11 0h2m38 0h2m5 0h2m17 0h2m10 0h3m20 0h2m5 0h2m20 0h2m21 0h2m6 0h2m-372 1h1m11 0h1m92 0h1m9 0h1m42 0h2m1 0h2m46 0h2m3 0h2m16 0h2m15 0h2m24 0h2m15 0h2m18 0h2"/>
<path stroke="#443a83" d="M87 59.5h1m7 0h1m33 0h1m16 0h1m16 0h2m7 0h1m14 0h1m6 0h1m10 0h2m12 0h2m41 0h1m73 0h2m-242 1h2m18 0h1m46 0h1m6 0h1m17 0h1m5 0h1m1 0h1m37 0h2m180 0h5m53 0h3m-383 1h1m27 0h1m37 0h1m10 0h1m9 0h1m9 0h1m45 0h1m28 0h2m189 0h3m11 0h3m-373 1h1m28 0h1m31 0h1m34 0h1m77 0h2m115 0h3m31 0h3m23 0h3m-357 1h1m14 0h1m10 0h1m7 0h1m54 0h1m6 0h1m5 0h2m75 0h1m23 0h2m25 0h2m32 0h2m13 0h2m25 0h2m-311 1h1m26 0h1m5 0h2m59 0h1m3 0h1m35 0h1m4 0h2m32 0h1m14 0h2m14 0h2m4 0h1m-138 1h1m10 0h1m6 0h1m3 0h1m1 0h1m11 0h1m2 0h1m35 0h2m18 0h2m3 0h1m130 0h3m-320 1h1m39 0h1m13 0h1m60 0h1m1 0h2m16 0h1m42 0h2m27 0h2m12 0h2m29 0h2m26 0h2m107 0h3m-374 1h1m16 0h1m36 0h1m13 0h1m12 0h1m50 0h1m146 0h2m16 0h2m40 0h2m-310 1h2m3 0h1m5 0h1m5 0h1m8 0h1m4 0h1m7 0h1m95 0h2m10 0h2m-180 1h1m18 0h1m24 0h1m16 0h1m21 0h1m20 0h1m17 0h1m181 0h2m13 0h2m18 0h2m22 0h2m-377 1h1m12 0h1m7 0h1m10 0h1m8 0h1m51 0h1m16 0h1m10 0h1m14 0h1m29 0h2m3 0h1m2 0h1m12 0h2m100 0h2m60 0h2m8 0h3m-362 1h1m13 0h1m7 0h1m25 0h1m2 0h1m3 0h1m17 0h1m14 0h1m19 0h1m2 0h1m84 0h2m10 0h1m63 0h2m2 0h2m11 0h2m-275 1h1m17 0h1m51 0h1m29 0h1m30 0h1m42 0h1m31 0h1m30 0h2m81 0h3m-347 1h1m1 0h1m25 0h1m75 0h1m66 0h1m-168 1h1m23 0h1m17 0h1m25 0h1m43 0h1m16 0h1m14 0h2m66 0h1m61 0h2m-276 1h1m14 0h1m63 0h1m71 0h1m24 0h1m23 0h2m57 0h2m67 0h2m-325 1h1m12 0h1m4 0h1m53 0h1m1 0h1m15 0h1m7 0h1m17 0h1m14 0h1m29 0h1m107 0h2m8 0h2m7 0h2m18 0h3m22 0h2m-325 1h1m20 0h1m6 0h1m12 0h1m45 0h1m3 0h1m4 0h1m24 0h1m20 0h2m-163 1h1m21 0h1m1 0h1m19 0h1m37 0h1m52 0h1m7 0h2m107 0h2m-254 1h1m6 0h1m3 0h1m4 0h1m55 0h1m51 0h2m69 0h1m8 0h2m8 0h2m3 0h2m69 0h3m15 0h2m-311 1h1m97 0h1m1 0h1m48 0h2m34 0h2m37 0h1m62 0h2m20 0h2m3 0h2m9 0h3m62 0h3m-380 1h1m5 0h2m8 0h1m48 0h1m8 0h1m27 0h1m13 0h1m35 0h2m5 0h1m160 0h2m33 0h3m19 0h3m-355 1h1m53 0h1m7 0h1m5 0h1m6 0h2m67 0h2m-155 1h1m22 0h1m47 0h1m15 0h1m34 0h1m1 0h2m17 0h1m9 0h2m18 0h2m54 0h2m78 0h2m50 0h3m-374 1h1m10 0h1m1 0h1m52 0h1m26 0h2m12 0h1m24 0h1m56 0h2m31 0h2m4 0h2m67 0h2m22 0h3m39 0h2m9 0h3m-348 1h1m2 0h1m12 0h1m20 0h1m5 0h1m19 0h1m45 0h1m13 0h1m15 0h1m39 0h2m5 0h2m11 0h2m72 0h2m32 0h3m-356 1h1m9 0h1m15 0h1m35 0h1m17 0h1m6 0h1m10 0h1m6 0h1m1 0h1m24 0h1m6 0h1m60 0h2m14 0h2m27 0h2m11 0h2m4 0h2m11 0h2m30 0h3m-304 1h1m42 0h1m16 0h1m35 0h2m2 0h1m37 0h1m23 0h1m-75 1h1m1 0h1m1 0h1m85 0h2m9 0h1m83 0h2m-253 1h1m2 0h1m1 0h1m10 0h1m48 0h1m17 0h1m150 0h2m28 0h2m-298 1h1m9 0h1m18 0h1m16 0h1m30 0h1m118 0h1m2 0h1m13 0h2m66 0h2m31 0h2m42 0h2m19 0h3m-353 1h1m5 0h1m6 0h1m6 0h1m42 0h1m7 0h1m11 0h1m1 0h1m53 0h1m13 0h2m9 0h1m16 0h2m54 0h2m28 0h2m16 0h2m22 0h2m-321 1h1m20 0h1m2 0h1m7 0h1m33 0h1m14 0h1m35 0h1m70 0h1m28 0h2m15 0h2m66 0h2m12 0h3m-298 1h1m27 0h1m8 0h1m22 0h1m1 0h2m8 0h1m2 0h1m3 0h1m68 0h2m80 0h2m-269 1h1m16 0h1m58 0h1m8 0h1m11 0h1m52 0h2m44 0h1m116 0h2m-311 1h1m22 0h1m33 0h1m28 0h1m6 0h1m5 0h1m3 0h1m1 0h1m7 0h1m20 0h1m39 0h1m11 0h1m122 0h2m3 0h2m43 0h2m25 0h3m-336 1h1m19 0h1m91 0h1m2 0h1m9 0h2m81 0h2m7 0h2m-123 1h1m60 0h1m166 0h3m-359 1h1m4 0h1m19 0h1m28 0h2m8 0h1m2 0h1m13 0h1m16 0h1m42 0h2m4 0h1m29 0h2m109 0h2m66 0h3m-358 1h1m4 0h1m54 0h2m8 0h2m34 0h1m12 0h1m4 0h2m7 0h2m83 0h2m69 0h3m47 0h3m-357 1h1m12 0h1m1 0h1m16 0h1m6 0h1m5 0h1m4 0h1m17 0h1m7 0h1m19 0h1m12 0h1m70 0h2m3 0h1m68 0h2m26 0h2m20 0h3m27 0h2m21 0h3m19 0h3m-337 1h1m39 0h1m4 0h1m99 0h1m53 0h2m45 0h2m48 0h5m-335 1h1m67 0h1m2 0h1m2 0h1m49 0h2m136 0h2m18 0h2m12 0h2m-279 1h1m66 0h2m1 0h1m29 0h2m2 0h1m19 0h1m49 0h2m21 0h2m23 0h2m7 0h2m2 0h2m35 0h2m12 0h3m5 0h2m5 0h3m34 0h2m-381 1h1m27 0h1m26 0h1m43 0h1m121 0h1m28 0h2m2 0h1m42 0h2m36 0h2m-329 1h1m28 0h1m8 0h1m21 0h1m10 0h1m7 0h1m8 0h1m3 0h1m13 0h1m94 0h1m27 0h1m82 0h2m33 0h2m11 0h3m-367 1h1m7 0h1m16 0h1m15 0h1m81 0h1m26 0h1m9 0h1m22 0h1m24 0h2m165 0h2m3 0h3m3 0h3m-383 1h1m15 0h1m16 0h1m8 0h1m6 0h1m12 0h1m14 0h2m89 0h1m17 0h1m10 0h2m77 0h2m27 0h3m12 0h2m-324 1h1m20 0h1m2 0h1m8 0h1m25 0h1m10 0h1m20 0h1m2 0h1m2 0h1m32 0h1m42 0h1m37 0h2m3 0h2m31 0h2m120 0h2m-374 1h1m48 0h1m22 0h1m27 0h1m26 0h1m19 0h1m87 0h2m8 0h2m1 0h2m34 0h2m18 0h4m-286 1h1m33 0h1m15 0h1m21 0h1m80 0h2m49 0h2m43 0h2m13 0h2m92 0h3m-244 1h2m11 0h2m7 0h1m4 0h2m157 0h3m-298 1h1m42 0h1m8 0h1m62 0h1m1 0h1m24 0h2m38 0h2m111 0h3m7 0h3m36 0h3m-376 1h1m8 0h1m25 0h1m43 0h1m9 0h1m2 0h1m16 0h1m36 0h3m18 0h1m50 0h2m107 0h2m18 0h2m-324 1h1m35 0h1m4 0h1m4 0h1m6 0h1m25 0h1m27 0h1m2 0h1m15 0h2m93 0h3m58 0h3m34 0h3m-337 1h1m7 0h1m29 0h1m22 0h1m5 0h1m3 0h1m10 0h1m81 0h2m23 0h2m12 0h1m73 0h2m-289 1h1m4 0h1m18 0h1m8 0h1m2 0h1m15 0h1m26 0h1m82 0h2m95 0h2m5 0h2m76 0h5m8 0h3m19 0h3m-389 1h1m54 0h1m11 0h1m16 0h1m2 0h1m8 0h1m4 0h2m24 0h2m188 0h2m48 0h3m-369 1h1m28 0h1m50 0h1m2 0h1m26 0h1m5 0h2m50 0h2m121 0h2m16 0h2m2 0h3m12 0h2m-299 1h1m20 0h2m11 0h1m32 0h1m6 0h2m76 0h2m27 0h1m117 0h3m-307 1h1m11 0h1m50 0h1m5 0h1m30 0h2m16 0h2m25 0h2m46 0h1m22 0h2m72 0h2m-232 1h1m2 0h1m5 0h1m16 0h1m205 0h2m23 0h2m-256 1h1m12 0h1m10 0h1m108 0h2m24 0h2m50 0h4m26 0h3m-309 1h1m73 0h1m6 0h1m88 0h1m2 0h2m83 0h2m54 0h2m-293 1h1m23 0h1m10 0h1m16 0h1m11 0h1m21 0h2m12 0h1m32 0h2m124 0h3m2 0h2m-297 1h1m38 0h1m32 0h1m2 0h1m26 0h1m211 0h3m-337 1h1m23 0h1m30 0h1m5 0h1m44 0h1m2 0h1m27 0h2m9 0h2m119 0h2m24 0h2m18 0h2m-299 1h1m12 0h1m9 0h1m49 0h1m23 0h1m12 0h1m22 0h1m46 0h1m58 0h2m36 0h2m2 0h2m14 0h2m-302 1h1m64 0h1m9 0h1m24 0h1m32 0h3m101 0h2m132 0h3m-374 1h1m49 0h1m31 0h1m47 0h1m4 0h1m10 0h3m118 0h2m31 0h2m3 0h2m-302 1h1m54 0h1m5 0h1m25 0h1m2 0h1m79 0h2m45 0h2m98 0h2m-304 1h1m10 0h1m7 0h1m26 0h1m11 0h1m12 0h1m73 0h1m14 0h1m63 0h2m54 0h2m-310 1h1m16 0h1m76 0h1m4 0h1m15 0h2m13 0h2m11 0h1m114 0h2m53 0h2m67 0h3m-363 1h1m2 0h1m10 0h1m25 0h1m18 0h1m2 0h1m7 0h1m14 0h1m1 0h1m1 0h1m13 0h1m10 0h2m5 0h1m8 0h1m77 0h2m-137 1h1m2 0h2m32 0h1m23 0h1m92 0h1m44 0h3m53 0h2m-358 1h1m40 0h1m21 0h1m16 0h1m1 0h1m33 0h1m18 0h1m111 0h2m2 0h2m66 0h4m38 0h3m-356 1h1m20 0h1m5 0h1m17 0h2m33 0h1m2 0h1m27 0h2m37 0h1m15 0h2m122 0h2m41 0h2m-335 1h1m11 0h1m5 0h1m3 0h1m14 0h1m17 0h1m34 0h1m16 0h1m44 0h2m104 0h2m44 0h2m12 0h2m-296 1h1m11 0h1m2 0h1m20 0h1m30 0h1m15 0h1m63 0h1m28 0h2m3 0h2m43 0h2m56 0h3m14 0h3m-303 1h1m26 0h1m8 0h1m11 0h1m26 0h1m4 0h1m3 0h1m7 0h1m41 0h2m39 0h2m-192 1h1m17 0h1m34 0h1m8 0h1m52 0h1m28 0h1m25 0h1m19 0h2m10 0h2m87 0h3m9 0h2m25 0h3m-333 1h1m37 0h1m29 0h1m13 0h1m8 0h1m88 0h2m15 0h1m14 0h2m77 0h3m9 0h2m-322 1h1m34 0h1m42 0h1m18 0h1m5 0h1m41 0h3m30 0h1m15 0h2m71 0h2m3 0h2m2 0h2m30 0h3m46 0h3m-344 1h1m31 0h1m24 0h1m3 0h1m2 0h1m8 0h1m3 0h1m3 0h1m8 0h1m2 0h1m29 0h1m1 0h2m3 0h2m34 0h2m15 0h2m8 0h1m5 0h2m91 0h3m-285 1h1m20 0h1m44 0h1m1 0h1m5 0h1m4 0h1m8 0h1m1 0h1m7 0h1m2 0h1m16 0h1m76 0h1m35 0h2m-261 1h1m19 0h1m36 0h1m30 0h1m21 0h1m3 0h1m51 0h1m5 0h2m21 0h1m20 0h1m29 0h4m28 0h2m2 0h2m11 0h2m-267 1h1m53 0h1m4 0h1m11 0h1m21 0h1m8 0h1m23 0h3m33 0h1m53 0h2m122 0h3m10 0h3m-362 1h1m46 0h1m4 0h1m6 0h1m6 0h1m22 0h1m-72 1h1m44 0h1m16 0h1m63 0h2m14 0h2m12 0h1m24 0h1m159 0h3m-359 1h1m22 0h1m27 0h1m3 0h1m23 0h1m19 0h1m40 0h1m49 0h2m14 0h2m71 0h2m9 0h3m45 0h2m25 0h3m-389 1h1m4 0h1m10 0h2m17 0h1m4 0h1m70 0h1m22 0h1m10 0h1m29 0h2m26 0h2m13 0h2m54 0h2m50 0h2m-300 1h1m1 0h1m23 0h1m3 0h1m28 0h1m14 0h1m34 0h2m14 0h1m20 0h1m58 0h1m27 0h2m120 0h3m-351 1h1m1 0h1m55 0h1m2 0h1m38 0h1m19 0h2m48 0h1m42 0h2m64 0h2m-213 1h1m9 0h1m58 0h2m36 0h1m35 0h2m26 0h2m42 0h3m-308 1h1m1 0h1m27 0h1m49 0h1m10 0h1m70 0h2m15 0h1m31 0h1m26 0h2m80 0h3m2 0h3m-347 1h1m28 0h1m13 0h1m9 0h1m29 0h1m4 0h1m6 0h1m3 0h1m14 0h1m21 0h1m9 0h1m4 0h1m147 0h2m91 0h3m-389 1h1m31 0h1m7 0h1m5 0h1m87 0h1m75 0h1m93 0h5m32 0h2m8 0h2m-329 1h1m40 0h1m9 0h1m6 0h1m7 0h1m2 0h1m9 0h1m37 0h1m22 0h1m38 0h2m65 0h2m71 0h3m40 0h3m-366 1h1m12 0h2m99 0h2m19 0h2m30 0h2m115 0h2m-301 1h1m71 0h1m1 0h1m10 0h1m103 0h1m57 0h2m15 0h2m19 0h2m88 0h3m-357 1h1m13 0h1m17 0h1m28 0h1m19 0h1m16 0h2m2 0h2m8 0h1m9 0h2m27 0h1m9 0h2m52 0h2m85 0h2m13 0h2m29 0h3m3 0h3m-364 1h1m7 0h1m11 0h1m4 0h1m29 0h1m25 0h1m49 0h1m4 0h2m57 0h1m22 0h2m11 0h2m-204 1h1m23 0h1m14 0h1m1 0h1m7 0h1m36 0h2m5 0h1m73 0h2m35 0h2m69 0h2m3 0h2m5 0h3m-341 1h1m16 0h1m12 0h1m9 0h1m27 0h1m7 0h1m28 0h1m80 0h1m14 0h2m10 0h2m16 0h3m10 0h2m115 0h3m-360 1h1m55 0h1m11 0h1m16 0h1m19 0h1m6 0h1m44 0h1m101 0h2m13 0h2m103 0h3m-382 1h1m19 0h1m13 0h1m39 0h1m14 0h1m14 0h1m20 0h1m34 0h1m24 0h1m101 0h2m-281 1h1m67 0h2m11 0h1m5 0h1m3 0h1m58 0h2m56 0h2m7 0h2m62 0h2m9 0h3m7 0h2m-291 1h1m27 0h2m13 0h1m6 0h1m17 0h1m9 0h1m17 0h1m5 0h1m9 0h2m18 0h1m10 0h1m26 0h2m11 0h2m106 0h2m-292 1h1m13 0h1m39 0h1m29 0h2m16 0h1m4 0h1m6 0h1m64 0h1m72 0h2m76 0h3m-314 1h1m5 0h1m25 0h1m27 0h1m38 0h1m97 0h2m70 0h2m-322 1h1m6 0h1m7 0h1m48 0h1m34 0h1m51 0h1m161 0h2m58 0h2m-372 1h1m8 0h1m4 0h1m51 0h1m45 0h1m17 0h1m21 0h1m18 0h1m53 0h2m14 0h2m2 0h2m54 0h2m51 0h2m27 0h3m-375 1h1m5 0h1m67 0h1m10 0h1m36 0h1m33 0h1m81 0h2m9 0h2m48 0h2m2 0h3m47 0h3m-361 1h1m9 0h1m1 0h1m13 0h1m46 0h1m8 0h1m6 0h1m10 0h1m7 0h1m15 0h1m23 0h2m21 0h1m9 0h2m107 0h2m16 0h3m17 0h2m26 0h2m-346 1h1m63 0h2m21 0h1m86 0h3m39 0h2m100 0h3m47 0h3m-353 1h1m14 0h1m23 0h1m71 0h1m39 0h2m17 0h2m52 0h2m19 0h2m71 0h2m-350 1h1m17 0h1m31 0h1m26 0h1m22 0h1m14 0h1m21 0h1m5 0h2m20 0h1m3 0h3m134 0h2m3 0h2m70 0h3m-374 1h1m7 0h1m1 0h1m49 0h1m12 0h1m13 0h1m50 0h1m35 0h1m161 0h2m-350 1h1m13 0h1m12 0h1m5 0h1m45 0h1m10 0h1m5 0h1m2 0h1m3 0h1m37 0h1m116 0h2m85 0h3m10 0h3m-272 1h1m31 0h2m22 0h1m38 0h2m45 0h2m-215 1h1m4 0h1m91 0h1m23 0h2m6 0h1m153 0h3m2 0h2m58 0h3m-369 1h2m54 0h1m4 0h1m10 0h1m11 0h1m41 0h1m31 0h1m22 0h2m86 0h2m4 0h2m-274 1h1m27 0h1m51 0h1m6 0h1m9 0h1m5 0h1m12 0h1m83 0h2m34 0h2m117 0h3m-284 1h1m12 0h1m1 0h1m8 0h1m137 0h2m11 0h2m8 0h3m4 0h2m90 0h3m13 0h3m-373 1h1m11 0h1m5 0h1m37 0h1m17 0h2m1 0h2m7 0h1m4 0h2m30 0h1m95 0h2m11 0h2m45 0h2m78 0h3m-334 1h1m65 0h1m5 0h1m178 0h2m45 0h2m45 0h3m-340 1h1m49 0h1m15 0h1m41 0h1m7 0h2m20 0h2m52 0h4m11 0h2m106 0h3m22 0h3m-379 1h1m59 0h1m22 0h1m9 0h1m4 0h1m106 0h2m-172 1h1m29 0h1m6 0h1m20 0h1m74 0h2m85 0h3m85 0h3m-360 1h1m54 0h1m33 0h1m7 0h1m12 0h1m28 0h1m8 0h1m169 0h2m48 0h3m-364 1h1m11 0h1m1 0h1m9 0h1m36 0h1m7 0h1m26 0h1m14 0h2m166 0h2m5 0h2m9 0h2m78 0h3m-354 1h1m103 0h1m28 0h2m11 0h2m16 0h2m23 0h2m5 0h2m6 0h1m2 0h2m36 0h2m31 0h2m77 0h3m-369 1h1m8 0h1m57 0h1m14 0h1m46 0h1m1 0h2m78 0h2m65 0h4m-284 1h1m3 0h1m1 0h1m29 0h1m15 0h1m22 0h1m1 0h1m4 0h1m9 0h1m47 0h2m12 0h2m29 0h2m46 0h2m10 0h2m11 0h2m26 0h3m7 0h2m-298 1h1m57 0h1m16 0h1m10 0h1m2 0h1m56 0h1m40 0h1m47 0h2m106 0h3m-359 1h1m14 0h1m1 0h1m6 0h1m46 0h1m18 0h1m4 0h1m60 0h1m12 0h1m18 0h2m119 0h2m56 0h3m-360 1h1m35 0h1m35 0h1m20 0h1m12 0h1m58 0h1m36 0h1m123 0h2m5 0h3m21 0h3m-366 1h1m22 0h2m34 0h1m6 0h1m3 0h1m5 0h1m3 0h1m3 0h1m10 0h1m16 0h1m-101 1h1m12 0h1m11 0h1m46 0h1m26 0h1m14 0h1m22 0h2m8 0h1m14 0h1m50 0h2m4 0h2m135 0h3m-365 1h1m15 0h1m12 0h1m11 0h1m20 0h1m12 0h1m2 0h1m8 0h1m3 0h1m10 0h1m42 0h1m20 0h2m138 0h2m-320 1h1m29 0h1m17 0h1m50 0h1m6 0h1m35 0h1m34 0h1m17 0h2m15 0h2m33 0h1m53 0h3m-257 1h1m48 0h1m3 0h1m1 0h1m5 0h1m160 0h2m24 0h2m16 0h2m49 0h2m-363 1h1m5 0h1m28 0h1m2 0h1m35 0h2m10 0h1m18 0h1m23 0h1m29 0h1m34 0h1m9 0h1m-196 1h1m30 0h1m49 0h1m21 0h1m18 0h2m11 0h1m38 0h1m16 0h2m34 0h2m26 0h2m42 0h2m30 0h2m-333 1h1m62 0h1m7 0h1m6 0h1m37 0h2m48 0h2m173 0h3m2 0h6m-338 1h1m20 0h1m60 0h1m19 0h2m20 0h1m118 0h2m35 0h2m40 0h2m-291 1h1m19 0h1m56 0h1m1 0h1m30 0h2m142 0h2m-310 1h1m40 0h1m42 0h2m3 0h1m3 0h1m4 0h1m35 0h2m21 0h1m56 0h2m71 0h3m9 0h4m17 0h3m17 0h3m-322 1h1m5 0h1m4 0h1m15 0h1m13 0h1m4 0h1m93 0h2m-112 1h1m21 0h1m4 0h1m5 0h1m31 0h2m18 0h1m5 0h1m41 0h1m-146 1h1m17 0h1m9 0h1m6 0h1m17 0h1m105 0h2m9 0h1m35 0h2m61 0h2m59 0h3m-294 1h1m1 0h1m4 0h1m37 0h2m8 0h1m45 0h2m1 0h2m5 0h1m29 0h2m13 0h2m74 0h3m-300 1h1m63 0h1m3 0h1m14 0h1m41 0h2m9 0h1m3 0h1m41 0h2m41 0h2m24 0h2m69 0h3m-338 1h1m27 0h1m50 0h1m5 0h1m36 0h1m26 0h1m37 0h2m-154 1h1m28 0h1m48 0h1m11 0h1m20 0h1m115 0h2m74 0h2m-354 1h1m3 0h1m24 0h1m278 0h2m24 0h3m-310 1h1m29 0h1m20 0h1m20 0h1m15 0h1m73 0h3m12 0h2m18 0h2m54 0h2m-256 1h1m19 0h1m60 0h1m49 0h3m27 0h2m-183 1h1m13 0h1m6 0h1m1 0h1m38 0h1m27 0h1m14 0h1m1 0h1m73 0h2m6 0h1m121 0h3m55 0h3m-377 1h1m7 0h1m23 0h1m9 0h1m11 0h1m19 0h1m22 0h1m10 0h1m30 0h1m19 0h1m9 0h1m90 0h2m47 0h3m2 0h2m58 0h3m-369 1h1m2 0h1m48 0h1m19 0h1m17 0h1m95 0h1m10 0h1m163 0h3m16 0h3m-335 1h1m41 0h1m10 0h1m4 0h1m1 0h1m4 0h1m9 0h1m145 0h2m69 0h3m-353 1h1m54 0h1m47 0h1m53 0h1m136 0h2m75 0h3m-320 1h1m22 0h1m33 0h1m2 0h1m92 0h1m19 0h2m24 0h2m45 0h2m56 0h2m19 0h3m5 0h3m-367 1h1m1 0h1m3 0h1m14 0h1m93 0h2m28 0h1m24 0h1m47 0h2m4 0h2m62 0h3m-285 1h1m2 0h1m14 0h1m36 0h1m21 0h1m1 0h1m33 0h1m65 0h2m138 0h2m-342 1h1m91 0h1m22 0h1m41 0h2m21 0h2m28 0h2m42 0h2m2 0h2m13 0h2m-272 1h1m29 0h1m11 0h1m27 0h3m32 0h1m52 0h2m26 0h2m1 0h2m15 0h1m54 0h3m115 0h3m-367 1h1m17 0h1m24 0h1m30 0h1m15 0h1m41 0h2m2 0h2m33 0h2m11 0h2m102 0h2m50 0h2m25 0h3m-383 1h1m6 0h1m5 0h2m8 0h1m23 0h1m34 0h1m3 0h1m51 0h1m127 0h2m-280 1h1m2 0h1m14 0h1m8 0h1m2 0h1m36 0h1m49 0h1m32 0h1m10 0h2m9 0h2m47 0h2m53 0h2m2 0h2m15 0h2m-266 1h1m63 0h1m109 0h2m90 0h2m14 0h2m45 0h3m-319 1h1m54 0h1m7 0h1m7 0h1m72 0h2m103 0h2m60 0h2m-360 1h1m16 0h1m26 0h1m9 0h1m1 0h1m43 0h1m5 0h1m27 0h1m78 0h2m32 0h2m72 0h2m-294 1h1m22 0h1m46 0h2m13 0h1m6 0h2m79 0h2m4 0h2m177 0h3m-372 1h1m1 0h1m14 0h1m44 0h1m23 0h1m103 0h2m17 0h2m96 0h3m22 0h3m-352 1h1m22 0h1m3 0h1m6 0h1m43 0h1m31 0h1m1 0h1m10 0h1m35 0h1m182 0h5m-273 1h1m24 0h1m161 0h2m6 0h2m9 0h2m17 0h2m14 0h2m15 0h2m55 0h3m-357 1h1m14 0h1m25 0h1m27 0h1m21 0h1m19 0h1m36 0h1m46 0h1m79 0h3m54 0h6m-371 1h1m74 0h1m3 0h1m4 0h1m4 0h1m156 0h2m74 0h3m10 0h2m-337 1h1m47 0h2m10 0h1m39 0h1m3 0h1m1 0h1m108 0h2m11 0h1m36 0h2m51 0h2m12 0h3m33 0h3m-359 1h1m4 0h1m1 0h1m3 0h1m66 0h1m6 0h1m10 0h1m39 0h1m5 0h1m23 0h1m3 0h2m23 0h2m15 0h2m139 0h3m-363 1h1m9 0h1m19 0h1m8 0h1m11 0h1m42 0h1m18 0h2m4 0h1m2 0h1m30 0h1m85 0h2m30 0h2m40 0h2m-301 1h1m5 0h1m1 0h1m25 0h1m37 0h1m5 0h1m15 0h1m34 0h1m45 0h2m191 0h6m-379 1h1m15 0h1m22 0h1m43 0h1m23 0h1m33 0h2m44 0h1m48 0h2m22 0h2m103 0h2m-291 1h1m2 0h1m7 0h1m26 0h2m16 0h2m66 0h1m67 0h2m20 0h2m57 0h2m-361 1h1m51 0h1m32 0h1m14 0h1m27 0h1m5 0h1m23 0h2m24 0h2m84 0h2m21 0h5m11 0h2m53 0h3m8 0h2m-377 1h1m15 0h2m57 0h1m7 0h1m22 0h1m5 0h1m4 0h2m8 0h1m34 0h2m1 0h1m20 0h1m23 0h1m42 0h2m10 0h3m8 0h2m15 0h2m33 0h3m-338 1h1m13 0h1m14 0h1m18 0h1m45 0h1m5 0h1m22 0h1m29 0h2m2 0h1m42 0h2m112 0h2m-296 1h1m72 0h1m6 0h1m289 0h3m-381 1h1m27 0h1m49 0h1m25 0h1m110 0h2m29 0h2m23 0h2m94 0h3m-328 1h1m20 0h1m24 0h1m50 0h1m8 0h1m27 0h2m173 0h3m-360 1h1m3 0h1m8 0h1m5 0h1m34 0h1m1 0h1m20 0h1m9 0h1m6 0h1m13 0h1m34 0h2m143 0h2m22 0h3m9 0h3m54 0h3m3 0h3m-384 1h1m7 0h1m9 0h1m30 0h1m19 0h1m7 0h1m10 0h1m14 0h1m191 0h2m5 0h2m58 0h5m-363 1h1m2 0h2m64 0h1m14 0h1m30 0h2m27 0h1m1 0h2m60 0h3m89 0h2m50 0h3m11 0h2m-371 1h1m58 0h1m120 0h1m64 0h2m6 0h2m7 0h2m4 0h2m-268 1h1m5 0h1m3 0h1m67 0h1m9 0h1m54 0h2m134 0h2m13 0h2m-310 1h1m9 0h1m10 0h1m24 0h1m11 0h1m97 0h1m20 0h1m20 0h1m25 0h2m41 0h2m88 0h2m3 0h3m2 0h6m-373 1h1m11 0h1m15 0h1m54 0h1m10 0h1m33 0h1m61 0h2m6 0h1m24 0h1m50 0h2m91 0h3m-317 1h2m3 0h1m2 0h1m7 0h1m44 0h1m20 0h1m1 0h2m16 0h2m49 0h1m113 0h2m48 0h3m-327 1h1m35 0h1m1 0h1m22 0h1m9 0h1m18 0h1m9 0h1m14 0h2m15 0h2m119 0h2m-279 1h1m32 0h1m20 0h1m4 0h1m8 0h1m8 0h1m68 0h2m22 0h1m76 0h2m5 0h2m4 0h2m94 0h3m11 0h3m-395 1h1m33 0h1m64 0h1m52 0h2m17 0h1m44 0h1m98 0h2m64 0h5m-376 1h1m25 0h1m68 0h1m95 0h2m23 0h2m24 0h2m90 0h3m-324 1h2m33 0h1m24 0h1m6 0h1m18 0h1m6 0h1m42 0h1m92 0h2m30 0h2m-257 1h1m4 0h1m22 0h1m1 0h1m56 0h1m17 0h1m4 0h2m9 0h1m5 0h1m24 0h2m15 0h1m47 0h2m60 0h2m24 0h3m33 0h3m19 0h3m-395 1h1m5 0h1m4 0h1m130 0h1m38 0h3m81 0h4m21 0h3m6 0h2m-260 1h1m39 0h1m17 0h2m46 0h1m11 0h1m38 0h1m96 0h2m23 0h2m67 0h3m-364 1h1m5 0h1m7 0h1m27 0h1m36 0h2m4 0h1m92 0h1m37 0h2m30 0h2m92 0h3m2 0h3m-361 1h1m5 0h1m3 0h1m18 0h1m57 0h1m4 0h1m31 0h1m28 0h1m22 0h2m57 0h2m63 0h3m14 0h3m22 0h3m8 0h3m-366 1h1m9 0h1m30 0h1m49 0h1m9 0h1m14 0h1m37 0h2m32 0h1m5 0h2m6 0h2m41 0h2m3 0h2m70 0h3m-315 1h1m16 0h1m14 0h1m10 0h1m38 0h1m39 0h1m19 0h1m153 0h2m5 0h4m59 0h3m-365 1h1m5 0h1m21 0h1m49 0h1m10 0h1m5 0h1m2 0h1m7 0h1m6 0h1m54 0h1m26 0h1m78 0h2m23 0h2m59 0h2m-359 1h1m25 0h1m21 0h1m17 0h1m18 0h1m79 0h1m29 0h2m53 0h2m37 0h2m2 0h3m22 0h2m10 0h3m-299 1h1m29 0h1m13 0h1m40 0h2m12 0h2m125 0h2m38 0h3m-263 1h1m19 0h1m14 0h1m6 0h1m2 0h1m13 0h1m1 0h1m24 0h1m41 0h1m16 0h2m79 0h3m6 0h2m19 0h2m-252 1h1m3 0h1m33 0h1m20 0h1m21 0h1m9 0h2m3 0h1m157 0h3m62 0h3m-375 1h1m9 0h1m66 0h1m225 0h2m15 0h2m53 0h3m-392 1h1m19 0h1m52 0h1m32 0h1m1 0h1m34 0h1m4 0h1m5 0h2m22 0h2m3 0h1m82 0h2m11 0h2m13 0h2m33 0h2m-325 1h1m19 0h1m51 0h2m10 0h1m5 0h1m106 0h1m142 0h3m18 0h3m-363 1h1m19 0h1m8 0h1m50 0h1m46 0h2m27 0h1m39 0h1m28 0h2m17 0h2m64 0h2m2 0h3m40 0h3m-356 1h1m4 0h1m26 0h1m48 0h1m7 0h1m63 0h1m51 0h2m48 0h2m99 0h3m-293 1h1m31 0h1m2 0h1m40 0h1m2 0h1m10 0h1m94 0h2m62 0h3m-311 1h1m41 0h1m5 0h1m29 0h1m26 0h1m27 0h1m23 0h2m3 0h3m10 0h2m97 0h2m65 0h3m5 0h3m-274 1h1m13 0h2m86 0h2m58 0h2m86 0h3m-319 1h1m6 0h1m12 0h1m27 0h1m11 0h1m5 0h1m1 0h1m57 0h1m111 0h3m21 0h2m-283 1h1m3 0h1m15 0h1m45 0h1m35 0h1m72 0h1m19 0h2m12 0h1m24 0h2m87 0h2m-334 1h1m18 0h1m39 0h1m22 0h1m9 0h1m1 0h1m60 0h1m14 0h2m19 0h2m146 0h3m39 0h3m-308 1h1m2 0h1m22 0h1m1 0h1m29 0h1m10 0h1m17 0h2m2 0h2m83 0h2m51 0h3m2 0h5m14 0h3m44 0h2m9 0h3m-351 1h1m46 0h1m13 0h1m2 0h1m47 0h1m47 0h2m42 0h2m-238 1h1m52 0h1m22 0h1m6 0h1m6 0h1m3 0h1m119 0h2m92 0h2m56 0h3m-372 1h1m9 0h1m13 0h1m51 0h1m15 0h1m-103 1h1m8 0h1m19 0h1m23 0h1m142 0h1m63 0h2m61 0h2m-295 1h2m11 0h1m56 0h1m16 0h2m15 0h1m22 0h1m108 0h2m43 0h3m-287 1h1m2 0h1m54 0h1m43 0h1m95 0h2m33 0h2m-257 1h1m23 0h1m10 0h1m1 0h1m38 0h1m4 0h1m57 0h2m209 0h3m-338 1h1m62 0h1m12 0h1m13 0h1m7 0h1m30 0h2m128 0h2m15 0h2m70 0h6m-366 1h1m21 0h1m95 0h1m22 0h2m167 0h3m47 0h3m-299 1h1m13 0h1m13 0h1m10 0h1m37 0h2m130 0h2m55 0h2m28 0h3m-354 1h1m65 0h1m57 0h1m133 0h2m30 0h2m49 0h2m-332 1h1m13 0h1m12 0h1m12 0h1m31 0h1m9 0h1m67 0h1m-171 1h1m53 0h1m10 0h1m18 0h1m3 0h1m2 0h1m42 0h1m151 0h2m15 0h3m7 0h2m61 0h3m-331 1h1m26 0h1m133 0h1m59 0h2m30 0h2m7 0h3m34 0h3m5 0h3m5 0h3m-341 1h1m75 0h2m2 0h1m10 0h1m15 0h1m123 0h2m48 0h2m55 0h3m-357 1h1m2 0h1m45 0h1m27 0h1m5 0h1m15 0h1m25 0h1m18 0h1m5 0h1m17 0h2m13 0h2m-154 1h1m38 0h1m16 0h1m38 0h1m34 0h1m59 0h2m62 0h3m53 0h2m8 0h3m-370 1h1m4 0h1m93 0h1m39 0h1m16 0h1m95 0h2m103 0h2m33 0h3m-360 1h1m15 0h1m7 0h1m27 0h1m7 0h1m152 0h2m54 0h2m7 0h2m-276 1h2m25 0h1m2 0h1m10 0h2m4 0h2m4 0h1m5 0h2m18 0h1m98 0h2m162 0h2m-365 1h1m9 0h1m8 0h1m13 0h1m25 0h1m1 0h1m4 0h1m14 0h1m25 0h1m64 0h2m29 0h2m7 0h1m17 0h2m4 0h2m9 0h2m125 0h3m-374 1h1m11 0h1m4 0h2m25 0h1m21 0h1m47 0h1m1 0h2m44 0h1m23 0h4m12 0h1m30 0h2m66 0h2m46 0h3m16 0h3m-380 1h1m24 0h1m1 0h1m44 0h1m30 0h1m9 0h1m17 0h2m30 0h2m21 0h1m25 0h2m54 0h2m52 0h5m-305 1h1m16 0h1m9 0h1m21 0h1m23 0h1m16 0h1m94 0h2m42 0h2m6 0h3m10 0h2m11 0h2m21 0h2m2 0h3m7 0h3m7 0h3m10 0h2m8 0h6m16 0h3m-363 1h1m9 0h1m16 0h1m9 0h1m32 0h1m61 0h2m9 0h3m5 0h1m28 0h2m10 0h2m97 0h2m-307 1h1m11 0h1m5 0h1m14 0h1m6 0h1m6 0h1m26 0h1m111 0h2m164 0h3m11 0h2m9 0h3m-344 1h1m47 0h1m16 0h1m84 0h2m4 0h2m33 0h2m13 0h2m25 0h2m9 0h2m25 0h2m59 0h3m-380 1h1m48 0h1m60 0h1m20 0h2m141 0h2m8 0h3m-265 1h2m2 0h1m66 0h1m6 0h1m89 0h2m78 0h2m56 0h3m44 0h2m6 0h3m-392 1h1m17 0h1m16 0h1m2 0h1m74 0h2m28 0h2m30 0h2m4 0h2m12 0h1m10 0h1m92 0h2m-293 1h1m7 0h2m71 0h1m16 0h1m3 0h1m69 0h1m99 0h2m50 0h2m-316 1h1m26 0h1m19 0h1m56 0h1m25 0h2m31 0h2m10 0h2m47 0h4m74 0h2m15 0h2m10 0h3m-311 1h1m9 0h1m29 0h1m7 0h1m19 0h2m5 0h1m23 0h1m242 0h3m-384 1h1m28 0h1m54 0h1m24 0h1m10 0h1m64 0h2m3 0h1m13 0h1m103 0h3m44 0h2m-269 1h1m1 0h1m13 0h1m64 0h1m26 0h1m4 0h1m89 0h2m15 0h3m7 0h2m-195 1h1m19 0h1m33 0h2m18 0h2m1 0h2m3 0h2m109 0h2m15 0h2m31 0h3m-368 1h1m23 0h1m51 0h1m45 0h2m4 0h1m12 0h1m9 0h1m44 0h2m13 0h1m31 0h2m49 0h2m9 0h3m57 0h3m-374 1h1m11 0h1m13 0h1m60 0h1m22 0h1m5 0h1m27 0h2m22 0h1m7 0h2m122 0h2m-280 1h1m21 0h1m11 0h1m31 0h1m22 0h1m49 0h1m63 0h2m43 0h2m9 0h2m13 0h2m13 0h3m62 0h3m-294 1h1m14 0h1m27 0h1m14 0h1m137 0h2m22 0h2m-265 1h1m25 0h1m14 0h1m32 0h1m14 0h2m58 0h2m62 0h2m13 0h2m30 0h3m16 0h2m45 0h3m16 0h3m-380 1h1m4 0h1m16 0h1m8 0h1m40 0h1m11 0h1m1 0h1m38 0h1m11 0h1m3 0h1m23 0h1m115 0h3m22 0h2m5 0h2m33 0h2m8 0h3m-341 1h1m1 0h1m20 0h2m3 0h1m41 0h1m22 0h1m2 0h1m33 0h1m12 0h2m45 0h2m61 0h2m11 0h2m16 0h2m34 0h3m7 0h3m24 0h3m-375 1h1m62 0h1m8 0h3m71 0h1m45 0h1m23 0h1m36 0h2m41 0h3m54 0h3m-292 1h1m8 0h1m11 0h1m6 0h1m20 0h1m6 0h1m55 0h2m107 0h2m28 0h3m-323 1h3m87 0h1m18 0h1m52 0h1m2 0h1m21 0h2m41 0h1m2 0h2m100 0h3m20 0h3m-309 1h1m5 0h1m6 0h1m14 0h1m3 0h1m23 0h1m22 0h1m19 0h1m10 0h1m8 0h1m136 0h3m2 0h2m65 0h3m-310 1h1m16 0h2m74 0h2m6 0h3m62 0h2m49 0h2m9 0h10m61 0h2m9 0h3m-377 1h1m23 0h1m14 0h1m2 0h1m13 0h2m28 0h1m2 0h1m2 0h1m55 0h1m85 0h4m37 0h2m37 0h2m-322 1h1m42 0h1m103 0h1m68 0h2m-216 1h1m11 0h1m60 0h1m26 0h1m30 0h1m21 0h1m142 0h3m24 0h2m8 0h2m21 0h3m13 0h6m-382 1h1m10 0h1m23 0h1m1 0h1m27 0h1m8 0h1m21 0h1m5 0h1m14 0h1m33 0h2m3 0h1m13 0h1m35 0h1m35 0h2m22 0h2m-237 1h1m17 0h1m27 0h1m2 0h1m37 0h1m19 0h2m73 0h1m89 0h2m74 0h3m-343 1h1m26 0h1m9 0h1m12 0h1m70 0h1m45 0h1m59 0h2m23 0h3m16 0h2m20 0h2m15 0h3m-356 1h1m27 0h1m13 0h1m2 0h1m7 0h1m16 0h1m11 0h1m20 0h1m57 0h1m67 0h2m47 0h2m61 0h2m21 0h3m-323 1h1m1 0h1m24 0h1m31 0h1m23 0h1m5 0h1m1 0h1m13 0h1m25 0h2m38 0h2m144 0h3m19 0h3m-383 1h1m35 0h1m23 0h1m24 0h1m4 0h1m135 0h2m83 0h2m10 0h2m44 0h5m-362 1h1m94 0h1m3 0h2m237 0h3m-362 1h1m17 0h1m29 0h1m4 0h1m4 0h1m64 0h1m37 0h2m18 0h2m101 0h2m81 0h3m19 0h3m-363 1h1m49 0h1m36 0h1m16 0h1m8 0h1m4 0h1m201 0h3m21 0h2m-293 1h1m58 0h1m9 0h1m8 0h1m38 0h2m23 0h2m11 0h2m115 0h3m13 0h3m-338 1h1m4 0h1m9 0h1m12 0h1m18 0h1m3 0h1m20 0h1m18 0h2m65 0h2m57 0h2m9 0h2m15 0h2m17 0h2m66 0h3m-359 1h1m7 0h1m18 0h1m1 0h1m8 0h1m8 0h1m14 0h1m71 0h1m38 0h2m9 0h1m5 0h2m30 0h2m4 0h1m59 0h2m-292 1h1m9 0h1m4 0h2m4 0h1m78 0h2m2 0h1m78 0h1m102 0h2m32 0h3m15 0h2m40 0h3m-335 1h1m52 0h2m48 0h1m5 0h2m9 0h1m34 0h2m115 0h3m7 0h3m41 0h3m-376 1h1m6 0h1m1 0h1m81 0h1m40 0h1m68 0h1m59 0h3m41 0h2m66 0h3m-358 1h1m12 0h1m15 0h1m1 0h1m13 0h1m32 0h1m18 0h1m17 0h2m71 0h1m82 0h2m-253 1h1m7 0h1m1 0h1m21 0h1m23 0h1m4 0h1m4 0h1m12 0h1m7 0h1m44 0h1m194 0h3m-368 1h1m16 0h1m11 0h1m2 0h1m65 0h1m30 0h1m125 0h2m100 0h3m13 0h3m-386 1h1m26 0h1m14 0h1m45 0h1m10 0h1m52 0h2m83 0h2m-235 1h1m5 0h1m17 0h2m3 0h1m22 0h1m23 0h1m18 0h1m17 0h1m9 0h1m13 0h1m1 0h2m41 0h1m93 0h2m22 0h2m18 0h3m20 0h2m-343 1h1m19 0h1m33 0h1m38 0h1m41 0h1m8 0h1m44 0h1m63 0h2m96 0h2m22 0h2m6 0h3m-355 1h1m30 0h1m12 0h1m27 0h1m8 0h1m32 0h1m4 0h1m39 0h2m122 0h2m-293 1h1m29 0h1m39 0h1m47 0h1m9 0h2m1 0h1m10 0h1m34 0h1m110 0h3m47 0h6m-364 1h1m93 0h1m15 0h1m27 0h1m80 0h2m74 0h2m80 0h3m-366 1h1m10 0h2m73 0h1m22 0h1m9 0h1m5 0h3m20 0h1m20 0h1m74 0h2m13 0h2m20 0h2m51 0h2m-353 1h1m15 0h1m16 0h1m48 0h1m10 0h1m81 0h2m97 0h2m-275 1h1m54 0h2m14 0h1m34 0h1m73 0h2m34 0h1m2 0h2m92 0h2m-292 1h1m50 0h1m33 0h1m19 0h2m8 0h1m10 0h1m7 0h2m6 0h2m52 0h2m33 0h2m45 0h2m68 0h3m11 0h3m-396 1h1m8 0h1m55 0h1m27 0h1m4 0h1m4 0h1m6 0h1m2 0h1m110 0h1m86 0h3m57 0h3m-366 1h1m30 0h1m60 0h1m30 0h2m9 0h1m13 0h1m132 0h2m-283 1h1m12 0h1m20 0h1m11 0h1m4 0h1m23 0h1m52 0h1m28 0h2m57 0h1m43 0h2m5 0h2m78 0h3m13 0h3m16 0h3m-351 1h1m10 0h1m97 0h1m36 0h2m6 0h1m61 0h2m8 0h2m48 0h3m-299 1h1m31 0h1m27 0h1m7 0h1m2 0h1m96 0h1m5 0h1m30 0h2m92 0h2m-311 1h1m5 0h1m13 0h1m13 0h1m14 0h1m18 0h1m5 0h1m6 0h1m6 0h2m17 0h1m40 0h2m48 0h2m6 0h2m78 0h2m-295 1h1m13 0h1m5 0h1m109 0h1m37 0h2m10 0h2m23 0h2m43 0h2m52 0h2m17 0h2m13 0h2m13 0h2m-360 1h1m21 0h1m36 0h1m2 0h1m19 0h1m12 0h1m24 0h1m4 0h1m8 0h1m33 0h3m78 0h2m19 0h2m110 0h2m-337 1h1m1 0h2m15 0h1m16 0h1m10 0h1m16 0h1m11 0h1m34 0h2m190 0h3m15 0h3m11 0h5m-262 1h1m53 0h2m140 0h2m56 0h3m2 0h3m3 0h3m-367 1h1m19 0h1m18 0h1m2 0h1m55 0h1m68 0h1m91 0h2m-252 1h2m3 0h1m9 0h1m37 0h1m62 0h1m16 0h1m7 0h2m75 0h2m26 0h2m93 0h3m14 0h3m-345 1h1m9 0h1m187 0h2m32 0h4m51 0h2m5 0h3m10 0h2m-350 1h1m14 0h1m59 0h1m14 0h1m34 0h1m37 0h2m30 0h2m33 0h1m141 0h2m-311 1h2m19 0h2m4 0h1m3 0h1m4 0h1m34 0h2m26 0h1m24 0h2m21 0h2m18 0h1m19 0h2m15 0h2m-260 1h1m13 0h1m42 0h1m16 0h1m18 0h2m91 0h2m61 0h2m9 0h2m109 0h6m-376 1h1m26 0h1m20 0h1m31 0h1m9 0h1m12 0h1m2 0h1m17 0h2m10 0h1m10 0h1m54 0h2m36 0h2m47 0h2m27 0h2m15 0h3m-282 1h1m3 0h1m36 0h1m16 0h1m9 0h2m72 0h2m63 0h2m26 0h3m31 0h3m-347 1h1m3 0h1m105 0h1m9 0h2m53 0h2m22 0h2m60 0h2m23 0h2m-284 1h1m73 0h2m106 0h1m93 0h4m15 0h2m9 0h3m4 0h3m34 0h3m13 0h3m-341 1h1m83 0h1m53 0h1m53 0h2m9 0h2m43 0h2m40 0h2m-279 1h2m6 0h1m10 0h1m34 0h1m26 0h1m103 0h1m21 0h2m90 0h3m5 0h2m35 0h3m-356 1h1m1 0h1m3 0h1m35 0h1m12 0h1m10 0h1m83 0h1m30 0h2m29 0h2m49 0h2m16 0h3m-284 1h1m6 0h1m7 0h1m6 0h1m45 0h1m67 0h2m10 0h3m70 0h2m70 0h3m35 0h3m-343 1h1m5 0h1m3 0h1m46 0h1m14 0h1m9 0h1m96 0h1m158 0h2m-269 1h1m15 0h1m1 0h1m10 0h1m27 0h1m103 0h2m15 0h2m28 0h2m7 0h2m40 0h2m-349 1h1m3 0h1m84 0h1m182 0h2m15 0h2m21 0h2m-324 1h1m27 0h2m107 0h2m80 0h2m78 0h2m-275 1h1m3 0h1m68 0h1m11 0h1m6 0h1m11 0h2m18 0h1m95 0h2m32 0h2m24 0h2m31 0h3m28 0h3m-364 1h1m6 0h1m1 0h1m9 0h1m2 0h1m14 0h1m34 0h1m25 0h1m95 0h1m53 0h2m21 0h2m17 0h2m19 0h2m67 0h3m-382 1h1m2 0h1m14 0h1m9 0h1m2 0h1m5 0h1m26 0h1m18 0h1m12 0h1m5 0h1m5 0h1m6 0h1m30 0h1m2 0h1m44 0h2m78 0h2m97 0h3m-360 1h1m8 0h1m39 0h1m15 0h1m7 0h1m36 0h1m18 0h1m92 0h2m117 0h3m13 0h3m3 0h3m-376 1h1m14 0h1m94 0h1m12 0h1m20 0h1m19 0h1m35 0h1m13 0h1m53 0h2m36 0h2m-290 1h1m12 0h1m61 0h1m41 0h1m23 0h2m40 0h2m5 0h2m54 0h2m110 0h3m-321 1h1m34 0h1m5 0h1m65 0h2m65 0h2m-200 1h1m2 0h1m7 0h1m21 0h1m12 0h1m46 0h2m39 0h2m15 0h2m3 0h1m30 0h2m71 0h3m44 0h2m11 0h3m-349 1h1m37 0h1m23 0h1m19 0h1m9 0h1m84 0h2m8 0h1m5 0h2m42 0h2m19 0h2m6 0h3m6 0h2m-290 1h1m66 0h1m43 0h1m84 0h4m113 0h3m5 0h2m-300 1h1m21 0h1m10 0h1m22 0h1m8 0h1m9 0h1m12 0h1m29 0h2m12 0h1m17 0h2m94 0h2m31 0h2m-287 1h1m9 0h2m30 0h1m6 0h1m3 0h1m6 0h1m3 0h1m6 0h1m20 0h2m32 0h1m5 0h1m22 0h1m5 0h1m9 0h2m85 0h2m49 0h2m44 0h3m-352 1h1m15 0h1m28 0h1m19 0h1m9 0h1m61 0h1m26 0h3m156 0h2m-357 1h1m6 0h1m4 0h1m11 0h1m7 0h1m36 0h1m43 0h1m14 0h2m24 0h1m95 0h2m15 0h2m5 0h2m-194 1h1m5 0h1m4 0h1m16 0h1m4 0h1m23 0h1m9 0h1m19 0h1m2 0h1m2 0h1m20 0h1m5 0h2m40 0h2m125 0h2m14 0h3m-358 1h1m108 0h2m2 0h1m89 0h2m5 0h2m53 0h2m66 0h3m-329 1h1m11 0h1m39 0h1m11 0h1m5 0h3m26 0h1m1 0h1m8 0h1m18 0h1m27 0h1m8 0h2m86 0h2m73 0h3m-352 1h1m18 0h1m7 0h1m32 0h1m11 0h1m11 0h1m3 0h1m30 0h1m63 0h2m107 0h2m-294 1h1m5 0h1m25 0h1m96 0h1m20 0h1m217 0h3m-380 1h1m1 0h1m36 0h1m26 0h1m36 0h1m29 0h1m5 0h1m46 0h1m10 0h2m6 0h2m44 0h2m79 0h3m10 0h2m3 0h3m-346 1h1m8 0h1m6 0h1m12 0h1m1 0h1m67 0h1m49 0h2m91 0h2m57 0h2m45 0h3m-352 1h1m3 0h1m5 0h1m3 0h1m19 0h1m20 0h1m82 0h1m4 0h2m119 0h2m24 0h5m36 0h5m8 0h3m-322 1h1m55 0h1m41 0h1m9 0h1m5 0h2m4 0h1m7 0h1m42 0h2m40 0h1m65 0h2m-301 1h1m15 0h1m2 0h1m3 0h1m52 0h1m6 0h1m15 0h1m48 0h1m21 0h2m8 0h1m8 0h2m55 0h2m26 0h2m33 0h2m33 0h3m19 0h3m-370 1h1m42 0h1m15 0h2m19 0h1m38 0h1m123 0h2m41 0h2m57 0h3m13 0h3m6 0h3m-342 1h1m19 0h1m9 0h1m15 0h1m2 0h1m21 0h1m10 0h1m70 0h1m7 0h2m128 0h3m12 0h3m-313 1h1m8 0h1m5 0h1m34 0h1m54 0h1m35 0h3m104 0h2m35 0h3m12 0h3m-324 1h1m20 0h1m40 0h1m56 0h3m11 0h2m76 0h1m55 0h4m68 0h3m-357 1h1m6 0h1m78 0h1m2 0h1m6 0h1m7 0h2m4 0h1m28 0h2m2 0h1m14 0h1m70 0h2m55 0h2m7 0h2m12 0h2m43 0h3m-371 1h1m63 0h1m23 0h1m4 0h1m4 0h1m2 0h1m55 0h1m23 0h1m181 0h3m27 0h3m-394 1h1m124 0h1m5 0h1m50 0h1m81 0h2m53 0h4m43 0h3m3 0h2"/>
<path stroke="#3f4889" d="M180 59.5h1m2 0h1m4 0h1m8 0h1m83 0h2m-196 1h1m13 0h1m9 0h1m10 0h1m100 0h1m67 0h2m41 0h2m127 0h2m-326 1h1m24 0h1m118 0h2m-181 1h1m22 0h1m9 0h1m26 0h1m128 0h1m-186 1h1m51 0h1m2 0h1m25 0h1m7 0h1m27 0h2m204 0h3m13 0h2m-281 1h1m30 0h1m30 0h2m102 0h2m-215 1h1m48 0h1m20 0h1m6 0h1m87 0h2m-204 1h1m2 0h1m22 0h1m6 0h1m17 0h1m39 0h1m66 0h1m26 0h2m135 0h3m-252 1h1m33 0h2m2 0h1m151 0h2m75 0h2m-332 1h1m14 0h1m15 0h1m63 0h1m43 0h1m23 0h2m138 0h2m-287 1h1m62 0h1m5 0h1m4 0h1m56 0h2m27 0h2m-162 1h1m1 0h1m25 0h1m42 0h1m6 0h1m21 0h2m23 0h1m141 0h2m-288 1h1m34 0h1m20 0h1m21 0h2m11 0h1m6 0h1m191 0h3m-298 1h1m41 0h1m26 0h1m39 0h1m213 0h3m-316 1h1m12 0h1m3 0h1m73 0h1m4 0h1m35 0h2m147 0h2m14 0h2m-229 1h1m5 0h1m21 0h1m108 0h1m96 0h2m-305 1h1m10 0h1m57 0h1m22 0h1m38 0h2m96 0h2m-243 1h1m74 0h1m56 0h2m122 0h2m99 0h3m-359 1h1m21 0h1m50 0h1m4 0h1m138 0h1m91 0h5m37 0h2m-284 1h1m34 0h1m30 0h1m-85 1h1m28 0h1m3 0h1m26 0h1m63 0h2m69 0h2m59 0h2m37 0h2m-276 1h1m6 0h1m6 0h1m15 0h1m2 0h1m44 0h1m49 0h1m158 0h2m25 0h3m-389 1h1m102 0h1m67 0h1m132 0h3m9 0h2m-307 1h1m4 0h1m78 0h1m17 0h1m263 0h3m3 0h3m-315 1h1m31 0h1m4 0h1m92 0h2m8 0h2m5 0h2m54 0h2m-278 1h1m373 0h3m-338 1h1m64 0h1m57 0h1m16 0h1m3 0h2m53 0h2m90 0h3m-328 1h1m31 0h1m36 0h1m10 0h1m1 0h1m68 0h1m26 0h2m15 0h2m6 0h2m106 0h2m25 0h2m-321 1h1m64 0h1m10 0h1m84 0h1m21 0h1m-131 1h1m98 0h1m125 0h2m75 0h3m-359 1h1m94 0h1m43 0h1m16 0h1m68 0h2m70 0h3m-311 1h1m76 0h1m8 0h1m7 0h1m17 0h1m170 0h2m91 0h3m-377 1h1m56 0h1m16 0h1m2 0h1m5 0h1m52 0h1m167 0h2m-286 1h1m51 0h1m24 0h1m141 0h2m29 0h2m-109 1h2m12 0h1m27 0h1m130 0h3m-308 1h1m2 0h1m39 0h1m5 0h1m81 0h1m-135 1h1m38 0h1m16 0h1m7 0h1m32 0h2m62 0h2m12 0h2m116 0h3m-222 1h2m76 0h1m190 0h3m-385 1h1m276 0h2m-267 1h1m37 0h1m9 0h1m29 0h1m16 0h1m41 0h1m14 0h1m177 0h3m-281 1h1m40 0h1m171 0h2m106 0h3m-357 1h1m12 0h1m39 0h1m16 0h1m3 0h1m4 0h1m18 0h1m34 0h1m148 0h2m-316 1h1m13 0h1m15 0h1m11 0h1m6 0h1m19 0h1m34 0h1m12 0h1m9 0h1m12 0h1m9 0h1m82 0h1m2 0h2m62 0h2m26 0h3m55 0h3m-315 1h1m28 0h1m6 0h1m26 0h2m74 0h2m94 0h2m-215 1h1m89 0h1m16 0h2m10 0h2m3 0h2m56 0h2m-143 1h2m11 0h1m158 0h2m12 0h3m-276 1h1m29 0h1m12 0h1m144 0h2m91 0h2m-248 1h1m4 0h1m14 0h1m25 0h2m48 0h2m131 0h2m-246 1h1m7 0h1m2 0h1m10 0h1m8 0h1m55 0h1m170 0h3m52 0h3m-328 1h1m59 0h1m16 0h1m14 0h1m23 0h1m15 0h3m10 0h2m1 0h2m2 0h1m-179 1h1m4 0h1m39 0h1m14 0h1m88 0h2m27 0h1m22 0h3m78 0h2m-282 1h1m13 0h1m36 0h1m20 0h1m38 0h1m-93 1h1m4 0h1m36 0h1m2 0h1m19 0h1m46 0h1m15 0h2m93 0h2m-275 1h1m20 0h1m18 0h1m18 0h1m41 0h1m1 0h1m2 0h1m11 0h1m15 0h2m145 0h3m36 0h3m-191 1h1m123 0h2m-216 1h1m14 0h1m20 0h1m11 0h1m119 0h2m-183 1h1m30 0h1m9 0h1m2 0h1m10 0h1m18 0h1m88 0h2m14 0h2m85 0h2m16 0h2m-229 1h1m8 0h1m4 0h1m41 0h1m-143 1h1m23 0h1m134 0h2m56 0h2m18 0h2m4 0h2m80 0h3m-238 1h1m10 0h1m98 0h2m-117 1h1m40 0h1m20 0h1m24 0h2m48 0h2m91 0h3m-268 1h1m51 0h1m40 0h2m10 0h2m60 0h2m121 0h3m-298 1h1m37 0h1m73 0h1m44 0h1m25 0h2m85 0h3m-225 1h1m30 0h1m2 0h1m13 0h1m23 0h1m11 0h1m152 0h3m-342 1h1m48 0h1m61 0h1m34 0h1m7 0h1m34 0h1m-189 1h1m55 0h1m33 0h1m14 0h1m49 0h1m104 0h2m-224 1h1m8 0h1m75 0h1m264 0h6m-381 1h1m114 0h1m251 0h2m-277 1h2m52 0h1m14 0h2m143 0h2m43 0h5m-324 1h1m16 0h1m95 0h1m29 0h1m77 0h2m26 0h2m18 0h2m3 0h2m10 0h2m-266 1h1m211 0h2m72 0h3m-327 1h1m4 0h1m21 0h1m22 0h1m70 0h1m34 0h1m5 0h1m19 0h2m90 0h2m-285 1h1m11 0h1m52 0h1m1 0h1m6 0h1m17 0h1m23 0h2m84 0h1m89 0h2m22 0h2m-229 1h1m98 0h2m-192 1h1m4 0h1m9 0h1m2 0h2m96 0h1m1 0h2m195 0h3m-263 1h1m24 0h1m13 0h1m8 0h1m116 0h1m6 0h2m19 0h2m11 0h2m72 0h3m-270 1h1m30 0h1m14 0h1m3 0h2m48 0h2m155 0h3m36 0h3m-339 1h1m42 0h2m43 0h1m94 0h1m123 0h3m-323 1h1m17 0h1m30 0h1m16 0h1m4 0h2m11 0h1m64 0h3m12 0h1m25 0h2m69 0h2m23 0h2m64 0h3m-388 1h1m4 0h1m24 0h1m21 0h1m5 0h2m38 0h1m5 0h1m218 0h3m-283 1h1m65 0h1m22 0h1m29 0h1m170 0h3m33 0h3m-335 1h1m116 0h1m34 0h2m-74 1h1m8 0h1m42 0h1m41 0h2m-193 1h1m162 0h2m102 0h2m-183 1h1m18 0h1m59 0h1m43 0h1m28 0h2m59 0h2m48 0h3m-327 1h1m54 0h1m2 0h1m51 0h1m185 0h2m-292 1h1m2 0h1m108 0h2m191 0h2m-332 1h2m11 0h1m11 0h1m34 0h1m26 0h1m2 0h1m65 0h1m30 0h2m170 0h3m-274 1h1m85 0h2m43 0h2m30 0h2m67 0h2m43 0h3m-304 1h1m7 0h1m15 0h1m20 0h1m38 0h2m49 0h2m20 0h2m-164 1h1m7 0h1m61 0h1m32 0h1m22 0h2m128 0h2m-256 1h1m14 0h1m6 0h1m3 0h1m45 0h1m178 0h3m-243 1h1m20 0h3m24 0h1m75 0h1m-222 1h1m32 0h1m80 0h1m178 0h2m-269 1h1m5 0h1m62 0h1m50 0h2m138 0h2m27 0h3m-277 1h1m10 0h1m3 0h1m15 0h1m249 0h3m-287 1h1m92 0h1m25 0h1m-141 1h1m22 0h1m73 0h1m57 0h1m26 0h2m9 0h2m21 0h2m71 0h2m-208 1h1m280 0h3m-348 1h1m13 0h1m36 0h1m9 0h1m47 0h1m91 0h1m-199 1h1m153 0h1m13 0h2m37 0h2m-41 1h3m16 0h2m92 0h2m68 0h3m-389 1h1m11 0h1m94 0h1m-35 1h1m67 0h1m-131 1h2m97 0h1m1 0h1m107 0h2m46 0h2m37 0h2m-233 1h1m11 0h1m65 0h1m46 0h2m8 0h2m-199 1h1m31 0h1m131 0h2m35 0h2m-198 1h1m6 0h1m50 0h1m120 0h2m3 0h2m71 0h2m-285 1h1m4 0h1m14 0h1m21 0h1m44 0h1m11 0h1m11 0h1m95 0h1m23 0h1m70 0h3m-220 1h2m89 0h2m58 0h2m28 0h2m75 0h2m-345 1h1m14 0h1m2 0h1m35 0h1m32 0h1m2 0h1m9 0h1m10 0h1m84 0h1m69 0h2m13 0h2m96 0h3m11 0h3m-365 1h1m2 0h1m7 0h1m49 0h1m20 0h1m193 0h2m7 0h2m66 0h3m-380 1h1m110 0h1m7 0h1m52 0h2m44 0h2m144 0h3m-323 1h1m132 0h1m96 0h2m22 0h2m26 0h2m58 0h3m-383 1h1m100 0h1m125 0h1m99 0h3m-291 1h1m6 0h1m189 0h2m-158 1h1m33 0h1m6 0h1m14 0h2m184 0h3m-280 1h1m56 0h1m12 0h1m15 0h2m16 0h2m61 0h2m131 0h2m30 0h3m-375 1h1m50 0h1m7 0h1m32 0h2m36 0h1m58 0h1m62 0h2m83 0h3m-346 1h1m6 0h1m63 0h1m26 0h1m60 0h1m27 0h1m2 0h2m28 0h2m13 0h2m-179 1h1m14 0h1m32 0h1m29 0h1m61 0h2m71 0h2m4 0h2m-262 1h1m58 0h1m8 0h1m30 0h1m13 0h1m88 0h1m118 0h3m-346 1h1m5 0h1m6 0h1m65 0h1m40 0h1m69 0h2m3 0h2m90 0h4m25 0h2m10 0h3m-333 1h1m97 0h1m30 0h1m29 0h1m185 0h3m40 0h3m-313 1h1m21 0h1m42 0h1m39 0h2m14 0h1m-151 1h1m27 0h1m5 0h1m10 0h1m11 0h1m18 0h1m10 0h1m9 0h1m10 0h2m4 0h1m4 0h2m13 0h2m9 0h1m10 0h2m-206 1h1m45 0h1m21 0h1m11 0h1m49 0h1m184 0h2m43 0h2m-353 1h1m3 0h1m11 0h1m3 0h1m16 0h1m6 0h1m21 0h1m14 0h1m1 0h1m35 0h1m22 0h1m149 0h2m-240 1h1m17 0h1m6 0h1m9 0h1m36 0h1m13 0h1m8 0h1m37 0h2m167 0h3m-368 1h1m49 0h1m41 0h1m1 0h1m19 0h1m2 0h1m48 0h1m5 0h1m18 0h2m48 0h2m42 0h3m49 0h2m26 0h3m2 0h3m-374 1h1m30 0h1m83 0h1m55 0h2m13 0h2m25 0h2m-185 1h1m10 0h1m11 0h1m10 0h1m5 0h1m24 0h1m18 0h1m37 0h1m2 0h1m4 0h2m57 0h1m41 0h2m50 0h3m12 0h2m10 0h3m45 0h3m-353 1h1m36 0h1m48 0h1m21 0h1m-150 1h1m36 0h1m41 0h1m29 0h1m52 0h1m82 0h2m28 0h2m-272 1h1m26 0h1m33 0h1m2 0h1m66 0h2m-139 1h1m10 0h1m27 0h1m273 0h2m-294 1h1m33 0h1m56 0h1m254 0h3m-342 1h1m57 0h1m117 0h2m3 0h2m156 0h3m-323 1h1m5 0h1m16 0h1m59 0h2m20 0h2m41 0h1m34 0h1m113 0h3m23 0h3m-371 1h1m181 0h2m47 0h2m109 0h3m2 0h3m26 0h3m-328 1h1m33 0h1m15 0h1m5 0h1m129 0h1m31 0h3m50 0h3m10 0h2m18 0h2m-261 1h1m3 0h1m56 0h1m49 0h2m17 0h2m24 0h2m57 0h2m55 0h3m8 0h2m9 0h3m-309 1h1m12 0h1m2 0h1m38 0h1m166 0h2m5 0h2m3 0h2m22 0h3m-334 1h1m39 0h1m6 0h1m8 0h1m18 0h1m10 0h1m56 0h1m26 0h1m133 0h3m-221 1h1m7 0h1m101 0h2m-204 1h1m105 0h1m42 0h1m23 0h1m36 0h2m173 0h3m-376 1h1m18 0h1m19 0h1m31 0h1m11 0h1m5 0h1m148 0h2m90 0h3m26 0h3m-372 1h1m37 0h1m30 0h1m3 0h1m16 0h1m22 0h1m86 0h2m102 0h2m34 0h3m-340 1h1m24 0h1m12 0h1m31 0h1m9 0h1m18 0h1m86 0h1m83 0h2m15 0h2m7 0h2m10 0h2m-295 1h1m4 0h1m26 0h1m39 0h1m41 0h1m59 0h2m37 0h2m-183 1h1m53 0h1m90 0h2m48 0h2m101 0h2m-347 1h1m7 0h1m22 0h1m38 0h1m113 0h2m35 0h2m140 0h3m11 0h3m-283 1h1m6 0h1m29 0h1m51 0h1m58 0h2m98 0h2m3 0h3m-356 1h1m11 0h1m16 0h1m53 0h2m5 0h1m33 0h1m12 0h1m81 0h2m18 0h2m63 0h2m-307 1h1m10 0h1m8 0h1m5 0h1m43 0h1m95 0h1m51 0h2m-183 1h1m29 0h1m23 0h1m96 0h2m42 0h2m10 0h2m135 0h3m-340 1h1m1 0h1m18 0h1m104 0h2m117 0h2m11 0h3m70 0h3m-358 1h1m54 0h1m29 0h1m33 0h1m8 0h1m55 0h2m-207 1h1m27 0h1m48 0h1m23 0h1m31 0h1m43 0h2m66 0h2m61 0h2m50 0h3m-361 1h1m47 0h1m13 0h1m19 0h1m22 0h1m31 0h1m23 0h2m9 0h2m3 0h1m9 0h2m95 0h2m83 0h3m-361 1h1m46 0h1m13 0h1m8 0h1m24 0h1m93 0h2m106 0h3m58 0h3m-311 1h1m4 0h1m15 0h1m14 0h1m7 0h1m41 0h1m147 0h2m11 0h3m72 0h3m-377 1h1m56 0h1m9 0h1m54 0h1m109 0h2m63 0h2m75 0h3m-367 1h1m79 0h1m7 0h1m152 0h2m118 0h3m-377 1h1m18 0h1m14 0h1m66 0h1m15 0h1m124 0h2m61 0h2m51 0h2m-316 1h1m11 0h1m17 0h1m9 0h1m72 0h2m22 0h2m37 0h2m19 0h1m-247 1h1m4 0h1m10 0h1m55 0h1m16 0h1m34 0h1m2 0h2m56 0h1m25 0h2m29 0h2m68 0h2m-316 1h1m14 0h1m29 0h2m64 0h1m40 0h1m23 0h2m13 0h2m-148 1h1m48 0h1m3 0h1m26 1h1m3 0h2m1 0h1m2 0h2m53 0h1m-125 1h1m13 0h1m11 0h1m4 0h1m118 0h2m163 0h3m-356 1h1m38 0h1m65 0h1m44 0h1m12 0h2m8 0h2m54 0h2m116 0h3m-384 1h1m48 0h1m28 0h1m4 0h1m2 0h1m38 0h1m23 0h1m2 0h1m34 0h1m79 0h2m-243 1h1m8 0h1m49 0h1m121 0h2m35 0h2m19 0h2m68 0h2m34 0h2m-351 1h1m3 0h1m28 0h1m7 0h1m15 0h1m30 0h1m3 0h2m43 0h2m54 0h2m31 0h2m36 0h2m20 0h3m-276 1h1m6 0h1m338 0h3m-368 1h1m48 0h1m16 0h1m214 0h2m33 0h3m-299 1h1m19 0h1m49 0h1m4 0h1m18 0h1m27 0h1m32 0h2m104 0h2m-289 1h1m4 0h1m26 0h1m32 0h2m25 0h1m10 0h1m40 0h1m71 0h2m71 0h3m-248 1h1m29 0h1m25 0h1m29 0h1m17 0h1m78 0h1m80 0h2m5 0h2m-277 1h1m41 0h1m92 0h2m-165 1h1m3 0h1m1 0h1m53 0h1m35 0h2m85 0h4m41 0h2m63 0h3m-275 1h1m31 0h1m28 0h1m76 0h1m40 0h2m35 0h2m52 0h2m-218 1h1m15 0h1m70 0h1m-90 1h1m9 0h1m82 0h2m-187 1h1m9 0h1m11 0h1m16 0h1m12 0h1m5 0h1m29 0h1m2 0h1m95 0h1m61 0h2m130 0h3m-379 1h1m17 0h1m32 0h1m45 0h1m38 0h1m12 0h1m10 0h1m109 0h2m107 0h3m-372 1h1m7 0h1m27 0h1m48 0h1m78 0h2m18 0h2m17 0h1m2 0h2m43 0h3m83 0h2m-332 1h1m11 0h1m47 0h1m6 0h1m19 0h1m4 0h1m75 0h1m21 0h2m125 0h3m23 0h3m-318 1h1m1 0h1m43 0h1m25 0h1m5 0h1m8 0h1m14 0h2m106 0h2m-250 1h1m3 0h1m21 0h1m33 0h1m29 0h1m101 0h2m175 0h3m-362 1h1m18 0h1m5 0h1m2 0h1m22 0h1m27 0h1m7 0h1m94 0h2m99 0h3m-251 1h1m51 0h1m81 0h2m11 0h2m45 0h3m8 0h2m-191 1h1m132 0h1m96 0h2m47 0h2m-175 1h2m83 0h2m28 0h2m-291 1h1m90 0h1m21 0h1m154 0h2m6 0h2m-275 1h1m11 0h1m60 0h1m100 0h2m63 0h2m15 0h2m68 0h3m36 0h3m-363 1h1m38 0h1m113 0h1m108 0h2m-171 1h2m5 0h1m77 0h2m3 0h2m20 0h1m84 0h2m24 0h3m44 0h2m-284 1h1m17 0h1m132 0h2m-204 1h1m60 0h1m62 0h2m-142 1h1m69 0h1m12 0h1m194 0h5m44 0h3m-361 1h1m81 0h1m236 0h2m-269 1h1m39 0h1m19 0h1m12 0h1m8 0h1m108 0h2m103 0h3m18 0h3m-364 1h1m5 0h1m76 0h1m20 0h1m69 0h3m-100 1h1m23 0h1m32 0h2m18 0h1m4 0h2m11 0h2m78 0h2m94 0h2m30 0h3m-348 1h1m49 0h2m243 0h3m20 0h3m-339 1h1m20 0h1m74 0h1m-97 1h1m89 0h1m7 0h1m30 0h2m9 0h1m42 0h2m111 0h5m7 0h3m5 0h2m13 0h2m8 0h3m-275 1h1m3 0h1m2 0h1m6 0h1m40 0h1m153 0h2m7 0h2m19 0h3m55 0h3m-335 1h1m3 0h1m14 0h1m19 0h1m197 0h2m-290 1h1m89 0h1m27 0h1m162 0h3m11 0h2m9 0h2m72 0h3m-362 1h1m46 0h1m9 0h1m60 0h2m36 0h3m6 0h1m141 0h2m42 0h2m-276 1h1m72 0h1m132 0h2m-296 1h1m13 0h2m11 0h1m5 0h1m40 0h1m2 0h1m15 0h1m47 0h1m95 0h1m82 0h3m-305 1h1m46 0h1m66 0h1m7 0h1m14 0h1m34 0h3m163 0h3m11 0h3m-368 1h1m24 0h1m198 0h2m131 0h5m-345 1h1m52 0h1m7 0h2m3 0h1m10 0h1m41 0h1m35 0h2m3 0h2m-196 1h1m95 0h1m2 0h1m8 0h1m2 0h1m21 0h1m4 0h1m78 0h2m91 0h3m7 0h2m-308 1h1m23 0h1m40 0h1m19 0h1m40 0h1m48 0h2m61 0h2m49 0h5m-300 1h1m12 0h1m9 0h1m8 0h1m16 0h1m48 0h1m12 0h1m20 0h1m47 0h1m46 0h2m27 0h3m-265 1h1m33 0h1m40 0h1m4 0h1m37 0h1m47 0h2m157 0h3m-247 1h1m18 0h1m29 0h1m-130 1h1m26 0h1m5 0h1m42 0h1m16 0h1m68 0h2m15 0h1m21 0h1m-194 1h1m18 0h1m77 0h1m47 0h1m168 0h2m-324 1h1m87 0h1m79 0h2m72 0h2m61 0h2m48 0h2m-350 1h1m20 0h1m3 0h1m76 0h1m5 0h1m8 0h1m128 0h2m105 0h3m8 0h2m-300 1h1m64 0h2m74 0h2m133 0h3m16 0h3m2 0h3m-336 1h1m22 0h1m37 0h1m10 0h1m19 0h3m95 0h2m10 0h2m93 0h2m-303 1h1m56 0h1m73 0h1m38 0h1m27 0h2m4 0h2m9 0h2m110 0h2m-303 1h1m17 0h1m8 0h1m156 0h1m33 0h3m64 0h2m-350 1h1m29 0h1m77 0h2m5 0h1m25 0h1m-55 1h1m18 0h1m34 0h1m162 0h2m-274 1h1m11 0h1m52 0h1m6 0h1m36 0h1m77 0h2m9 0h1m-153 1h1m96 0h2m21 0h2m180 0h6m-349 1h1m33 0h1m7 0h1m1 0h1m22 0h1m116 0h1m93 0h3m-302 1h1m107 0h1m-124 1h1m17 0h1m69 0h2m6 0h1m20 0h1m18 0h1m168 0h2m72 0h3m-265 1h1m89 0h2m48 0h2m35 0h2m64 0h3m-362 1h1m40 0h1m218 0h3m107 0h2m-380 1h1m101 0h1m6 0h1m3 0h1m7 0h1m140 0h2m-169 1h1m57 0h1m66 0h1m120 0h3m-324 1h1m4 0h1m13 0h1m67 0h1m5 0h1m2 0h1m10 0h2m5 0h2m16 0h1m128 0h2m4 0h3m-276 1h1m19 0h1m8 0h1m302 0h3m31 0h3m-327 1h1m57 0h1m43 0h2m1 0h2m201 0h3m-367 1h1m19 0h1m15 0h1m261 0h3m48 0h2m3 0h2m-345 1h1m13 0h1m8 0h1m27 0h1m3 0h1m32 0h1m78 0h2m4 0h3m5 0h1m124 0h2m17 0h3m2 0h3m-318 1h1m62 0h1m61 0h1m54 0h2m5 0h1m82 0h2m66 0h3m-343 1h2m7 0h1m2 0h1m59 0h1m98 0h1m107 0h2m75 0h3m-359 1h1m17 0h1m63 0h1m189 0h2m-262 1h1m14 0h1m131 0h1m128 0h2m-84 1h2m45 0h2m99 0h2m-360 1h1m21 0h1m6 0h1m22 0h1m23 0h1m109 0h2m146 0h2m33 0h3m-363 1h1m54 0h1m15 0h1m82 0h1m16 0h1m33 0h2m115 0h3m-350 1h1m2 0h1m19 0h1m11 0h1m158 0h2m3 0h1m182 0h3m-386 1h1m27 0h1m19 0h1m28 0h1m61 0h1m32 0h2m9 0h1m24 0h2m1 0h2m105 0h3m30 0h2m-359 1h1m25 0h1m4 0h1m90 0h1m187 0h3m-305 1h1m43 0h1m14 0h1m23 0h1m9 0h1m28 0h2m39 0h1m32 0h2m-130 1h1m47 0h1m56 0h2m123 0h2m-207 1h2m48 0h1m218 0h3m-290 1h1m3 0h1m11 0h1m48 0h2m1 0h1m31 0h1m158 0h2m-340 1h1m118 0h1m6 0h2m96 0h2m85 0h2m25 0h2m-329 1h1m83 0h1m23 0h1m35 0h1m20 0h1m31 0h2m-196 1h1m3 0h1m59 0h1m76 0h1m38 0h1m75 0h2m91 0h3m16 0h6m-363 1h1m27 0h1m28 0h1m6 0h1m32 0h1m186 0h2m77 0h3m-240 1h1m96 0h2m52 0h2m-293 1h1m30 0h1m60 0h1m7 0h1m206 0h2m33 0h2m-247 1h1m27 0h1m49 0h2m181 0h2m-372 1h1m45 0h1m27 0h1m102 0h1m15 0h2m117 0h2m-317 1h1m18 0h1m29 0h1m7 0h1m39 0h1m11 0h1m30 0h1m6 0h1m39 0h2m99 0h2m-270 1h1m135 0h1m23 0h1m15 0h2m41 0h1m44 0h2m31 0h3m72 0h3m-383 1h1m14 0h1m18 0h1m131 0h2m27 0h2m-209 1h1m7 0h1m18 0h2m61 0h1m2 0h1m10 0h1m72 0h1m15 0h2m6 0h2m186 0h3m-320 1h1m26 0h1m18 0h1m42 0h2m32 0h1m136 0h2m3 0h5m-284 1h1m2 0h1m1 0h1m214 0h2m-234 1h1m30 0h1m6 0h1m81 0h1m59 0h2m101 0h3m49 0h2m-339 1h1m39 0h1m14 0h1m8 0h1m199 0h2m-197 1h1m52 0h1m39 0h1m113 0h2m61 0h3m-350 1h1m140 0h1m20 0h1m5 0h2m95 0h3m69 0h2m-356 1h1m104 0h1m91 0h1m-217 1h1m33 0h1m53 0h1m46 0h1m80 0h1m7 0h2m2 0h2m-203 1h1m23 0h1m36 0h1m8 0h1m38 0h1m2 0h1m10 0h1m-131 1h1m74 0h1m192 0h2m-253 1h2m59 0h1m13 0h1m37 0h1m1 0h2m41 0h1m30 0h2m18 0h2m84 0h2m49 0h3m-346 1h1m4 0h1m4 0h1m55 0h2m6 0h1m18 0h1m17 0h1m22 0h1m5 0h1m2 0h1m85 0h2m96 0h3m19 0h3m-377 1h1m5 0h1m26 0h1m17 0h1m60 0h1m58 0h1m17 0h2m-201 1h1m34 0h1m20 0h1m53 0h1m21 0h2m176 0h2m-309 1h1m98 0h1m38 0h1m28 0h2m-148 1h1m52 0h1m33 0h1m104 0h2m19 0h2m71 0h2m-292 1h1m5 0h1m28 0h1m30 0h1m43 0h1m234 0h3m-285 1h1m9 0h1m24 0h1m43 0h1m189 0h2m-349 1h1m5 0h1m11 0h1m142 0h1m89 0h2m52 0h2m17 0h3m52 0h3m-383 1h1m74 0h1m25 0h1m259 0h5m17 0h3m-369 1h2m59 0h1m222 0h3m2 0h2m50 0h3m-281 1h1m22 0h1m67 0h1m99 0h2m31 0h2m19 0h3m-288 1h1m56 0h1m5 0h1m85 0h1m58 0h2m-257 1h1m77 0h1m28 0h2m76 0h2m20 0h3m145 0h2m11 0h3m-335 1h1m2 0h1m45 0h1m10 0h1m38 0h2m200 0h3m-267 1h1m111 0h2m-188 1h1m36 0h1m32 0h1m11 0h1m25 0h1m33 0h2m16 0h2m104 0h2m-263 1h1m20 0h1m13 0h1m1 0h1m68 0h1m7 0h2m6 0h1m55 0h2m-165 1h1m65 0h1m25 0h1m79 0h2m79 0h2m44 0h2m-230 1h1m5 1h1m49 0h2m-150 1h1m20 0h1m46 0h1m2 0h1m11 0h1m43 0h1m-113 1h1m2 0h1m19 0h1m52 0h1m-85 1h1m1 0h1m307 0h3m-292 1h2m82 0h1m214 0h2m5 0h3m10 0h2m18 0h3m-352 1h1m93 0h1m20 0h1m75 0h2m131 0h2m29 0h2m-369 1h1m52 0h1m22 0h1m12 0h1m8 0h1m56 0h2m113 0h2m23 0h3m43 0h2m5 0h3m-337 1h1m36 0h1m43 0h1m8 0h1m60 0h1m2 0h1m49 0h2m98 0h3m38 0h2m-340 1h1m19 0h1m169 0h2m-116 1h1m33 0h2m122 0h2m71 0h3m-310 1h1m81 0h1m23 0h1m11 0h1m34 0h1m80 0h2m8 0h3m58 0h2m15 0h3m-300 1h1m49 0h1m87 0h2m38 0h1m126 0h2m11 0h3m-322 1h1m5 0h1m252 0h3m41 0h3m-335 1h1m70 0h1m5 0h1m10 0h1m12 0h1m62 0h1m30 0h2m87 0h2m7 0h2m-305 1h1m9 0h1m3 0h1m6 0h1m50 0h1m38 0h1m28 0h2m44 0h1m36 0h2m45 0h2m-181 1h1m6 0h1m31 0h1m32 0h2m122 0h2m56 0h2m-352 1h1m15 0h1m271 0h2m-296 1h1m29 0h1m64 0h1m40 0h2m45 0h2m203 0h3m-325 1h1m24 0h1m20 0h1m43 0h2m28 0h2m131 0h2m-283 1h1m5 0h1m10 0h1m17 0h2m6 0h1m54 0h2m85 0h2m163 0h3m-358 1h1m88 0h1m13 0h2m2 0h1m30 0h2m139 0h2m42 0h2m-340 1h1m26 0h1m109 0h1m177 0h3m-289 1h1m23 0h1m38 0h1m77 0h1m139 0h3m-285 1h1m70 0h1m3 0h1m7 0h2m43 0h2m60 0h3m97 0h2m-318 1h1m19 0h1m57 0h1m104 0h2m72 0h2m19 0h2m14 0h2m69 0h3m-379 1h1m33 0h1m47 0h1m6 0h1m99 0h2m38 0h1m84 0h3m-298 1h1m13 0h1m1 0h1m175 0h2m61 0h2m-227 1h1m42 0h1m231 0h3m55 0h3m-289 1h1m2 0h1m151 0h2m-245 1h1m87 0h1m17 0h1m7 0h1m8 0h1m9 0h1m132 0h2m56 0h2m-308 1h1m12 0h1m9 0h1m5 0h1m41 0h1m9 0h1m69 0h3m19 0h2m77 0h2m3 0h2m-263 1h1m26 0h1m106 0h1m26 0h2m29 0h2m141 0h3m-322 1h1m2 0h1m5 0h1m51 0h1m2 0h1m70 0h1m155 0h5m10 0h3m-300 1h1m128 0h1m-85 1h1m3 0h1m3 0h1m70 0h2m59 0h2m73 0h3m-287 1h1m68 0h1m44 0h1m2 0h1m8 0h1m8 0h2m1 0h1m-163 1h1m20 0h1m2 0h1m1 0h1m16 0h1m54 0h1m75 0h1m30 0h2m99 0h2m58 0h3m11 0h3m-326 1h1m80 0h1m13 0h2m53 0h1m13 0h1m21 0h2m-204 1h1m16 0h1m1 0h1m4 0h1m34 0h1m65 0h2m-151 1h1m19 0h1m3 0h1m1 0h1m33 0h1m74 0h2m4 0h1m41 0h2m-207 1h1m23 0h1m23 0h1m64 0h1m94 0h2m-197 1h1m18 0h1m90 0h1m171 0h2m48 0h3m-352 1h1m15 0h1m106 0h1m-78 1h1m19 0h1m14 0h1m59 0h1m148 0h3m-206 1h1m3 0h1m6 0h1m5 0h1m42 0h1m6 0h1m19 0h1m67 0h2m113 0h2m24 0h3m-324 1h1m26 0h1m47 0h3m24 0h2m30 0h2m14 0h2m62 0h2m44 0h2m33 0h2m22 0h2m-372 1h1m17 0h1m37 0h1m9 0h1m29 0h1m32 0h1m15 0h1m39 0h2m-66 1h1m14 0h1m169 0h3m-268 1h1m90 0h2m15 0h1m35 0h2m122 0h2m-308 1h1m34 0h1m28 0h1m51 0h2m24 0h1m41 0h3m188 0h3m-344 1h1m117 0h1m92 0h2m45 0h2m7 0h2m-305 1h1m188 0h2m9 0h2m178 0h3m-376 1h1m44 0h1m23 0h1m77 0h1m219 0h3m-368 1h2m77 0h1m10 0h1m-94 1h1m343 0h3m24 0h3m-345 1h1m62 0h1m16 0h1m67 0h1m41 0h2m98 0h2m-312 1h1m28 0h1m14 0h1m96 0h3m6 0h1m33 0h1m177 0h3m-364 1h1m8 0h1m74 0h1m35 0h2m74 0h2m-224 1h1m237 0h2m53 0h2m2 0h2m72 0h2m-366 1h1m42 0h1m44 0h1m24 0h1m57 0h1m35 0h1m78 0h2m20 0h3m4 0h3m46 0h2m-325 1h1m23 0h1m49 0h1m23 0h2m11 0h2m18 0h3m68 0h2m113 0h3m-371 1h1m9 0h1m9 0h1m27 0h1m23 0h1m7 0h1m25 0h1m72 0h2m119 0h2m38 0h3m-324 1h1m68 0h2m9 0h1m12 0h1m21 0h1m21 0h1m40 0h2m26 0h2m37 0h2m67 0h2m-326 1h1m8 0h1m12 0h1m6 0h1m16 0h1m40 0h1m123 0h2m27 0h2m65 0h2m32 0h3m-340 1h1m45 0h1m14 0h1m42 0h1m10 0h1m8 0h1m6 0h2m36 0h2m12 0h1m3 0h4m41 0h2m108 0h3m18 0h3m8 0h3"/>
<path stroke="#39558c" d="M96 59.5h1m52 0h1m39 0h1m60 0h2m-153 1h1m107 0h1m7 0h1m16 0h1m216 0h3m-366 1h1m55 0h1m11 0h1m37 0h1m60 0h1m51 0h3m28 0h2m61 0h3m-210 1h1m59 0h1m124 0h2m18 0h2m64 0h2m-308 1h1m21 0h1m18 0h1m50 0h1m41 0h2m170 0h2m-346 1h1m340 0h3m-287 1h1m89 0h2m60 0h2m-235 1h1m13 0h1m158 0h1m30 0h2m103 0h2m-274 1h1m113 0h2m48 0h2m10 0h2m-228 1h1m12 0h1m22 0h1m187 0h2m-144 1h1m3 0h1m15 0h1m231 0h3m-283 1h1m57 0h1m91 0h2m138 0h3m-124 1h1m157 0h2m-330 1h1m15 0h1m33 0h1m23 0h1m73 0h2m-196 1h1m143 0h1m12 0h2m43 0h2m109 0h2m-132 1h2m183 0h3m-369 1h1m48 0h1m1 0h1m31 0h1m-65 1h1m56 0h1m149 0h2m152 0h3m-288 1h1m12 0h1m126 0h2m8 0h2m34 0h3m96 0h3m-331 1h1m97 0h1m6 0h1m50 0h2m101 0h2m56 0h3m-379 1h1m25 0h1m62 0h1m22 0h1m83 0h1m135 0h3m22 0h3m-359 1h1m3 0h1m44 0h1m67 0h2m-112 1h1m116 0h1m40 0h2m56 0h2m-138 1h1m54 0h1m119 0h2m-160 1h1m16 0h1m8 0h1m56 0h2m-165 1h1m63 0h2m20 0h1m220 0h3m33 0h3m-354 1h1m26 0h1m1 0h1m2 0h1m57 0h1m3 0h1m121 0h2m76 0h2m27 0h2m-319 1h1m108 0h1m36 0h1m37 0h2m19 0h1m64 0h2m45 0h2m-27 1h3m-311 1h1m51 0h1m25 0h1m55 0h2m16 0h2m186 0h3m-292 1h1m33 0h1m56 0h1m226 0h3m-312 1h1m102 0h2m-161 1h1m75 0h1m81 0h3m49 0h1m-172 1h1m102 0h1m22 0h2m9 0h1m103 0h2m-267 1h1m49 0h1m6 0h1m55 0h1m5 0h1m169 0h3m50 0h3m-361 1h1m60 0h1m8 0h1m19 0h1m12 0h1m88 0h2m10 0h1m117 0h3m-212 1h1m80 0h1m2 0h2m-196 1h1m10 0h1m11 0h1m10 0h1m91 0h1m-40 1h1m5 0h1m52 0h2m1 0h2m95 0h2m81 0h3m-332 1h1m12 0h1m25 0h1m57 0h1m44 0h2m21 0h1m139 0h2m40 0h3m24 0h3m-288 1h2m4 0h1m39 0h1m47 0h1m171 0h3m-271 1h1m10 0h1m-50 1h1m51 0h1m67 0h2m40 0h2m161 0h3m-380 1h1m14 0h1m13 0h1m71 0h1m208 0h2m59 0h3m-368 1h1m335 0h3m-330 1h1m361 0h3m-363 1h1m85 0h1m43 0h1m11 0h1m37 0h2m116 0h2m-289 1h1m74 0h1m221 0h2m50 0h3m-359 1h1m132 0h1m56 0h1m6 0h1m-146 1h1m27 0h1m90 0h2m-198 1h1m28 0h1m3 0h1m115 0h2m12 0h1m37 0h2m13 0h2m98 0h5m-320 1h1m20 0h1m27 0h1m75 0h1m-115 1h1m11 0h1m60 0h1m-8 1h1m52 0h1m-139 1h1m48 0h1m33 0h1m87 0h2m95 0h2m-271 1h1m27 0h1m87 0h1m3 0h2m76 0h1m91 0h3m-232 1h1m30 0h1m6 0h1m66 0h1m100 0h2m48 0h3m50 0h3m-361 1h1m28 0h1m41 0h1m2 0h1m-62 1h1m121 0h1m9 0h2m53 0h2m-84 1h2m27 0h1m26 0h1m78 0h2m-247 1h1m23 0h1m29 0h1m32 0h1m72 0h1m12 0h2m31 0h2m82 0h3m24 0h2m39 0h3m-373 1h2m81 0h1m127 0h2m-191 1h1m33 0h1m19 0h2m25 0h1m109 0h2m119 0h2m-343 1h1m36 0h1m61 0h1m13 0h1m42 0h2m206 0h2m19 0h3m-246 1h2m170 0h2m-208 1h1m-22 1h1m48 0h2m239 0h3m-323 1h1m35 0h1m69 0h2m27 0h2m70 0h2m23 0h3m-232 1h1m22 0h1m8 0h1m16 0h1m67 0h2m27 0h2m21 0h1m4 0h2m-209 1h1m10 0h1m-12 1h1m81 0h1m85 0h2m115 0h2m17 0h2m-265 1h1m32 0h1m53 0h1m59 0h1m-175 1h1m58 0h1m112 0h2m14 0h1m96 0h2m-235 1h1m2 0h1m197 0h2m45 0h2m-290 1h1m24 0h1m84 0h2m-10 1h1m3 0h1m5 0h1m8 0h2m157 0h3m-322 1h1m144 0h1m-120 1h1m3 0h1m51 0h1m34 0h1m62 0h1m-172 1h1m7 0h1m68 0h1m11 0h1m1 0h1m79 0h1m-179 1h1m31 0h1m51 0h1m9 0h1m8 0h2m37 0h1m-109 1h1m6 0h1m24 0h1m8 0h1m24 0h1m-104 1h1m50 0h1m21 0h1m87 0h2m4 0h2m28 0h1m18 0h1m15 0h4m63 0h2m9 0h3m62 0h3m-392 1h1m266 0h2m-252 1h1m61 0h1m6 0h1m30 0h1m-69 1h1m51 0h1m97 0h2m172 0h2m-356 1h1m93 0h1m47 0h2m38 0h2m3 0h1m9 0h1m150 0h3m-251 1h1m-34 1h1m1 0h1m2 0h1m16 0h1m1 0h1m16 0h1m11 0h1m34 0h1m-25 1h1m32 0h1m2 0h1m3 0h2m-41 1h1m161 0h4m40 0h2m-284 1h1m26 0h1m39 0h1m191 0h3m-147 1h2m65 0h2m-237 1h1m28 0h1m38 0h1m5 0h1m12 0h1m24 0h1m-58 1h1m1 0h1m2 0h1m29 0h1m57 0h1m163 1h3m-270 1h1m41 0h1m104 0h2m-191 1h1m25 0h1m243 0h2m9 0h2m73 0h2m-373 1h1m65 0h1m31 0h1m5 0h1m56 0h1m52 0h2m94 0h2m-312 1h1m95 0h1m8 0h1m218 0h3m-334 1h1m92 0h1m10 0h1m78 0h1m-40 1h1m56 0h2m82 0h2m23 0h2m-205 1h1m95 0h1m113 0h2m-210 1h1m48 0h2m41 0h2m172 0h3m-361 1h1m177 0h3m-181 1h1m5 0h1m8 0h1m4 0h1m72 0h1m-108 1h1m21 0h1m21 0h2m32 0h1m13 0h1m8 0h1m185 0h2m-289 1h1m11 0h1m8 0h1m23 0h1m4 0h1m195 0h2m-211 1h1m127 0h3m21 0h1m5 0h2m53 0h1m31 0h2m-253 1h1m34 0h1m38 0h2m79 0h1m23 0h1m169 0h3m-361 1h1m81 0h1m55 0h1m-132 1h1m43 0h1m172 0h2m54 0h2m-283 1h1m29 0h1m12 0h1m12 0h1m5 0h1m15 0h1m2 0h1m141 0h2m7 0h2m128 0h3m-350 1h1m89 0h1m4 0h2m57 0h2m124 0h2m-259 1h1m21 0h1m26 0h1m75 0h2m14 0h1m12 0h2m-106 1h1m83 0h2m-183 1h1m25 0h1m102 0h1m61 0h2m48 0h2m17 0h2m-259 1h1m3 0h1m89 0h1m8 0h1m253 0h3m-359 1h1m16 0h1m62 0h1m98 0h2m92 0h2m16 0h2m-305 1h1m14 0h1m23 0h1m5 1h1m22 0h1m64 0h2m12 0h2m22 0h2m36 0h2m33 0h2m-159 1h1m103 0h2m-134 1h1m8 0h1m13 0h1m8 0h1m204 0h2m75 0h3m-292 1h1m10 0h1m3 0h1m67 0h1m31 0h2m3 0h2m34 0h2m63 0h2m-294 1h1m3 0h1m39 0h1m25 0h1m12 0h1m250 0h2m-290 1h1m42 0h1m27 0h1m5 0h1m93 0h2m-215 1h1m61 0h1m26 0h1m28 0h1m73 0h2m85 0h2m-307 1h1m7 0h1m57 0h1m25 0h1m18 0h1m23 0h1m27 0h2m-122 1h1m69 0h1m205 0h2m40 0h3m-41 1h3m2 0h3m-310 1h1m4 0h1m82 0h1m26 0h2m2 0h1m45 0h2m9 0h1m70 0h2m-181 1h1m113 0h2m55 0h2m52 0h2m27 0h3m42 0h3m-374 1h1m20 0h1m169 0h2m109 0h2m-290 1h1m287 0h2m-304 1h1m38 0h1m21 0h1m14 0h1m38 0h1m27 0h2m89 0h2m-217 1h1m6 0h1m41 0h1m124 0h1m110 0h2m-316 1h1m16 0h1m43 0h1m8 0h1m35 0h1m-23 1h1m93 0h1m11 0h1m17 0h1m-179 1h1m21 0h1m27 0h1m23 0h1m71 0h2m127 0h2m-298 1h1m16 0h1m16 0h1m59 0h1m97 0h2m170 0h2m6 0h3m-364 1h1m25 0h1m312 0h3m-346 1h1m51 0h1m82 0h1m39 0h2m23 0h2m80 0h2m-291 1h1m17 0h1m67 0h1m63 0h1m43 0h1m115 0h2m-197 1h1m50 0h1m2 0h1m24 1h1m103 0h2m-292 1h1m35 0h1m33 0h1m12 0h1m32 0h1m195 0h2m-293 1h1m31 0h1m3 0h1m4 0h2m14 0h1m119 0h1m13 0h2m11 0h2m58 0h3m-138 1h2m-158 1h1m34 0h1m26 0h1m28 0h1m4 0h1m-88 1h1m77 0h1m109 0h1m127 0h3m-240 1h1m78 0h1m108 0h2m-208 1h1m11 0h1m41 0h2m170 0h2m10 0h2m57 0h3m-363 1h2m59 0h1m64 0h2m16 0h1m45 0h1m78 0h2m2 0h2m-291 1h1m43 0h1m93 0h2m17 0h1m213 0h2m-354 1h1m72 0h1m65 0h2m28 0h1m66 0h2m114 0h2m-325 1h1m50 0h1m86 0h3m-101 1h1m7 0h1m3 0h1m4 0h1m27 0h2m103 0h2m15 0h2m46 0h2m77 0h3m-389 1h1m46 0h1m57 0h1m14 0h1m119 0h2m-174 1h1m10 0h1m21 0h1m43 0h1m71 0h1m-206 1h1m17 0h1m15 0h1m1 0h1m33 0h1m54 0h2m16 0h2m11 0h1m145 0h2m-283 1h1m70 0h1m45 0h1m85 0h2m-145 1h1m46 0h1m9 0h1m11 0h2m31 0h2m60 0h2m-181 1h1m31 0h1m163 0h2m26 0h2m57 0h3m-300 1h1m43 0h1m178 0h2m44 0h3m36 0h3m-289 1h1m118 0h1m94 0h2m41 0h3m-322 1h1m80 0h1m2 0h1m9 0h1m5 0h2m46 0h2m87 0h2m44 0h2m-225 1h1m21 0h1m3 0h1m54 0h1m217 0h3m-374 1h1m10 0h1m7 0h1m74 0h1m73 0h1m6 0h2m31 0h2m-201 1h1m24 0h1m8 0h1m168 0h1m51 0h2m36 0h2m-288 1h1m171 0h1m23 0h1m93 0h3m-269 1h1m35 0h1m-39 1h1m89 0h1m118 0h2m-257 1h1m8 0h1m181 0h2m90 0h2m-178 1h1m77 0h1m50 0h2m6 0h2m-211 1h1m27 0h1m72 0h1m13 0h1m13 0h1m62 0h2m13 0h2m-215 1h1m2 0h1m8 0h1m43 0h1m23 0h1m117 0h2m-156 1h1m7 0h1m14 0h1m56 0h1m34 0h1m-138 1h1m46 0h1m6 0h1m3 0h1m52 0h2m-86 1h1m10 0h1m6 0h1m-100 1h1m244 0h2m-130 1h1m34 0h1m32 0h1m16 0h2m10 0h2m57 0h2m-276 1h1m76 0h1m215 0h2m88 0h3m-328 1h1m42 0h1m7 0h1m25 0h1m4 0h1m52 0h2m92 0h2m-266 1h1m56 0h1m18 0h1m87 0h2m-168 1h1m52 0h1m37 0h1m65 0h2m6 0h1m35 0h2m-193 1h1m5 0h1m2 0h1m15 0h1m130 0h2m-154 1h1m10 0h1m5 0h1m8 0h1m121 0h1m-158 1h1m9 0h1m4 0h1m16 0h1m21 0h1m1 0h1m98 0h2m32 0h2m-113 1h1m45 0h1m30 0h2m4 0h2m24 0h2m-207 1h1m3 0h1m52 0h1m20 0h1m176 0h2m-195 1h1m39 0h1m23 0h1m46 0h2m89 0h2m-251 1h1m130 0h1m51 0h2m81 0h2m70 0h3m-340 1h1m10 0h1m40 0h1m33 0h1m8 0h1m102 0h2m26 0h1m-247 1h1m16 0h1m13 0h1m33 0h1m44 0h2m198 0h2m-212 1h1m53 0h2m6 0h2m40 0h2m34 0h2m-165 1h1m4 0h1m54 0h1m38 0h1m-93 1h1m37 0h1m41 0h1m5 0h1m25 0h1m-207 1h1m316 0h3m-297 1h1m5 0h1m1 0h1m3 0h1m55 0h1m25 0h1m199 0h3m-217 1h1m9 0h1m147 0h2m74 0h2m-286 1h1m163 0h2m-178 1h1m3 0h1m45 0h1m160 0h2m15 0h2m102 0h2m-179 1h2m1 0h2m188 0h3m-362 1h1m47 0h1m51 0h2m148 0h2m-105 1h1m-179 1h1m17 0h1m17 0h1m76 0h1m195 0h2m71 0h2m-371 1h1m50 0h1m28 0h1m13 0h1m54 0h2m27 0h2m6 0h1m116 0h2m10 0h2m20 0h3m-312 1h1m20 0h1m2 0h1m45 0h1m64 0h2m77 0h2m41 0h2m-280 1h1m58 0h1m13 0h1m8 0h1m6 0h1m6 0h1m27 0h2m19 0h2m226 0h3m-283 1h1m86 0h2m56 0h2m111 0h3m-259 1h1m41 0h1m-153 1h1m39 0h1m71 0h1m16 0h1m47 0h2m3 0h1m11 0h1m5 0h2m-51 1h1m28 0h2m156 0h2m48 0h3m-342 1h1m65 0h1m207 0h2m-319 1h1m29 0h1m16 0h1m168 0h2m22 0h2m-226 1h1m93 0h2m94 0h1m105 0h2m3 0h2m-267 1h1m15 0h1m28 0h1m16 0h1m127 0h2m61 0h2m-237 1h1m30 0h1m3 0h1m44 0h1m154 0h2m-289 1h1m9 0h1m308 0h2m8 0h2m-250 1h1m212 0h2m-286 1h1m41 0h1m26 0h1m42 0h1m157 0h2m-303 1h1m41 0h1m36 0h1m9 0h1m149 0h2m69 0h3m-265 1h1m27 0h1m67 0h1m8 0h1m56 0h2m80 0h2m43 0h3m-262 1h1m92 0h2m44 0h2m41 0h2m51 0h2m-305 1h1m-13 1h1m129 0h1m163 0h2m-273 1h1m20 0h1m183 0h2m66 0h3m-290 1h1m74 0h1m20 0h1m5 0h1m3 0h2m261 0h3m-371 1h1m4 0h1m72 0h1m11 0h1m13 0h1m20 0h1m11 0h2m3 0h2m233 0h3m-383 1h1m15 0h1m73 0h1m71 0h1m8 0h1m44 0h2m143 0h2m-347 1h1m87 0h1m23 0h1m7 0h2m119 0h2m-259 1h1m36 0h1m2 0h1m61 0h1m207 0h2m-243 1h1m29 0h1m-112 1h1m179 0h1m25 0h1m122 0h3m-294 1h1m56 0h1m16 0h1m71 0h2m28 0h2m-208 1h1m46 0h1m59 0h1m136 0h2m-226 1h1m87 0h1m79 0h2m161 0h3m-201 1h2m8 0h1m45 0h2m-212 1h1m9 0h1m129 0h1m151 0h2m-292 1h1m18 0h1m284 0h2m5 0h2m25 0h2m-333 1h1m95 0h1m1 0h1m45 0h1m46 0h2m2 0h1m127 0h3m-312 1h1m13 0h1m7 0h1m53 0h1m2 0h1m-18 1h1m227 0h2m-290 1h1m32 0h1m45 0h1m109 0h2m-195 1h1m68 0h1m4 0h1m221 0h3m-305 1h1m58 0h1m28 0h1m15 0h1m50 0h1m46 0h2m157 0h3m-378 1h1m26 0h1m187 0h1m86 0h3m4 0h3m-316 1h1m136 0h1m42 0h2m42 0h2m-181 1h1m3 0h1m53 0h1m1 0h1m-103 1h1m47 0h1m23 0h1m8 0h1m3 0h1m53 0h1m42 0h1m188 0h3m-352 1h1m179 0h2m19 0h1m152 0h3m-369 1h1m86 0h1m3 0h1m32 0h1m30 0h2m15 0h1m90 0h2m28 0h3m-295 1h1m30 0h1m57 0h1m-67 1h1m17 0h1m70 0h2m46 0h2m-98 1h1m69 0h2m17 0h1m15 0h2m-184 1h1m107 0h1m-107 1h1m86 0h1m25 0h2m49 0h1m18 0h2m-32 1h1m26 0h2m15 0h2m93 0h2m-243 1h1m51 0h1m48 0h1m-72 1h1m68 0h2m-120 1h1m66 0h1m23 0h2m23 0h2m138 0h2m-223 1h1m42 0h1m-117 1h1m11 0h1m1 0h1m96 1h1m7 0h2m64 0h1m30 0h2m55 0h2m12 0h2m-286 1h1m1 0h1m17 0h1m10 0h1m71 0h1m191 0h2m-299 1h1m131 0h1m54 0h1m14 0h2m-147 1h1m27 0h1m72 0h1m25 0h1m-178 1h1m92 0h1m177 0h2m104 0h3m-377 1h1m4 0h1m119 0h2m120 0h2m4 0h2m17 0h2m-268 1h1m98 0h1m-56 1h1m133 0h2m-87 1h2m61 0h1m-121 1h1m71 0h1m69 0h2m50 0h2m97 0h2m-350 1h1m96 0h1m127 0h2m89 0h2m-296 1h1m21 0h1m23 0h1m26 0h1m22 0h1m-67 1h1m28 0h1m1 0h1m64 0h1m19 0h1m19 0h2m168 0h2m-333 1h1m1 0h1m123 0h2m65 0h2m136 0h2m-344 1h1m182 0h3m-160 1h1m83 0h1m30 0h1m50 0h2m-159 1h1m172 0h1m96 0h2m-305 1h1m24 0h1m45 0h1m104 0h2m-178 1h1m72 0h1m21 0h1m11 0h1m15 0h1m113 0h2m-230 1h1m19 0h1m212 0h2m-216 1h1m32 0h1m9 0h1m67 0h1m4 0h2m33 0h2m14 0h2m143 0h2m-328 1h1m60 0h1m70 0h1m34 0h1m-155 1h1m20 0h1m7 0h1m212 0h2m-274 1h1m130 0h1m61 0h2m113 0h2m-178 1h1m12 0h1m88 0h2m49 1h2m88 0h3m-369 1h1m65 0h1m19 0h1m125 0h2m105 0h2m-188 1h1m83 0h2m64 0h2m12 0h2m-319 1h1m17 0h2m86 0h1m136 0h2m65 0h2m2 0h3m-230 1h1m19 0h1m37 0h2m9 0h1m7 0h1m49 0h2m-204 1h1m37 0h1m80 0h1m13 0h2m-99 1h1m88 0h1m122 0h2m-262 1h1m37 0h1m35 0h1m10 0h1m3 0h1m77 0h1m166 0h2m-327 1h1m29 0h1m45 0h1m38 0h1m189 0h3m-320 1h1m112 0h1m21 0h1m184 0h2m27 0h3m-160 1h1m-190 1h1m31 0h1m148 0h2m42 0h2m-187 1h1m96 0h1m18 0h1m24 0h2m31 0h2m7 0h2m-142 1h1m4 0h1m79 0h1m177 0h3m26 0h3m11 0h3m-317 1h1m11 0h1m105 0h2m5 0h1m95 0h2m-272 1h1m5 0h2m28 0h1m56 0h1m5 0h1m21 0h1m166 0h3m-296 1h1m25 0h1m231 0h2m-209 1h1m136 0h4m-183 1h1m25 0h1m170 0h1m4 0h2m53 0h3m61 0h3m10 0h3m8 0h3m8 0h3m-214 1h2m4 0h2m206 0h3m-297 1h1m49 0h2m16 0h1m128 0h2m-286 1h1m227 0h1m-219 1h1m118 0h1m-93 1h1m4 0h1m75 0h1m42 0h2m125 0h2m-301 1h1m109 0h1m3 0h1m75 0h2m9 0h2m180 0h3m-386 1h1m31 0h2m121 0h1m45 0h2m151 0h3m-350 1h1m4 0h1m143 0h1m127 0h2m-238 1h1m49 0h1m11 0h1m3 0h1m49 0h2m-157 1h1m1 0h1m24 0h1m55 0h1m272 0h2m-339 1h1m15 0h1m142 0h2m76 0h2m50 0h5m20 0h2m-312 1h1m74 0h1m6 0h1m180 0h2m42 0h3m-325 1h1m115 0h1m30 0h2m-131 1h1m2 0h1m97 0h1m59 0h2m58 0h1m135 0h3m-335 1h1m40 0h1m14 0h1m73 0h3m72 0h4m-262 1h1m82 0h1m159 0h2m15 0h2m46 0h2m-234 1h1m-42 1h1m3 0h1m3 0h1m91 0h1m4 0h1m3 0h1m145 0h2m18 0h3m-299 1h1m2 0h1m4 0h1m61 0h1m80 0h2m7 0h2m103 0h2m-270 1h1m8 0h1m59 0h1m14 0h1m93 0h2m159 0h2m-342 1h1m40 0h1m23 0h1m44 0h1m9 0h2m33 0h2m37 0h1m14 0h2m-216 1h1m96 0h1m247 0h2m6 0h2m-326 1h1m125 0h1m72 0h2m-236 1h1m85 0h1m227 0h2m-264 1h1m59 0h1m-110 1h1m3 0h1m40 0h1m25 0h1m289 0h3m-293 1h1m276 0h2m-357 1h1m39 0h1m79 0h1m197 0h2m-269 1h1m117 0h1m56 0h2m9 0h1m12 0h2m-160 1h1m16 0h1m164 0h2m111 1h3m-376 1h1m8 0h1m284 0h3m-248 1h1m135 0h2m-155 1h1m12 0h1m27 0h1m87 0h1m18 0h2m97 0h2m-188 1h1m157 0h2m101 0h3m-349 1h1m45 0h1m51 0h1m221 0h3m31 0h3m11 0h3m-357 1h1m36 0h1m108 0h2m88 0h2m-207 1h1m26 0h1m19 0h1m67 0h2m23 0h2m102 0h2m77 0h3m-392 1h1m17 0h1m13 0h1m86 0h1m-110 1h1m43 0h1m40 0h1m62 0h2m169 0h2m3 0h2m18 0h2m-295 1h1m87 0h2m5 0h1m39 0h2m-165 1h1m23 0h1m81 0h1m165 0h2m-301 1h1m9 0h1m87 0h1m55 0h1m156 0h2m-313 1h1m9 0h1m103 0h1m-95 1h1m11 0h1m3 0h1m18 0h1m122 0h2m3 0h1m66 0h2m128 0h3m-270 1h1m86 0h2m126 0h2m-223 1h1m-113 2h1m1 0h1m188 0h1m65 0h2m-256 1h1m86 0h1m13 0h1m75 0h2m-127 1h1m65 0h1m-50 1h1m144 0h2m44 0h2m-169 1h1m79 0h1m69 0h2m9 0h2m4 0h2m2 0h3m-259 1h1m2 0h1m41 0h1m1 0h1m37 0h1m18 0h1m66 0h1m205 0h3m-355 1h1m66 0h1m108 0h1m42 0h2m-262 1h1m49 0h1m68 0h1m98 0h2m-198 1h1m26 0h1m63 0h1m38 0h1m-140 1h1m74 1h1m-67 1h1m68 0h1m93 0h2m-62 1h1m61 0h1m112 0h2m28 0h3m25 0h2m19 0h3m-358 1h1m4 0h1m45 0h1m1 0h2m9 0h1m11 0h1m6 0h1m3 0h1m3 0h1m32 0h1m6 0h1m5 0h1m6 0h1m53 0h2m19 0h2m25 0h2m110 0h2"/>
<path stroke="#33628d" d="M286 59.5h2m-167 1h1m75 0h1m73 0h1m5 0h1m161 0h2m24 1h3m-273 1h1m10 0h1m26 0h1m96 0h2m142 0h3m-386 1h1m89 0h1m123 0h1m91 0h2m-20 1h2m23 0h2m20 0h3m-306 1h1m85 0h1m68 0h2m134 0h2m47 0h2m-299 1h1m3 0h1m52 0h1m38 0h1m30 0h1m-44 1h2m174 0h3m-241 1h1m26 0h1m-65 1h1m274 0h3m-30 1h3m-300 1h1m89 0h1m49 0h1m-136 1h1m2 0h1m67 0h1m4 0h1m131 0h2m-80 1h1m132 0h2m-269 1h1m46 0h1m42 0h1m84 0h2m-164 1h1m68 1h1m2 0h1m150 0h2m93 0h2m-337 1h1m162 1h1m26 0h2m90 0h2m-297 1h1m59 0h1m28 0h1m17 0h1m151 0h2m72 0h2m-286 1h1m142 0h2m-116 1h1m24 0h1m207 0h2m61 0h3m-346 1h1m157 0h2m3 0h1m-97 2h1m37 0h1m46 0h2m23 0h2m25 0h1m109 1h3m21 0h2m-333 1h1m42 0h1m17 0h1m204 0h2m29 1h3m-202 1h1m-55 2h1m53 0h1m-106 1h1m54 0h1m68 1h1m-159 1h1m111 0h1m275 0h3m-359 1h1m173 0h2m113 0h2m-259 1h1m61 0h1m22 0h1m36 0h2m91 0h2m15 0h2m-262 1h1m96 0h1m151 0h2m41 0h3m-218 1h1m8 0h1m28 1h2m41 0h1m28 1h2m131 0h2m-349 1h1m10 0h1m111 0h1m6 0h1m248 0h3m-374 1h1m53 0h1m94 0h1m-85 1h1m132 0h1m96 0h2m60 0h3m-329 1h1m198 0h2m-243 1h1m3 0h1m27 0h1m11 0h1m125 0h1m31 0h2m-202 1h1m81 0h1m101 0h2m55 0h2m61 0h2m-218 1h1m45 0h2m129 0h2m-159 1h1m25 0h3m-109 1h1m119 0h2m89 0h2m43 0h2m-269 1h1m365 0h3m-286 3h1m96 0h1m-91 1h1m203 0h2m48 0h3m-281 1h1m17 0h1m45 0h1m165 0h2m38 0h3m-8 1h2m-282 1h1m14 0h1m3 0h1m27 0h1m-113 1h1m173 0h1m6 0h2m-95 1h1m89 0h2m-96 1h1m89 0h1m12 0h2m-174 1h1m96 0h1m49 0h1m20 0h1m182 0h3m-336 1h1m68 0h1m49 0h2m-120 1h1m41 0h1m-53 1h1m43 0h1m36 0h1m216 0h3m-299 1h1m9 0h1m35 0h1m3 0h1m3 0h2m39 0h1m195 0h3m-180 1h2m-145 1h1m7 0h2m19 0h1m37 0h1m11 0h1m3 0h1m93 0h1m5 0h1m93 0h2m-107 1h2m4 0h2m80 0h2m-221 1h1m41 0h1m206 0h2m-280 1h1m4 0h1m44 0h1m14 0h1m7 0h1m75 0h1m-160 1h1m192 0h2m169 0h3m-360 1h1m124 0h2m41 0h1m147 0h3m-319 1h1m88 0h1m-23 1h1m147 0h2m-175 1h1m30 0h1m22 0h1m161 0h2m4 0h2m-238 1h1m62 0h1m56 0h1m26 0h2m22 0h2m130 0h3m-295 1h1m291 0h3m-245 1h1m2 0h1m3 0h1m31 0h1m187 0h3m-244 1h1m13 0h1m249 0h2m-306 1h1m-36 1h1m97 0h1m30 0h1m-12 1h1m-28 1h1m-77 2h1m59 0h1m17 0h1m31 0h2m202 0h2m-337 1h1m6 0h1m45 0h1m36 0h1m6 0h1m244 0h3m10 1h3m-320 1h1m42 0h1m163 0h2m54 0h2m63 0h3m-353 1h1m6 0h1m23 0h1m156 0h1m161 0h3m-381 1h1m58 0h1m65 0h1m-99 1h1m171 0h2m2 0h1m-41 1h1m42 0h1m92 0h2m16 0h3m-234 1h1m26 0h1m-79 1h1m21 0h1m28 0h1m29 0h1m272 0h3m-367 1h1m68 0h1m45 0h1m29 0h1m13 0h2m-176 1h1m19 0h1m10 0h1m75 0h1m-65 1h1m83 0h2m41 0h1m22 0h1m40 0h2m-193 1h1m252 0h2m-271 1h1m101 0h1m-48 1h1m249 0h2m-334 1h1m-11 1h1m19 0h1m22 0h1m15 0h1m40 0h1m15 0h1m63 0h1m75 0h1m132 0h3m-383 1h1m15 0h1m98 0h1m-10 1h1m273 0h3m-312 1h1m2 0h1m100 0h2m47 0h2m-226 1h1m1 0h1m100 0h1m44 0h2m175 0h3m-226 1h1m5 0h1m4 0h1m34 0h2m173 0h2m33 0h3m8 0h3m-358 1h1m180 0h2m183 0h3m-325 1h1m127 0h1m97 0h2m22 0h3m69 0h3m-171 1h2m111 0h3m-306 1h1m24 0h1m27 0h1m2 0h1m18 0h1m121 0h2m-202 1h1m20 0h1m33 0h1m58 0h1m-52 1h1m10 0h1m96 0h2m-15 1h1m89 0h2m37 0h2m-227 1h1m5 0h1m4 0h1m53 0h1m154 0h3m-286 1h1m47 0h1m223 0h2m48 0h3m-255 1h1m14 0h1m79 0h1m83 0h2m-191 1h1m202 0h3m-263 1h1m226 0h2m-210 2h1m79 0h1m-125 1h1m89 1h1m21 0h1m86 0h2m-114 2h1m19 0h1m-100 1h1m133 0h1m12 0h1m23 0h2m4 0h2m32 0h2m111 0h2m-328 1h1m23 0h1m42 0h1m186 1h2m-225 1h1m9 0h1m38 0h1m6 0h1m68 0h1m224 0h3m-208 1h2m-46 1h2m222 0h3m-359 1h1m80 0h1m44 0h2m171 0h3m-238 1h1m9 0h1m115 0h2m3 0h1m-166 1h1m108 0h1m-66 1h1m4 0h1m258 0h5m-317 1h1m-27 1h2m252 0h2m-173 1h1m3 0h1m107 0h1m108 1h2m-127 1h2m157 0h3m-348 1h1m95 0h1m65 0h1m-143 1h1m71 0h1m18 0h1m29 0h1m-32 1h1m11 0h1m34 0h2m-79 1h1m66 0h1m161 0h2m39 0h3m-278 1h1m71 0h1m-146 1h1m385 0h3m-371 1h1m73 0h1m7 0h1m36 0h2m-103 1h1m2 0h1m49 0h1m13 0h1m-71 1h1m121 0h2m121 0h2m-250 1h1m36 0h1m5 0h1m14 0h1m11 0h1m2 0h1m45 0h1m191 0h2m-303 1h1m39 0h1m3 0h1m-88 1h1m52 0h1m93 0h1m5 0h1m60 0h2m101 0h2m-294 1h1m11 0h1m5 0h1m40 0h1m222 0h3m-260 1h1m30 0h1m296 0h2m-342 1h1m290 0h2m-244 1h2m33 0h1m11 0h2m-122 2h1m62 0h1m32 0h1m261 0h3m-348 1h1m29 0h1m33 0h2m-2 1h1m-59 1h1m67 0h1m10 0h1m39 0h1m4 1h3m-12 1h1m32 0h2m6 0h1m-180 1h1m4 0h1m62 0h1m82 0h2m-159 1h1m22 0h1m67 1h1m7 0h1m89 0h3m118 0h3m17 0h2m28 0h3m-255 1h1m23 0h1m157 0h2m18 0h3m17 0h2m15 0h3m32 0h3m-237 1h1m56 0h2m-207 1h1m16 0h1m5 0h1m10 0h1m106 0h2m16 0h1m54 0h2m-189 1h1m25 0h1m34 0h1m64 0h1m0 2h2m41 0h2m148 0h3m-335 1h1m17 0h1m49 0h1m79 0h1m-100 1h1m30 0h1m280 0h3m-339 1h1m34 0h1m60 0h2m50 0h1m-108 1h1m127 0h1m-143 1h1m17 0h1m9 0h1m14 0h1m236 0h3m-353 1h1m88 0h1m129 0h1m-207 1h2m7 0h1m54 0h1m2 0h1m-56 1h1m32 0h1m4 0h1m24 0h1m16 0h1m4 0h1m180 0h2m-204 1h1m90 0h2m1 0h2m34 0h1m-178 1h2m30 0h1m40 0h1m57 0h1m-158 1h1m95 0h1m212 0h3m-259 1h1m307 0h2m-293 1h1m99 0h2m19 0h1m-208 1h1m108 0h1m5 0h1m64 0h2m4 0h2m-93 1h1m9 0h1m79 0h1m-111 1h1m50 0h2m133 0h2m7 0h2m61 0h2m-249 1h1m135 0h2m-142 1h1m10 0h1m-95 1h1m182 0h1m-175 1h1m97 0h1m4 0h1m44 0h1m50 0h1m18 0h1m136 0h3m-355 1h1m39 0h1m11 0h1m28 0h1m12 0h1m7 0h1m17 0h1m129 0h2m-189 1h1m23 0h1m2 0h1m55 0h2m-119 1h1m27 0h1m32 0h1m286 0h3m-372 1h1m75 0h1m39 0h1m222 0h3m-226 1h1m116 0h1m38 0h2m-259 1h1m51 0h1m25 0h1m53 0h1m-101 1h1m16 0h1m47 0h1m242 0h3m-266 1h1m-24 1h1m259 0h2m-319 1h1m173 0h2m-154 1h1m33 0h1m103 0h1m121 0h3m34 0h3m-297 1h1m59 0h2m94 0h1m-217 1h1m35 0h1m179 0h1m50 0h2m85 0h3m-325 1h1m45 0h1m116 0h1m193 0h3m-259 1h1m12 0h1m170 0h3m-293 1h1m69 0h1m12 0h1m7 0h1m-30 1h1m20 0h1m4 0h1m1 0h1m42 0h3m54 1h2m173 0h3m-367 1h1m88 1h1m99 0h2m-157 1h1m46 0h1m67 0h1m187 0h2m25 0h3m-386 1h1m22 0h1m133 0h1m-156 1h1m70 0h1m15 0h1m21 0h2m64 0h1m-187 2h1m45 0h1m4 0h1m37 0h1m254 0h3m-326 1h1m68 0h1m266 0h2m-349 1h1m8 0h1m71 0h1m4 0h1m149 0h2m109 0h2m-237 1h1m69 0h1m30 0h1m157 0h2m-361 2h1m160 0h1m-67 1h1m257 0h3m-372 1h1m23 0h1m185 0h1m4 0h2m-208 1h1m29 0h1m21 1h1m24 0h1m30 0h1m19 0h2m15 0h1m-134 1h1m1 0h1m-3 1h1m88 0h1m275 0h3m-305 1h1m-80 1h1m-9 1h1m15 0h1m120 0h1m54 0h1m-178 1h1m40 0h1m33 0h1m40 0h1m11 0h1m69 0h1m-197 1h1m71 0h1m96 0h1m-151 1h1m69 1h1m2 0h1m1 0h1m-93 1h1m11 0h1m82 0h1m117 0h2m-191 1h1m17 0h1m248 0h2m17 0h2m-251 1h1m84 0h2m42 0h2m19 0h2m-133 1h1m90 0h2m106 0h3m74 0h3m-287 1h1m3 0h1m104 0h1m-180 1h1m69 0h1m92 0h2m106 0h2m20 0h3m34 0h3m-348 1h1m92 0h1m113 0h1m-131 1h1m5 0h1m18 0h1m6 1h1m-48 1h1m10 0h1m54 0h2m70 0h2m15 0h2m92 0h2m-304 1h1m13 0h1m76 0h2m12 0h1m-83 1h1m56 0h1m37 0h1m17 1h1m138 0h2m-235 1h1m49 0h1m281 0h3m-315 1h1m2 0h1m29 0h1m6 0h2m200 0h2m-192 1h1m-31 1h1m56 0h1m-106 1h1m51 0h1m34 0h1m64 0h1m-135 1h1m42 0h2m31 0h2m57 0h2m67 0h2m79 0h2m-261 1h1m-56 1h1m8 0h1m104 0h2m25 0h2m-104 1h1m110 0h2m-136 1h1m20 0h1m11 0h1m10 0h1m6 0h2m34 0h1m173 0h2m35 0h2m11 0h3m-342 1h1m18 0h1m16 0h1m220 0h2m-231 1h1m126 0h1m170 0h2m-281 1h1m1 0h1m6 0h1m44 0h1m-104 1h1m186 0h1m-196 1h1m106 0h1m208 0h2m-313 1h1m58 0h1m26 0h1m-85 1h1m10 0h1m29 0h1m264 0h3m52 0h3m-269 1h2m117 0h2m51 0h2m16 0h2m74 0h3m-374 1h1m11 0h1m64 0h1m32 0h1m181 0h3m62 0h3m-369 1h1m25 0h1m148 0h2m151 0h2m-238 1h1m140 0h2m145 0h3m-264 1h1m30 0h1m29 1h1m9 0h2m34 0h2m-165 1h1m61 0h1m91 0h2m-213 1h1m240 0h1m-176 1h1m10 0h1m5 0h1m14 0h1m42 0h1m136 0h2m18 0h2m-248 1h1m40 0h1m1 0h1m53 0h2m217 0h3m-375 1h1m53 0h1m39 0h1m69 0h2m180 0h2m8 0h3m-240 1h2m28 0h3m26 0h3m107 1h2m91 0h3m-393 1h1m15 0h1m81 0h1m5 0h1m10 0h1m134 0h2m-235 1h1m28 0h1m29 0h1m27 0h1m64 0h1m49 0h2m53 0h2m-182 1h1m6 0h1m41 0h1m-124 1h1m140 0h1m8 0h2m68 0h2m148 0h3m-378 1h1m262 0h2m-121 1h2m113 0h2m49 0h2m-283 1h1m93 0h1m34 0h2m140 0h3m-218 1h1m52 0h1m43 0h2m62 0h2m-219 1h1m123 0h1m52 0h1m18 0h2m93 0h2m10 0h3m-335 1h1m73 0h1m64 0h1m39 0h2m-89 1h1m114 0h2m87 0h4m-48 1h2m-84 3h2m176 0h2m11 0h3m-314 1h1m72 0h1m179 0h2m-322 1h1m27 0h1m3 0h1m6 0h1m70 0h1m45 0h1m149 0h2m-288 1h1m357 0h3m-334 1h1m25 0h1m110 0h2m187 0h2m14 0h3m-193 1h2m38 1h1m-218 1h1m22 0h1m44 0h1m65 1h1m14 0h1m45 0h2m98 0h3m63 0h3m-358 1h1m17 0h1m-35 2h1m7 0h1m70 0h1m41 0h1m-125 1h1m146 0h1m23 0h1m-168 1h1m51 0h1m73 0h1m37 0h1m-159 1h1m160 0h1m-148 1h1m58 0h1m66 0h1m29 0h1m-163 1h2m0 1h1m187 0h2m-190 1h1m2 0h1m72 0h1m209 0h2m-282 1h1m3 0h1m270 0h3m-230 1h1m-4 3h1m128 0h2m63 0h4m111 0h3m-383 1h1m3 0h1m134 0h2m9 0h1m-100 1h1m187 0h2m58 1h2m34 0h3m-123 1h2m-216 1h1m1 0h1m78 0h1m22 0h1m165 0h2m-172 1h1m5 0h1m69 0h1m8 0h1m148 0h3m-186 1h2m106 0h2m24 0h2m-215 1h1m15 0h1m24 0h1m17 0h1m32 0h1m67 0h2m137 1h2m-277 1h1m44 1h1m8 0h1m-74 1h1m76 1h3m66 0h2m-229 1h1m21 0h1m61 0h1m-40 1h1m90 0h1m49 0h1m74 0h2m68 0h2m50 0h3m-369 1h1m22 0h1m101 0h2m85 0h2m76 0h2m-207 1h1m1 1h1m-46 1h1m44 0h1m32 0h2m48 0h2m3 0h1m-140 1h1m49 0h1m82 0h1m100 0h2m20 0h2m15 0h2m-331 1h1m47 0h1m224 0h2m-251 1h1m90 0h1m44 0h1m180 0h3m-206 2h1m44 0h1m-182 1h1m59 0h1m304 0h3m-339 2h1m57 0h1m9 0h1m207 0h3m-311 2h1m33 0h1m15 0h1m86 0h1m27 0h1m138 0h2m14 0h2m-197 1h1m15 0h2m50 0h1m-186 1h1m70 0h1m285 1h3m22 0h3m-389 1h1m11 0h1m50 0h1m20 0h1m19 0h1m275 0h3m-390 1h1m19 0h1m66 0h1m195 0h2m91 0h3m-214 1h2m55 0h2m36 0h2m117 1h3m-279 1h1m60 2h1m173 0h2m-219 2h2m17 0h1m194 0h3m-318 1h1m121 0h1m212 0h3m13 0h3m16 0h3m-353 1h1m93 0h1m142 0h2m19 0h2m-275 1h1m69 0h1m8 0h1m172 0h2m21 0h2m91 0h3m-318 1h1m311 1h3m-392 1h1m23 1h1m8 0h1m73 0h1m4 0h1m83 0h2m3 0h2m180 0h3m-352 1h1m51 0h1m21 0h1m1 0h1m98 0h2m-24 1h2m106 0h2m-291 1h1m90 0h1m4 0h1m6 0h1m45 0h2m6 0h1m84 0h2m6 0h1m75 0h2m18 0h2m5 0h3m3 0h2m3 0h3"/>
<path stroke="#2e6e8e" d="M97 59.5h1m190 0h1m-78 1h1m118 0h2m-227 1h1m20 0h1m43 0h1m3 1h1m74 0h1m-29 1h1m136 0h2m-269 1h1m33 1h1m20 1h1m3 0h1m115 0h2m-95 1h1m158 2h2m-240 3h1m186 0h2m114 0h2m-317 2h1m100 1h1m-60 1h1m258 0h3m63 1h3m-181 1h1m-141 1h1m234 0h2m34 0h2m-200 1h1m14 0h2m171 0h3m44 1h2m-287 1h1m217 0h3m-225 1h1m97 0h1m-106 2h1m41 0h1m148 0h2m-226 1h1m2 0h1m346 0h3m-345 1h1m3 0h1m5 0h1m44 0h1m-53 1h1m159 1h2m188 0h3m-348 1h1m338 0h3m-299 1h1m78 0h1m-60 1h1m48 0h1m-47 1h1m81 0h1m-86 1h1m182 0h3m-207 1h1m28 0h2m-72 1h1m-46 1h1m110 0h1m198 0h3m34 0h2m43 0h3m-375 1h1m244 0h2m-158 1h1m91 0h2m-192 1h1m43 0h1m1 0h1m138 0h2m-170 4h1m158 1h2m80 0h2m-244 1h1m133 0h2m-72 1h1m17 0h1m8 0h1m22 0h1m82 0h2m128 0h3m-356 1h1m90 0h1m236 0h3m-325 1h1m20 0h1m86 0h1m185 0h3m-226 2h1m37 0h1m-89 2h1m-11 1h1m97 1h1m57 0h1m157 0h2m-184 1h1m219 0h3m-328 3h1m274 0h2m-269 2h1m51 0h1m60 1h1m170 0h2m-282 1h1m29 0h1m7 0h1m54 0h1m-15 1h1m205 0h2m45 0h3m-383 1h1m17 0h1m81 0h1m210 1h2m67 1h3m-294 1h1m87 0h1m3 0h2m-91 1h1m-84 1h1m184 0h1m50 0h2m-196 2h1m41 0h1m275 0h3m-364 1h1m2 0h1m71 0h1m12 0h1m4 0h1m117 0h2m-52 1h2m64 0h2m146 1h3m-395 2h1m108 0h1m47 0h2m11 0h1m161 0h2m23 0h2m-331 1h1m43 0h1m19 0h1m10 0h1m11 0h1m1 0h1m1 0h1m21 1h1m168 0h3m-287 1h1m87 0h1m5 1h2m-116 1h1m84 0h1m21 0h1m2 1h1m189 0h2m-267 1h1m40 0h1m3 0h1m-82 1h1m220 0h2m-183 1h1m24 0h1m28 0h1m6 0h1m4 0h1m-66 1h1m7 0h1m37 0h1m-93 1h1m10 0h1m6 0h1m67 0h1m53 0h1m-34 1h1m2 0h1m133 0h2m-218 1h1m82 0h1m31 0h2m139 0h2m-207 1h1m12 0h1m123 0h1m-171 1h1m8 0h1m32 2h1m281 0h3m-359 1h1m12 0h1m6 0h1m113 0h2m10 0h1m134 1h2m78 0h3m-339 2h1m27 0h1m16 0h1m7 0h1m90 0h1m-77 2h1m16 0h1m-20 1h1m49 0h1m-141 1h1m111 0h1m14 0h1m99 0h2m142 0h3m-389 2h1m18 0h1m95 1h1m-1 1h1m47 0h1m-155 2h1m90 1h1m98 0h2m-123 1h1m3 0h1m58 0h1m228 0h3m-288 1h1m12 0h1m42 0h1m112 0h2m-149 1h1m-49 1h1m44 0h1m-21 1h1m10 0h1m14 0h1m202 0h2m-270 1h1m160 0h1m-126 1h1m134 0h1m48 0h2m-232 1h1m59 0h1m10 0h1m34 0h1m45 0h2m15 0h2m5 0h1m-123 1h1m122 0h2m164 0h3m-71 1h3m-206 1h1m2 0h1m-25 1h1m-8 1h1m55 0h1m15 0h1m16 0h2m-158 1h1m5 1h1m96 0h1m79 0h1m105 0h3m-256 1h1m37 0h1m100 0h2m197 0h3m-288 1h1m225 0h2m-245 1h1m3 0h1m16 0h1m251 0h2m-270 1h1m105 0h1m193 0h3m-382 1h1m239 0h2m-228 1h1m117 0h1m-60 2h1m27 0h1m132 0h2m-144 1h1m3 1h1m-45 2h1m19 0h1m9 0h1m12 0h1m189 0h2m-242 1h1m31 0h1m13 0h1m11 0h1m-52 1h1m19 0h1m-34 1h1m51 0h1m-102 2h1m56 0h1m33 0h1m207 1h2m-291 1h1m80 1h1m101 0h2m118 1h2m71 0h3m-273 1h1m-90 1h1m23 0h1m128 0h1m143 0h3m35 0h3m-352 1h1m203 0h2m96 0h2m-231 1h1m305 0h3m-280 1h1m254 0h3m5 0h3m-300 1h1m31 0h1m187 0h3m-247 1h1m24 0h1m26 0h1m244 0h3m-245 1h1m-21 1h1m222 0h2m53 0h3m-355 1h1m23 0h1m35 0h1m27 0h2m27 0h1m256 0h3m-325 1h1m-62 1h1m194 0h2m55 1h2m-155 1h1m2 0h1m1 0h1m2 0h1m99 0h1m-157 1h1m19 0h1m5 0h1m-9 1h1m80 0h1m-60 1h1m47 0h2m-72 2h1m26 0h1m-64 1h1m49 0h1m17 0h1m98 0h2m82 0h2m18 0h2m-144 1h1m85 1h2m19 0h2m-182 1h1m100 0h2m-90 1h1m39 0h1m49 0h2m1 0h2m-128 1h1m3 0h1m124 0h2m125 0h3m-258 1h1m84 0h2m37 0h1m-195 1h1m179 0h1m5 0h3m3 0h2m-127 1h1m132 0h2m106 0h3m-232 1h1m120 0h2m69 0h2m-168 1h1m44 0h1m35 0h1m-142 1h1m152 0h2m41 0h2m121 0h2m-289 1h1m37 0h1m62 0h2m1 0h2m-135 1h1m52 0h1m29 0h1m66 0h2m2 0h1m-140 1h1m116 0h1m11 0h2m1 0h2m-135 1h1m38 0h2m203 0h2m12 0h3m-250 1h1m8 0h1m95 0h3m69 0h2m88 0h3m21 0h2m-289 1h2m19 0h1m144 0h2m-237 1h1m83 0h1m188 0h3m74 0h3m-349 1h1m161 0h1m2 1h1m-158 1h1m235 0h2m-177 1h1m24 0h1m9 0h1m-123 2h1m85 0h1m102 0h1m146 0h3m20 0h3m-267 1h1m214 0h2m47 0h3m10 0h3m-369 1h1m14 0h1m21 0h2m141 2h1m123 2h2m-180 1h1m50 0h1m-137 1h1m264 0h2m-214 1h1m76 0h1m6 0h2m-178 1h1m63 0h1m23 0h1m-1 1h1m30 0h2m-108 1h1m112 0h2m62 0h2m186 0h3m-269 1h1m109 0h2m-36 1h2m109 0h3m-274 2h1m52 0h1m10 0h1m-44 1h1m119 0h1m31 0h2m-99 1h1m68 0h2m153 0h3m-333 1h1m26 0h1m222 0h2m2 0h2m-176 1h1m25 0h1m48 0h2m223 0h3m-131 1h2m59 0h2m-44 1h2m22 0h2m-224 1h1m1 0h1m33 0h1m22 0h1m138 0h2m75 0h2m-253 1h1m3 0h1m4 0h1m145 0h2m6 0h2m11 0h2m-235 1h1m30 0h1m186 1h2m2 0h3m21 1h2m89 0h3m-310 1h1m6 0h1m-2 1h1m27 0h1m-13 1h1m7 0h1m14 0h1m-10 1h1m95 0h1m-110 1h1m280 0h3m-85 2h3m-220 1h1m-74 1h1m74 0h1m100 0h2m-81 1h1m152 0h2m23 1h2m87 0h3m-276 1h1m-24 1h1m36 0h1m272 0h3m-346 1h1m119 0h1m-161 1h1m80 0h1m218 0h2m-222 1h1m6 0h1m8 0h1m14 0h1m98 0h1m29 0h2m45 0h2m-100 1h1m20 0h1m145 1h3m13 0h3m-292 1h1m6 0h1m-70 1h1m63 0h1m91 2h1m173 0h2m-242 1h1m1 0h1m245 0h2m25 0h3m-281 1h1m65 0h3m36 0h2m-176 1h1m101 0h1m217 0h2m-255 1h1m4 0h1m25 0h2m12 0h2m30 0h1m177 0h3m19 0h3m-364 1h1m13 0h1m178 0h2m97 0h2m27 1h3m-265 1h1m225 0h2m-222 1h1m86 0h1m-179 1h1m91 2h1m2 0h1m12 0h1m3 0h1m2 0h1m-88 1h1m-13 1h1m202 1h2m16 0h1m-206 1h1m77 0h1m111 0h2m116 0h2m26 0h3m10 0h3m-357 2h1m84 0h1m234 0h3m-339 1h1m70 0h1m14 0h1m80 0h1m23 1h2m180 0h3m-361 2h1m17 0h1m45 0h1m174 0h2m-258 1h1m377 0h3m-310 1h1m36 0h1m173 0h2m-193 1h1m15 0h1m-12 2h1m-2 1h1m-80 1h1m53 0h1m5 0h1m1 0h1m-51 1h1m54 0h1m1 0h1m-7 1h1m125 1h1m-198 1h1m57 0h1m-18 1h1m99 0h3m-52 2h1m83 0h1m-173 2h1m26 1h1m65 0h1m23 0h1m66 1h2m-95 1h1m1 0h1m20 0h2m244 0h3m-304 1h1m274 0h2m-5 2h3m-158 1h2m-96 1h1m20 0h1m153 1h2m-226 3h1m23 0h1m36 0h1m19 0h2m-106 3h1m19 0h1m22 1h1m216 0h2m20 0h2m50 0h3m19 0h3m-381 1h1m45 0h1m123 1h2m10 0h2m164 0h3m-360 1h1m30 0h1m38 0h1m8 0h1m310 0h3m-324 1h1m147 0h2m162 1h3m-331 1h1m105 0h2m91 0h2m-26 1h1m144 0h3m-331 1h1m132 0h1m-136 1h1m4 0h1m64 0h1m-30 1h1m29 0h1m16 0h1m181 0h2m66 0h3m-347 1h1m105 0h1m-140 1h1m16 0h1m62 0h1m-59 1h1m94 0h1m92 0h1m46 0h2m-159 1h1m57 0h2m-73 1h1m21 0h1m45 0h2m127 0h3m24 0h3m58 0h3m-355 2h1m114 0h1m64 0h1m-94 1h1m-63 1h1m-6 2h1m92 3h1m246 0h3m-337 1h1m339 0h3m-14 1h2m-268 1h1m199 0h2m15 0h2m13 2h2m-133 1h1m-130 1h1m222 0h3m79 0h3m-309 1h1m178 0h2m116 0h3m3 1h3m-358 1h1m-2 2h1m89 0h1m268 1h3m-12 1h3m-211 2h2m215 0h3m-78 1h3m-211 1h1m249 0h3m-239 1h1m128 0h2m-183 1h1m54 0h1m144 0h3m27 0h3m-245 1h1m63 0h1m27 0h1m26 1h2m206 0h3m-183 1h1m179 0h3m-225 1h2m-147 1h1m64 0h1m221 0h2m-296 3h1m11 0h1m364 0h3m-153 2h1m-214 1h1m121 1h2m233 1h3m-205 1h2m-133 1h1m96 0h1m-116 1h1m123 1h1m23 0h1m-118 1h1m110 0h1m24 0h2m10 1h1m155 1h3m-71 1h2m-194 1h1m1 0h1m-107 1h1m157 0h2m161 0h3m-297 1h1m10 0h1m35 0h1m37 0h1m31 0h1m75 0h1m39 0h2m-256 3h1m35 0h1m56 0h1m234 1h2m26 0h2m-365 1h1m204 0h2m106 0h2m-242 1h1m71 0h1m-135 1h1m4 0h1m8 0h1m20 0h1m6 0h1m6 0h1m19 0h1m5 0h1m5 0h1m6 0h1m5 0h1m7 0h1m4 0h2m2 0h1m5 0h2m8 0h1m36 0h1m2 0h1m9 0h2m32 0h2m4 0h1m23 0h2m24 0h2m28 0h3m4 0h3m9 0h3m30 0h3"/>
<path stroke="#29798e" d="M110 59.5h2m-2 1h1m29 0h2m302 0h3m-284 1h1m-81 1h1m23 0h1m52 0h1m93 0h2m4 0h2m119 1h2m69 0h3m13 0h3m-370 2h1m295 0h2m-182 3h1m63 1h2m114 0h2m-108 1h2m-123 1h1m3 2h1m78 1h1m145 0h3m-206 1h1m-69 4h1m63 0h1m-2 1h1m-81 1h1m85 0h1m183 0h2m-228 1h1m133 0h2m-206 1h1m152 1h1m-78 1h1m100 2h1m76 0h2m-125 5h1m-124 3h1m14 4h1m67 2h1m-74 1h1m26 0h1m43 2h1m213 0h2m-304 2h1m92 1h1m10 0h1m-12 2h1m24 0h1m-31 1h1m11 0h1m215 0h2m-216 1h1m271 0h3m-328 1h1m31 0h1m251 0h2m42 1h2m-286 2h1m39 0h2m1 0h1m-51 1h1m-64 1h1m13 1h1m4 0h1m25 0h1m15 0h1m23 0h1m5 0h1m246 0h2m3 0h3m-341 1h1m1 0h1m230 1h2m-231 1h1m41 0h1m178 2h2m-145 1h1m-28 1h1m149 1h2m-50 1h1m75 0h2m-241 1h1m69 0h1m8 0h1m-81 1h1m79 1h1m10 0h1m47 0h2m-55 1h1m2 0h1m46 1h2m150 0h2m-305 1h1m98 0h1m164 0h2m-194 1h1m20 0h1m3 0h1m-90 1h1m69 0h1m27 0h1m-114 1h1m82 0h1m-70 1h1m64 0h1m5 0h1m19 0h1m250 0h3m-282 1h1m21 0h1m1 0h1m4 0h1m4 0h1m-87 1h1m305 2h3m20 1h2m30 0h3m-205 1h2m124 0h2m-262 1h1m303 0h2m-219 1h1m36 0h1m137 0h2m-75 1h2m-240 1h1m94 0h1m-22 1h1m64 0h2m-136 1h1m85 0h1m132 1h2m-124 1h1m64 0h1m-97 1h1m9 0h1m20 0h1m208 1h2m-157 1h1m25 0h1m-79 1h1m-82 1h1m193 0h2m-138 2h1m20 0h1m11 0h1m-3 1h1m-104 1h1m103 0h1m-55 1h1m23 0h1m3 1h1m20 0h1m93 0h1m-123 1h1m10 0h1m-73 1h1m4 1h1m5 0h1m10 0h1m36 0h1m65 0h2m223 0h2m-214 1h2m-112 1h1m310 0h3m-318 2h1m30 0h1m61 0h1m-46 1h1m21 0h1m-12 1h1m268 0h3m14 2h3m-308 1h1m28 0h1m54 0h1m-136 1h1m215 2h2m-224 2h1m27 0h1m51 0h1m5 0h1m-91 2h1m83 0h1m45 2h1m71 0h2m-125 1h1m54 0h1m125 0h2m-148 1h1m-26 2h1m160 0h2m111 0h3m-392 1h1m93 0h1m-68 1h1m5 0h1m33 1h1m127 0h1m-127 1h1m15 0h1m10 0h1m15 1h1m24 0h2m-28 2h1m54 0h1m34 0h2m-88 1h1m45 0h2m-114 1h1m5 0h1m96 0h2m-64 1h1m133 0h2m-160 1h1m-21 2h1m45 0h1m224 0h3m-213 1h1m284 0h3m-292 1h1m122 0h2m-177 1h1m95 2h1m-58 1h1m41 0h1m-20 2h1m192 0h2m29 0h2m-192 1h1m-20 2h1m-128 1h1m169 0h1m127 1h2m-215 1h1m3 0h1m3 1h1m3 1h1m10 0h1m282 0h3m-383 1h1m15 0h1m80 0h1m210 2h2m-294 1h1m291 0h2m-185 1h2m-52 1h1m121 0h2m-110 2h1m7 0h1m13 0h1m16 0h1m68 0h2m104 0h2m20 0h2m-189 1h1m-57 2h1m23 0h1m163 0h2m-124 1h1m159 0h2m-231 2h1m212 0h2m86 1h3m-279 1h1m87 0h3m-117 3h1m7 0h1m10 0h2m-4 1h1m-67 1h1m53 0h1m111 0h2m77 0h2m79 0h3m-262 1h1m2 0h1m-19 1h1m115 0h2m118 0h3m-246 1h1m105 0h1m196 0h3m-191 1h2m-125 1h1m110 0h1m-94 1h1m43 0h1m-50 1h1m-15 1h1m271 0h3m-266 1h1m91 0h2m12 0h1m-107 1h1m103 0h2m-83 1h1m70 1h1m86 0h4m-172 1h1m1 0h1m94 0h2m185 0h3m-8 1h3m-233 2h2m115 0h2m-255 1h1m14 0h1m89 0h1m-36 1h1m59 0h1m227 0h3m-352 1h1m72 1h1m15 0h1m48 0h1m-138 1h1m87 1h1m0 1h1m-3 1h1m-69 2h1m72 4h1m-97 1h1m28 0h1m136 0h2m187 0h2m-263 1h1m148 0h2m-141 1h1m20 0h2m-54 1h1m17 0h1m257 1h3m-319 1h1m59 0h1m69 0h2m101 0h2m-201 1h1m200 0h2m-2 1h2m-235 1h1m96 0h1m219 1h3m-271 1h1m52 0h1m34 0h2m-105 1h1m-69 1h1m25 0h1m10 0h1m38 0h1m18 0h1m28 0h2m-106 1h1m-26 1h1m324 0h3m-256 1h1m10 0h1m-21 2h1m52 0h2m-91 2h1m56 0h1m13 0h1m276 1h3m-72 1h2m-206 1h1m253 0h3m-289 1h1m13 0h1m13 0h1m180 0h2m-154 1h1m-65 2h1m-29 2h1m66 1h1m245 0h3m-146 1h2m99 0h2m-230 1h1m85 1h2m48 0h2m85 0h2m32 0h3m37 0h3m-238 1h1m-130 1h1m58 0h1m6 0h1m2 0h1m8 0h1m16 0h2m19 0h1m13 0h1m139 0h2m-282 1h1m70 0h1m31 1h1m270 0h3m-291 1h1m9 0h1m-72 1h1m11 0h1m30 0h1m12 0h1m13 0h1m-45 1h1m181 1h2m84 0h3m-288 1h1m48 0h1m57 1h1m87 0h2m-159 1h1m232 0h2m-322 2h1m91 2h1m24 0h1m-23 1h1m290 0h3m-338 1h1m21 0h1m8 0h1m60 0h2m187 0h2m-226 1h1m283 1h3m-316 1h1m8 0h1m2 0h1m119 0h1m115 0h2m-245 1h1m285 0h3m-354 2h1m62 0h1m309 3h3m-353 1h1m152 0h1m185 0h2m-336 1h1m38 0h1m9 0h1m64 2h2m-108 1h1m87 0h2m83 0h2m-170 2h1m40 0h2m158 0h2m-37 3h2m-45 1h1m102 0h2m-237 1h1m34 0h1m242 0h3m-234 1h1m10 0h1m212 0h2m-231 1h1m30 0h1m50 0h2m24 1h2m-194 1h1m22 3h1m19 1h1m204 2h2m-145 1h1m237 0h2m-245 2h1m76 0h1m133 0h2m0 1h2m-234 1h1m27 0h1m273 0h3m-329 1h1m159 1h2m-86 1h1m131 0h2m-60 1h1m117 0h3m-277 1h1m249 1h3m-247 3h1m25 1h1m57 0h1m-141 1h1m149 0h1m-107 1h1m23 2h1m302 0h2m-68 1h2m40 1h2m-242 1h1m15 0h1m131 2h2m28 0h2m78 1h3m-237 2h1m-14 1h1m236 0h2m-358 1h1m170 2h1m-70 1h1m271 0h3m-338 1h1m273 0h2m-138 1h1m6 1h2m-173 1h1m225 1h2m-133 1h1m69 0h2m181 0h3m8 0h2m9 1h3m-235 1h1m-67 1h1m71 3h1m-88 1h1m11 0h1m294 0h3m-241 2h2m-71 1h1m303 0h3m-276 1h1m-77 1h1m-35 1h1m81 2h1m-5 1h1m71 0h1m135 0h2m29 1h3m-280 1h1m-23 2h1m8 0h1m152 0h1m-174 2h1m184 0h1m-189 1h1m108 1h1m-65 2h1m-5 1h1m-20 1h1m8 0h1m5 0h1m48 0h1m96 0h2m200 1h3m-300 2h1m18 0h1m40 0h2m-77 1h1m-25 1h1m329 0h3m-59 2h2m-173 1h1m208 0h2m-211 1h1m-14 1h2m2 0h1m-49 1h1m197 0h2m-278 1h1m8 0h1m11 0h1m22 0h1m2 0h1m10 0h1m12 0h1m24 0h1m15 0h1m1 0h1m53 0h1m24 0h2m45 0h2m38 0h3m79 0h3"/>
<path stroke="#25848e" d="M134 59.5h1m0 1h1m2 0h1m38 0h1m82 0h2m-158 1h1m299 1h2m-214 1h1m4 1h1m62 1h2m-47 1h1m-91 1h1m103 2h1m-76 1h1m42 1h1m-46 2h1m-16 1h1m165 0h2m-82 1h1m53 0h1m86 2h2m15 0h2m-249 1h1m330 0h3m-373 3h1m294 0h2m76 0h3m-122 3h2m-157 1h1m-64 1h1m61 0h1m-5 1h1m163 0h3m-239 1h1m210 0h2m-198 3h1m250 0h3m-190 1h1m127 0h2m71 0h2m-216 2h1m5 2h1m281 1h3m-211 1h2m63 4h2m-215 1h1m2 1h1m45 1h1m173 0h1m44 0h3m85 0h3m-278 2h1m-4 1h1m29 1h1m-33 1h1m88 0h1m190 1h3m-274 1h1m165 0h2m71 0h2m-277 4h1m8 1h1m2 1h1m191 0h2m7 1h2m-185 2h1m82 0h1m-86 1h1m-33 4h1m4 0h1m28 3h1m-49 1h1m12 0h1m-52 1h1m57 0h1m199 0h2m-195 1h1m8 1h1m55 0h1m-73 1h1m8 1h1m20 1h1m-37 1h1m29 1h1m41 0h1m164 0h2m66 0h3m-302 1h1m71 0h1m216 0h2m-290 4h1m66 0h2m-6 1h2m-68 1h1m148 0h2m-124 1h1m5 0h1m-29 1h1m246 1h3m-228 1h1m217 0h2m-306 4h1m137 0h2m-77 4h1m286 0h2m-348 1h1m87 1h1m52 0h2m-130 1h1m7 2h1m140 0h1m-176 1h1m366 0h2m-295 2h1m24 0h1m275 0h3m-364 4h1m-1 1h1m268 0h2m-129 1h1m212 0h3m-359 1h1m128 0h1m-23 4h1m227 6h3m-139 1h2m-99 2h1m-48 1h1m27 0h1m-20 1h1m14 0h1m-22 1h1m16 1h1m11 0h1m-5 1h1m-64 1h1m54 1h1m-5 1h1m88 0h2m-96 1h1m18 0h1m270 0h3m3 0h3m-284 1h1m117 2h2m-131 1h1m-27 1h1m21 0h1m-3 1h1m20 0h1m1 0h1m108 1h1m-210 1h1m25 3h1m11 0h1m40 1h1m11 0h1m204 0h3m46 1h3m27 0h3m-240 1h2m-54 1h1m6 1h1m2 0h1m204 0h2m45 3h3m-326 1h1m41 1h1m157 0h1m-140 2h1m233 2h3m-226 2h1m-34 1h1m132 1h3m-126 1h1m79 0h2m41 0h1m47 0h2m-160 1h1m8 2h1m64 1h2m-123 1h1m67 0h1m34 0h2m-46 1h1m-10 1h1m91 0h2m5 2h1m-58 1h1m56 0h1m-87 1h1m260 0h3m-352 1h1m21 0h1m334 1h3m-183 1h1m9 0h1m-210 1h1m36 0h1m44 0h1m9 1h1m103 0h1m120 0h3m-200 1h1m58 2h1m-3 1h2m1 0h2m76 1h2m21 0h2m-109 1h2m-6 1h1m-64 1h1m-75 1h1m50 0h1m23 0h1m-7 1h1m249 0h3m-283 2h1m26 0h1m282 0h3m-58 1h3m52 1h3m-381 1h1m40 0h1m89 1h1m-37 1h1m-18 1h1m78 0h2m61 0h2m66 0h2m-209 1h1m13 0h1m32 0h1m47 0h2m-79 1h1m-8 1h1m-22 1h1m-24 1h1m22 1h1m13 0h1m-11 2h1m167 0h5m-161 1h1m202 0h3m-47 1h2m-231 1h1m230 0h2m-151 2h1m53 0h2m-77 2h1m18 0h1m158 1h2m88 0h2m-254 1h1m-88 1h1m61 0h1m54 0h1m7 1h2m76 0h2m-136 1h1m2 0h1m284 0h3m-63 1h2m69 0h3m-285 1h1m-27 2h1m35 0h1m154 0h2m110 0h2m-215 1h2m-124 1h1m-31 2h1m67 0h1m17 0h1m-85 1h1m91 0h1m188 0h2m-117 3h2m189 1h3m-369 2h1m99 0h1m227 1h2m-277 1h1m329 1h3m-280 2h1m216 0h2m-238 2h1m78 1h2m-92 1h1m7 0h1m5 0h1m15 0h1m26 0h1m9 0h2m6 0h1m-74 2h1m0 1h1m-3 1h1m-57 1h1m289 1h2m-213 2h1m265 1h3m11 0h3m-382 1h1m381 0h3m-386 1h1m99 0h1m265 0h3m-299 3h1m257 2h2m-230 1h1m-1 1h1m85 0h1m-113 1h1m231 0h2m-221 1h1m198 0h2m-213 1h1m-56 1h1m84 2h1m266 2h2m-191 2h1m108 0h3m-289 1h1m72 0h1m21 2h1m29 0h1m-9 1h1m-55 1h1m30 0h1m-57 1h1m27 0h1m198 0h2m42 0h3m-210 1h1m197 0h2m-50 2h2m-210 1h1m41 0h1m265 0h3m-192 3h2m-164 2h1m49 3h1m139 4h1m-165 1h1m-14 1h1m4 0h1m1 5h1m-30 1h1m236 3h2m-124 1h1m64 1h2m-180 1h1m305 3h2m-93 1h2m52 1h2m-38 2h2m-167 3h1m311 0h3m-351 3h1m91 2h1m44 1h2m-139 6h1m108 0h1m35 0h1m-31 1h1m-134 4h1m273 1h2m90 0h3m-249 8h2m111 0h1m126 0h3m-325 2h1m142 0h2m146 1h2m-347 1h1m255 2h2m-256 2h1m113 0h1m56 3h1m-71 1h1m177 1h2m-89 1h2m-203 1h1m185 3h1m180 1h3m-353 1h1m15 4h1m1 0h3m1 0h1m19 0h1m9 0h1m5 0h1m7 0h1m53 0h2m2 0h1m67 0h3m7 0h2m10 0h2m4 0h2m24 0h2m11 0h2m19 0h2m7 0h2"/>
<path stroke="#21908d" d="M439 65.5h2m-42 2h3m-229 3h1m-69 3h1m124 6h2m-96 2h1m33 3h1m260 0h3m-351 4h1m244 2h2m91 2h3m-47 3h2m-17 10h2m-173 1h1m116 0h2m-33 5h1m-85 3h1m-23 1h1m-2 4h1m-90 1h1m141 5h1m-87 6h1m104 2h1m-69 1h1m-8 2h1m306 1h3m-282 1h1m245 0h3m-273 1h1m27 1h1m-38 3h1m-26 1h1m53 0h1m200 3h3m-201 2h1m30 0h2m222 0h3m-53 3h3m63 0h3m-275 1h1m271 0h3m-276 2h1m4 0h1m197 0h2m-200 3h2m200 1h3m-315 1h1m9 1h1m281 0h2m-221 1h1m4 1h1m-59 1h1m239 0h2m67 2h3m-22 1h2m-225 1h1m1 0h1m13 0h1m-6 1h1m11 0h1m-6 3h1m5 1h1m-32 3h1m26 1h1m4 0h1m236 3h3m-257 2h1m194 0h2m-279 1h1m71 0h1m101 0h1m-101 2h1m15 0h1m31 1h1m11 2h2m-130 1h1m57 1h1m34 1h1m-77 1h1m275 0h3m-201 3h1m-4 1h1m198 1h2m-210 1h2m97 0h1m81 0h2m-129 3h2m226 3h3m-282 1h1m1 0h1m180 2h2m-78 3h2m-112 1h1m-20 2h1m2 1h1m-10 1h1m-65 1h1m71 0h1m0 1h1m-65 5h1m2 0h1m24 0h1m156 0h2m153 0h3m-344 2h1m288 1h2m61 0h3m-285 1h1m104 1h2m-81 1h1m12 0h1m11 1h1m-58 2h1m3 0h1m-9 3h1m117 0h2m-114 1h1m19 0h1m32 0h2m-2 1h2m57 1h2m186 0h3m-202 3h2m-182 4h1m123 1h2m-136 1h1m107 1h1m-2 2h1m3 3h1m133 0h2m65 3h2m-279 3h1m73 0h1m47 1h1m-45 1h1m-5 2h1m276 0h3m-245 2h1m106 0h2m-203 1h1m58 0h1m129 2h2m-179 1h1m46 0h1m-95 1h1m257 0h4m-17 1h2m13 0h2m-189 3h1m184 1h2m-235 3h1m318 2h3m-255 1h1m39 1h1m-35 1h1m-35 3h1m3 1h1m-62 1h1m85 4h1m172 0h2m-197 1h1m299 0h3m-106 1h2m2 0h3m-17 2h4m-202 1h1m36 1h1m6 1h1m-36 1h1m143 0h2m-40 1h2m-99 1h1m109 0h1m-94 1h1m2 0h1m30 0h1m13 0h3m17 0h2m161 0h3m45 0h3m-304 1h1m297 0h6m-3 1h3m-36 1h3m-248 1h1m-6 1h1m23 1h1m-18 2h1m198 5h2m75 1h3m-302 3h1m-18 1h1m16 1h1m1 1h1m-70 2h1m85 0h1m186 0h2m-182 2h1m-69 2h1m30 0h1m-82 2h1m170 0h2m143 1h3m-281 2h1m60 1h1m-89 3h1m293 0h2m-174 2h1m-85 3h1m2 1h1m241 1h2m95 0h3m-12 2h3m-3 1h3m-142 3h2m71 9h3m-263 2h1m161 0h2m-26 1h1m35 0h2m-46 1h2m-170 5h1m279 2h2m-281 5h1m54 0h1m-45 2h1m-15 2h1m360 1h3m-241 4h1m60 0h2m-164 1h1m120 0h1m-121 1h1m337 0h3m-225 2h1m-142 4h1m-15 5h1m335 2h2m-292 1h1m-18 7h1m46 3h1m-26 3h1m264 1h3m-263 1h1m307 1h2m14 2h2m-378 2h1m383 0h3m-224 2h2m-78 1h1m20 1h1m34 0h2m-97 2h1m12 0h1m36 0h1m8 0h1m26 0h1m11 0h1m7 0h1m6 0h1m4 0h1m21 0h2m132 0h2"/>
<path stroke="#1e9b8a" d="M460 65.5h3m-259 6h1m83 0h1m-121 5h1m72 6h1m8 2h2m-92 6h1m36 0h1m-37 2h1m94 3h1m-65 2h1m59 4h1m144 4h2m-257 1h1m49 2h1m-108 1h1m91 0h1m-27 3h1m32 2h1m-52 7h1m116 1h2m-119 4h1m59 1h1m205 0h3m-214 3h1m192 0h2m-291 1h1m167 0h2m-145 5h1m82 2h1m-30 2h1m6 0h1m198 4h2m95 2h3m-305 2h1m113 0h2m-189 1h1m266 0h2m-230 4h1m212 0h2m-181 2h1m-73 1h1m370 2h3m-360 6h1m82 6h1m-92 1h1m36 0h1m32 0h1m25 1h2m261 1h3m-274 1h1m-89 3h1m65 0h1m11 14h1m286 0h3m-303 2h1m4 0h1m-9 1h1m255 5h2m-107 3h2m11 1h2m-216 8h1m80 2h1m263 2h2m-291 2h1m124 1h2m38 2h2m-179 3h1m125 3h1m-98 2h1m89 3h2m5 0h1m79 0h2m-189 1h1m98 0h1m-110 1h1m55 1h1m50 1h2m-96 2h1m3 0h1m76 0h1m-36 1h2m217 4h3m-186 1h2m1 0h2m126 0h2m-134 2h1m194 0h3m-293 7h1m48 4h2m-24 1h1m20 0h1m-134 1h1m353 0h2m-271 3h1m97 0h1m147 0h3m-251 1h1m77 0h2m-57 1h1m207 1h3m-150 6h1m96 3h2m-76 1h2m74 1h2m-156 1h1m32 0h2m59 2h2m-119 1h1m1 2h1m288 1h3m-5 1h5m-346 1h1m75 0h1m-39 4h1m294 2h5m-5 1h2m14 0h3m-285 1h1m136 0h2m-160 1h1m193 1h2m4 0h2m-186 2h1m-53 2h1m100 1h1m44 0h2m30 0h2m9 0h1m-230 2h1m378 0h3m-252 1h1m23 0h2m-51 3h1m168 0h2m-136 2h1m50 2h2m-121 1h1m60 0h2m105 0h2m-172 1h1m10 1h1m14 2h1m2 2h1m268 1h3m-321 1h1m25 1h1m36 3h1m-15 1h1m-100 3h1m72 0h1m-43 2h1m44 2h1m-81 4h1m108 1h1m-7 2h1m94 2h2m-46 5h1m-161 1h1m73 6h1m262 0h2m44 8h3m-182 1h2m114 5h2m-247 8h1m37 5h1m203 0h3m-5 1h2m-264 2h1m167 10h2m-108 6h1m67 2h1m-78 1h1m279 3h3m-345 4h1m270 2h2m-304 1h1m375 3h3m-382 7h1m11 6h1m1 0h1m4 0h1m4 0h1m3 0h1m80 0h1m87 0h2m7 0h1m69 0h2m25 0h2m29 0h3"/>
<path stroke="#21a685" d="M404 59.5h2m-296 2h1m346 6h3m-343 4h1m350 5h3m-372 8h1m62 1h1m-65 3h1m300 15h3m-222 5h1m282 1h2m-137 4h2m-179 14h1m65 2h1m-33 2h1m-9 5h1m-8 2h1m65 7h1m-43 2h1m-6 1h1m-96 9h1m78 12h1m-6 2h1m37 0h1m73 4h1m-98 4h1m-27 12h1m3 6h1m312 0h3m-281 2h1m271 5h3m-161 1h2m-43 1h2m-139 6h1m341 0h3m-192 3h1m-156 6h1m160 2h2m-24 2h2m-111 3h1m26 0h1m111 0h2m-15 5h2m-3 2h1m-8 1h2m-5 3h2m-94 1h1m-9 5h1m84 2h2m-5 1h2m111 2h2m-201 1h1m15 0h1m31 6h2m-51 2h1m30 1h1m73 3h2m-96 3h1m-6 1h1m6 0h1m12 2h1m150 3h2m15 0h2m-205 1h1m7 1h1m225 0h2m-46 2h2m121 0h3m-301 8h1m11 0h1m192 2h2m-2 3h2m-11 3h3m-11 2h4m-287 3h1m206 2h1m-15 1h1m-9 1h2m-67 1h1m39 0h1m15 0h2m-78 3h1m267 3h3m-5 1h2m3 7h3m16 0h3m-314 2h1m20 5h1m106 19h1m-20 3h2m-52 1h2m239 0h3m-373 1h1m9 4h1m-12 11h1m309 1h3m-315 2h1m386 12h3m-46 20h3m-325 2h1m347 4h3m-288 2h1m121 0h2m-139 3h1m-64 9h1m-13 9h1m186 0h2m82 0h3m19 0h2"/>
<path stroke="#2ab07f" d="M404 88.5h2m68 1h3m-360 33h1m242 0h2m-192 27h1m3 5h1m40 3h1m-36 15h1m-8 13h1m25 10h1m-30 4h1m44 2h1m-15 7h1m145 1h2m-133 12h1m77 3h2m-8 6h1m-190 1h1m201 0h2m-20 4h2m-5 3h1m-19 8h1m-78 3h1m13 8h1m-10 26h1m190 2h2m56 1h2m-42 1h3m-211 2h1m189 1h2m-13 3h2m69 3h3m-339 1h1m86 0h1m129 0h2m-132 5h1m11 0h2m27 0h1m25 0h1m6 0h2m179 6h2m-314 19h1m48 11h1m93 0h2m11 0h2m126 2h2m-290 8h1m25 2h1m-41 18h1m-24 16h1m40 7h1m338 4h3m-342 18h1m63 0h1m265 3h3m6 1h3m-305 2h1m-74 7h1m14 0h1m7 0h1m4 0h1m40 0h1m8 0h1m50 0h1m28 0h2m113 0h3m64 0h2"/>
<path stroke="#3bbb75" d="M199 71.5h1m-9 1h1m40 1h1m198 17h3m-68 1h2m-249 6h1m68 21h1m154 10h2m-202 28h1m182 11h2m-155 32h1m45 3h2m85 13h2m116 8h2m-255 9h1m109 0h2m3 3h2m72 0h2m-81 1h2m-14 6h2m-15 5h1m-1 1h1m0 1h2m86 23h2m-153 4h1m161 2h2m4 7h2m-15 9h2m7 0h2m-224 4h1m-2 1h1m34 0h1m115 0h2m31 0h2m-44 1h1m28 0h4m-33 1h1m-78 1h1m29 0h2m6 0h1m4 3h2m-122 3h1m74 3h1m189 2h2m51 3h3m19 30h2m-174 62h2m-183 14h1m2 4h1m73 0h1m72 0h2m6 0h1m36 0h1m125 0h3"/>
<path stroke="#52c569" d="M185 105.5h1m191 7h2m-186 6h1m-33 40h1m67 12h1m-69 7h1m-70 21h1m10 37h1m176 1h1m-3 1h3m-47 1h2m42 1h2m-18 6h1m-165 17h1m88 0h1m-13 3h1m177 12h3m2 2h2m-186 1h1m187 2h2m17 6h2m-42 7h2m-9 1h2m17 0h3m-62 4h4m-38 1h2m179 0h3m-256 1h1m76 0h1m183 7h3m-265 7h1m256 0h3m18 1h3m-314 27h1m-45 21h1m242 0h3m-250 17h1m89 21h1m7 1h1m49 22h2"/>
<path stroke="#6ccd5a" d="M280 231.5h1m0 7h2m-27 11h1m90 24h2m7 6h2m2 1h2m-2 11h2m-11 3h2m-14 1h2m-11 1h2m4 0h2m13 0h2m-23 3h2m-34 1h1m-3 1h2m-109 1h1m1 0h1m40 0h1m35 0h1m-58 124h1m217 0h2"/>
<path stroke="#89d548" d="M281 237.5h2m-26 10h2m94 29h3m4 7h4m0 5h2m-2 3h2m-13 2h3m-13 2h2m11 0h2m-9 1h2m-58 5h1"/>
<path stroke="#a8db34" d="M289 229.5h2m-13 9h2m65 33h2m15 18h2m-32 7h2m-56 4h2m3 0h3m-23 1h2m10 0h2m12 0h2m-104 1h1m2 0h1m264 14h2m-295 110h1"/>
<path stroke="#c8e020" d="M222 256.5h2m129 22h3m10 9h2m-21 7h2m-25 3h2m10 0h2m-66 3h2m7 0h2m-29 1h2m9 0h1m2 0h1m25 0h2m-24 1h2"/>
<path stroke="#e7e419" d="M457 137.5h8m-5 1h5m-176 90h2m-14 11h1m-1 1h1m-15 5h2m-43 10h1m135 25h2m0 1h2m-19 15h2m-19 1h2m4 1h2m2 0h2m3 0h2m-44 2h2m-42 1h1m21 0h4m-25 1h2m7 0h2m186 14h3m-13 1h2m8 0h3m-301 47h1m-1 1h1m-1 1h1m206 60h2m2 0h2"/>
<path stroke="#fde725" d="M444 137.5h11m-11 1h11m2 0h3m-183 100h1m-6 2h2m-2 1h2m-2 1h2m-51 13h1m134 26h2m0 1h2m0 2h4m-2 1h2m-2 1h2m-2 1h2m0 1h2m-4 1h4m-6 1h4m-4 1h2m-6 1h6m-8 1h6m-9 1h5m-13 1h11m-18 1h5m2 0h4m-21 1h8m2 0h9m-25 1h10m2 0h2m2 0h3m-19 1h8m-44 1h5m2 0h1m-38 1h1m5 0h1m6 0h6m3 0h3m4 0h3m3 0h2m-39 1h2m191 14h5m-3 1h3m-28 109h2"/>
<path stroke="#375b8d" d="M393.5 59v29"/>
<path stroke="#f4e61e" d="M459 365.5h2m-2 1h2"/>
</g>
<defs><linearGradient id="vg" x1="0" y1="1" x2="0" y2="0"><stop offset="0.0000" stop-color="#440154"/><stop offset="0.0312" stop-color="#470d60"/><stop offset="0.0625" stop-color="#48186a"/><stop offset="0.0938" stop-color="#482374"/><stop offset="0.1250" stop-color="#472d7b"/><stop offset="0.1562" stop-color="#453781"/><stop offset="0.1875" stop-color="#424086"/><stop offset="0.2188" stop-color="#3e4989"/><stop offset="0.2500" stop-color="#3b528b"/><stop offset="0.2812" stop-color="#375b8d"/><stop offset="0.3125" stop-color="#33638d"/><stop offset="0.3438" stop-color="#2f6b8e"/><stop offset="0.3750" stop-color="#2c728e"/><stop offset="0.4062" stop-color="#297a8e"/><stop offset="0.4375" stop-color="#26828e"/><stop offset="0.4688" stop-color="#23898e"/><stop offset="0.5000" stop-color="#21918c"/><stop offset="0.5312" stop-color="#1f988b"/><stop offset="0.5625" stop-color="#1fa088"/><stop offset="0.5938" stop-color="#22a785"/><stop offset="0.6250" stop-color="#28ae80"/><stop offset="0.6562" stop-color="#32b67a"/><stop offset="0.6875" stop-color="#3fbc73"/><stop offset="0.7188" stop-color="#4ec36b"/><stop offset="0.7500" stop-color="#5ec962"/><stop offset="0.7812" stop-color="#70cf57"/><stop offset="0.8125" stop-color="#84d44b"/><stop offset="0.8438" stop-color="#98d83e"/><stop offset="0.8750" stop-color="#addc30"/><stop offset="0.9062" stop-color="#c2df23"/><stop offset="0.9375" stop-color="#d8e219"/><stop offset="0.9688" stop-color="#ece51b"/><stop offset="1.0000" stop-color="#fde725"/></linearGradient></defs>
<rect x="502" y="58" width="19" height="370" fill="url(#vg)" shape-rendering="crispEdges"/>
<g fill="none" stroke="#000" stroke-width="1" stroke-linecap="square" shape-rendering="crispEdges"><rect x="80.5" y="58.5" width="397.0" height="369.0"/><rect x="502.5" y="58.5" width="18.0" height="369.0"/></g>
<path d="M92.5 427.5v5.31M150.5 427.5v5.31M208.5 427.5v5.31M267.5 427.5v5.31M325.5 427.5v5.31M383.5 427.5v5.31M442.5 427.5v5.31M80.3 427.5h-4.86M80.3 366.5h-4.86M80.3 304.5h-4.86M80.3 242.5h-4.86M80.3 181.5h-4.86M80.3 119.5h-4.86M80.3 58.5h-4.86M520.4 427.5h5.46M520.4 366.5h5.46M520.4 304.5h5.46M520.4 242.5h5.46M520.4 181.5h5.46M520.4 119.5h5.46M520.4 58.5h5.46" stroke="#000" stroke-width="1" fill="none"/>
<g class="t10" text-anchor="middle"><text x="91.97" y="448.08">2</text><text x="150.32" y="448.08">4</text><text x="208.68" y="448.08">6</text><text x="267.03" y="448.08">8</text><text x="325.38" y="448.08">10</text><text x="383.74" y="448.08">12</text><text x="442.09" y="448.08">14</text><text x="278.40" y="467.27">Frequency[MHz]</text></g>
<g class="t10" text-anchor="end"><text x="70.68" y="433.00">0</text><text x="70.68" y="371.00">500</text><text x="70.68" y="310.00">1000</text><text x="70.68" y="248.00">1500</text><text x="70.68" y="186.00">2000</text><text x="70.68" y="125.00">2500</text><text x="70.68" y="63.00">3000</text></g>
<g class="t10" text-anchor="start"><text x="529.80" y="433.00">0</text><text x="529.80" y="371.00">5</text><text x="529.80" y="310.00">10</text><text x="529.80" y="248.00">15</text><text x="529.80" y="186.00">20</text><text x="529.80" y="125.00">25</text><text x="529.80" y="63.00">30</text></g>
<text class="t10" text-anchor="middle" transform="translate(25.29 243.10) rotate(-90)">Virtual Distance[Km]</text>
<text class="t10" text-anchor="middle" transform="translate(562.98 243.20) rotate(-90)">SNR [dB]</text>
<g text-anchor="middle" style="font-size:16.667px" letter-spacing="0.06"><text x="278.40" y="32.00">Ionogram Jicamarca-Piura Polarization NE45°</text><text x="278.40" y="49.27">02/23/2025-11:53:05 UTC</text></g>
</svg>
</body></html>
